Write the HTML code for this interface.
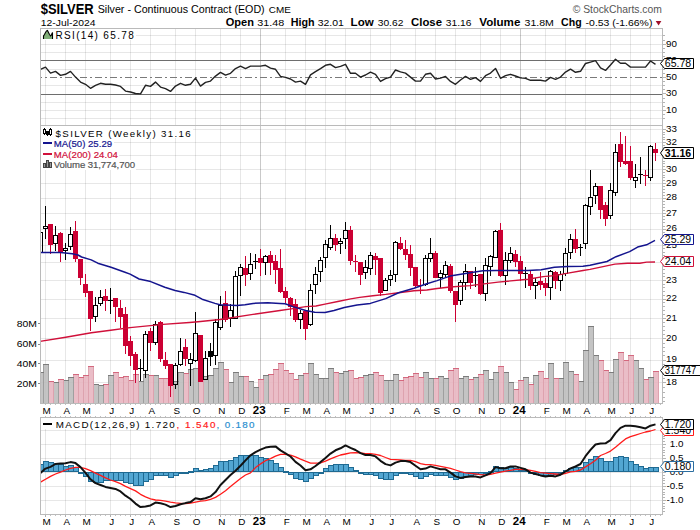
<!DOCTYPE html><html><head><meta charset="utf-8"><style>html,body{margin:0;padding:0;background:#fff;}svg{display:block;}</style></head><body><svg width="700" height="530" viewBox="0 0 700 530" shape-rendering="crispEdges">
<rect x="0" y="0" width="700" height="530" fill="#ffffff"/>
<line x1="45.5" y1="28" x2="45.5" y2="403" stroke="#000" stroke-width="1" stroke-opacity="0.095"/>
<line x1="45.5" y1="417" x2="45.5" y2="514" stroke="#000" stroke-width="1" stroke-opacity="0.095"/>
<line x1="65.5" y1="28" x2="65.5" y2="403" stroke="#000" stroke-width="1" stroke-opacity="0.095"/>
<line x1="65.5" y1="417" x2="65.5" y2="514" stroke="#000" stroke-width="1" stroke-opacity="0.095"/>
<line x1="85.5" y1="28" x2="85.5" y2="403" stroke="#000" stroke-width="1" stroke-opacity="0.095"/>
<line x1="85.5" y1="417" x2="85.5" y2="514" stroke="#000" stroke-width="1" stroke-opacity="0.095"/>
<line x1="110.5" y1="28" x2="110.5" y2="403" stroke="#000" stroke-width="1" stroke-opacity="0.095"/>
<line x1="110.5" y1="417" x2="110.5" y2="514" stroke="#000" stroke-width="1" stroke-opacity="0.095"/>
<line x1="130.5" y1="28" x2="130.5" y2="403" stroke="#000" stroke-width="1" stroke-opacity="0.095"/>
<line x1="130.5" y1="417" x2="130.5" y2="514" stroke="#000" stroke-width="1" stroke-opacity="0.095"/>
<line x1="150.5" y1="28" x2="150.5" y2="403" stroke="#000" stroke-width="1" stroke-opacity="0.095"/>
<line x1="150.5" y1="417" x2="150.5" y2="514" stroke="#000" stroke-width="1" stroke-opacity="0.095"/>
<line x1="175.5" y1="28" x2="175.5" y2="403" stroke="#000" stroke-width="1" stroke-opacity="0.095"/>
<line x1="175.5" y1="417" x2="175.5" y2="514" stroke="#000" stroke-width="1" stroke-opacity="0.095"/>
<line x1="195.5" y1="28" x2="195.5" y2="403" stroke="#000" stroke-width="1" stroke-opacity="0.095"/>
<line x1="195.5" y1="417" x2="195.5" y2="514" stroke="#000" stroke-width="1" stroke-opacity="0.095"/>
<line x1="220.5" y1="28" x2="220.5" y2="403" stroke="#000" stroke-width="1" stroke-opacity="0.095"/>
<line x1="220.5" y1="417" x2="220.5" y2="514" stroke="#000" stroke-width="1" stroke-opacity="0.095"/>
<line x1="240.5" y1="28" x2="240.5" y2="403" stroke="#000" stroke-width="1" stroke-opacity="0.095"/>
<line x1="240.5" y1="417" x2="240.5" y2="514" stroke="#000" stroke-width="1" stroke-opacity="0.095"/>
<line x1="260.5" y1="28" x2="260.5" y2="403" stroke="#000" stroke-width="1" stroke-opacity="0.21"/>
<line x1="260.5" y1="417" x2="260.5" y2="514" stroke="#000" stroke-width="1" stroke-opacity="0.21"/>
<line x1="285.5" y1="28" x2="285.5" y2="403" stroke="#000" stroke-width="1" stroke-opacity="0.095"/>
<line x1="285.5" y1="417" x2="285.5" y2="514" stroke="#000" stroke-width="1" stroke-opacity="0.095"/>
<line x1="305.5" y1="28" x2="305.5" y2="403" stroke="#000" stroke-width="1" stroke-opacity="0.095"/>
<line x1="305.5" y1="417" x2="305.5" y2="514" stroke="#000" stroke-width="1" stroke-opacity="0.095"/>
<line x1="325.5" y1="28" x2="325.5" y2="403" stroke="#000" stroke-width="1" stroke-opacity="0.095"/>
<line x1="325.5" y1="417" x2="325.5" y2="514" stroke="#000" stroke-width="1" stroke-opacity="0.095"/>
<line x1="345.5" y1="28" x2="345.5" y2="403" stroke="#000" stroke-width="1" stroke-opacity="0.095"/>
<line x1="345.5" y1="417" x2="345.5" y2="514" stroke="#000" stroke-width="1" stroke-opacity="0.095"/>
<line x1="370.5" y1="28" x2="370.5" y2="403" stroke="#000" stroke-width="1" stroke-opacity="0.095"/>
<line x1="370.5" y1="417" x2="370.5" y2="514" stroke="#000" stroke-width="1" stroke-opacity="0.095"/>
<line x1="390.5" y1="28" x2="390.5" y2="403" stroke="#000" stroke-width="1" stroke-opacity="0.095"/>
<line x1="390.5" y1="417" x2="390.5" y2="514" stroke="#000" stroke-width="1" stroke-opacity="0.095"/>
<line x1="415.5" y1="28" x2="415.5" y2="403" stroke="#000" stroke-width="1" stroke-opacity="0.095"/>
<line x1="415.5" y1="417" x2="415.5" y2="514" stroke="#000" stroke-width="1" stroke-opacity="0.095"/>
<line x1="435.5" y1="28" x2="435.5" y2="403" stroke="#000" stroke-width="1" stroke-opacity="0.095"/>
<line x1="435.5" y1="417" x2="435.5" y2="514" stroke="#000" stroke-width="1" stroke-opacity="0.095"/>
<line x1="455.5" y1="28" x2="455.5" y2="403" stroke="#000" stroke-width="1" stroke-opacity="0.095"/>
<line x1="455.5" y1="417" x2="455.5" y2="514" stroke="#000" stroke-width="1" stroke-opacity="0.095"/>
<line x1="480.5" y1="28" x2="480.5" y2="403" stroke="#000" stroke-width="1" stroke-opacity="0.095"/>
<line x1="480.5" y1="417" x2="480.5" y2="514" stroke="#000" stroke-width="1" stroke-opacity="0.095"/>
<line x1="500.5" y1="28" x2="500.5" y2="403" stroke="#000" stroke-width="1" stroke-opacity="0.095"/>
<line x1="500.5" y1="417" x2="500.5" y2="514" stroke="#000" stroke-width="1" stroke-opacity="0.095"/>
<line x1="520.5" y1="28" x2="520.5" y2="403" stroke="#000" stroke-width="1" stroke-opacity="0.21"/>
<line x1="520.5" y1="417" x2="520.5" y2="514" stroke="#000" stroke-width="1" stroke-opacity="0.21"/>
<line x1="545.5" y1="28" x2="545.5" y2="403" stroke="#000" stroke-width="1" stroke-opacity="0.095"/>
<line x1="545.5" y1="417" x2="545.5" y2="514" stroke="#000" stroke-width="1" stroke-opacity="0.095"/>
<line x1="565.5" y1="28" x2="565.5" y2="403" stroke="#000" stroke-width="1" stroke-opacity="0.095"/>
<line x1="565.5" y1="417" x2="565.5" y2="514" stroke="#000" stroke-width="1" stroke-opacity="0.095"/>
<line x1="585.5" y1="28" x2="585.5" y2="403" stroke="#000" stroke-width="1" stroke-opacity="0.095"/>
<line x1="585.5" y1="417" x2="585.5" y2="514" stroke="#000" stroke-width="1" stroke-opacity="0.095"/>
<line x1="610.5" y1="28" x2="610.5" y2="403" stroke="#000" stroke-width="1" stroke-opacity="0.095"/>
<line x1="610.5" y1="417" x2="610.5" y2="514" stroke="#000" stroke-width="1" stroke-opacity="0.095"/>
<line x1="630.5" y1="28" x2="630.5" y2="403" stroke="#000" stroke-width="1" stroke-opacity="0.095"/>
<line x1="630.5" y1="417" x2="630.5" y2="514" stroke="#000" stroke-width="1" stroke-opacity="0.095"/>
<line x1="650.5" y1="28" x2="650.5" y2="403" stroke="#000" stroke-width="1" stroke-opacity="0.095"/>
<line x1="650.5" y1="417" x2="650.5" y2="514" stroke="#000" stroke-width="1" stroke-opacity="0.095"/>
<line x1="40" y1="118.5" x2="662" y2="118.5" stroke="#000" stroke-width="1" stroke-opacity="0.095"/>
<line x1="40" y1="110.5" x2="662" y2="110.5" stroke="#000" stroke-width="1" stroke-opacity="0.095"/>
<line x1="40" y1="102.5" x2="662" y2="102.5" stroke="#000" stroke-width="1" stroke-opacity="0.095"/>
<line x1="40" y1="85.5" x2="662" y2="85.5" stroke="#000" stroke-width="1" stroke-opacity="0.095"/>
<line x1="40" y1="69.5" x2="662" y2="69.5" stroke="#000" stroke-width="1" stroke-opacity="0.095"/>
<line x1="40" y1="52.5" x2="662" y2="52.5" stroke="#000" stroke-width="1" stroke-opacity="0.095"/>
<line x1="40" y1="44.5" x2="662" y2="44.5" stroke="#000" stroke-width="1" stroke-opacity="0.095"/>
<line x1="40" y1="35.5" x2="662" y2="35.5" stroke="#000" stroke-width="1" stroke-opacity="0.095"/>
<line x1="40" y1="60.5" x2="662" y2="60.5" stroke="#6e6e6e" stroke-width="1" />
<line x1="40" y1="94.5" x2="662" y2="94.5" stroke="#6e6e6e" stroke-width="1" />
<line x1="40" y1="77.5" x2="662" y2="77.5" stroke="#7a7a7a" stroke-width="1" stroke-dasharray="7,3,2,3" stroke-dashoffset="5"/>
<line x1="40" y1="382.5" x2="662" y2="382.5" stroke="#000" stroke-width="1" stroke-opacity="0.095"/>
<line x1="40" y1="360.5" x2="662" y2="360.5" stroke="#000" stroke-width="1" stroke-opacity="0.095"/>
<line x1="40" y1="338.5" x2="662" y2="338.5" stroke="#000" stroke-width="1" stroke-opacity="0.095"/>
<line x1="40" y1="318.5" x2="662" y2="318.5" stroke="#000" stroke-width="1" stroke-opacity="0.095"/>
<line x1="40" y1="299.5" x2="662" y2="299.5" stroke="#000" stroke-width="1" stroke-opacity="0.095"/>
<line x1="40" y1="280.5" x2="662" y2="280.5" stroke="#000" stroke-width="1" stroke-opacity="0.095"/>
<line x1="40" y1="262.5" x2="662" y2="262.5" stroke="#000" stroke-width="1" stroke-opacity="0.095"/>
<line x1="40" y1="245.5" x2="662" y2="245.5" stroke="#000" stroke-width="1" stroke-opacity="0.095"/>
<line x1="40" y1="229.5" x2="662" y2="229.5" stroke="#000" stroke-width="1" stroke-opacity="0.095"/>
<line x1="40" y1="213.5" x2="662" y2="213.5" stroke="#000" stroke-width="1" stroke-opacity="0.095"/>
<line x1="40" y1="198.5" x2="662" y2="198.5" stroke="#000" stroke-width="1" stroke-opacity="0.095"/>
<line x1="40" y1="183.5" x2="662" y2="183.5" stroke="#000" stroke-width="1" stroke-opacity="0.095"/>
<line x1="40" y1="169.5" x2="662" y2="169.5" stroke="#000" stroke-width="1" stroke-opacity="0.095"/>
<line x1="40" y1="155.5" x2="662" y2="155.5" stroke="#000" stroke-width="1" stroke-opacity="0.095"/>
<line x1="40" y1="142.5" x2="662" y2="142.5" stroke="#000" stroke-width="1" stroke-opacity="0.095"/>
<line x1="40" y1="129.5" x2="662" y2="129.5" stroke="#000" stroke-width="1" stroke-opacity="0.095"/>
<line x1="40" y1="430.5" x2="662" y2="430.5" stroke="#000" stroke-width="1" stroke-opacity="0.095"/>
<line x1="40" y1="444.5" x2="662" y2="444.5" stroke="#000" stroke-width="1" stroke-opacity="0.095"/>
<line x1="40" y1="458.5" x2="662" y2="458.5" stroke="#000" stroke-width="1" stroke-opacity="0.095"/>
<line x1="40" y1="472.5" x2="662" y2="472.5" stroke="#000" stroke-width="1" stroke-opacity="0.095"/>
<line x1="40" y1="486.5" x2="662" y2="486.5" stroke="#000" stroke-width="1" stroke-opacity="0.095"/>
<line x1="40" y1="500.5" x2="662" y2="500.5" stroke="#000" stroke-width="1" stroke-opacity="0.095"/>
<rect x="653" y="371" width="6" height="32" fill="#e7b4bf" fill-opacity="0.88"/>
<line x1="653.5" y1="371" x2="653.5" y2="403" stroke="#dca0ac" stroke-width="1" stroke-opacity="0.9"/>
<line x1="658.5" y1="371" x2="658.5" y2="403" stroke="#dca0ac" stroke-width="1" stroke-opacity="0.9"/>
<line x1="653" y1="371.5" x2="659" y2="371.5" stroke="#d4687e" stroke-width="1"/>
<rect x="648" y="377" width="6" height="26" fill="#bcbcbc" fill-opacity="0.88"/>
<line x1="648.5" y1="377" x2="648.5" y2="403" stroke="#9c9c9c" stroke-width="1" stroke-opacity="0.9"/>
<line x1="653.5" y1="377" x2="653.5" y2="403" stroke="#9c9c9c" stroke-width="1" stroke-opacity="0.9"/>
<line x1="648" y1="377.5" x2="654" y2="377.5" stroke="#7c7c7c" stroke-width="1"/>
<rect x="643" y="379" width="6" height="24" fill="#e7b4bf" fill-opacity="0.88"/>
<line x1="643.5" y1="379" x2="643.5" y2="403" stroke="#dca0ac" stroke-width="1" stroke-opacity="0.9"/>
<line x1="648.5" y1="379" x2="648.5" y2="403" stroke="#dca0ac" stroke-width="1" stroke-opacity="0.9"/>
<line x1="643" y1="379.5" x2="649" y2="379.5" stroke="#d4687e" stroke-width="1"/>
<rect x="638" y="368" width="6" height="35" fill="#bcbcbc" fill-opacity="0.88"/>
<line x1="638.5" y1="368" x2="638.5" y2="403" stroke="#9c9c9c" stroke-width="1" stroke-opacity="0.9"/>
<line x1="643.5" y1="368" x2="643.5" y2="403" stroke="#9c9c9c" stroke-width="1" stroke-opacity="0.9"/>
<line x1="638" y1="368.5" x2="644" y2="368.5" stroke="#7c7c7c" stroke-width="1"/>
<rect x="633" y="360" width="6" height="43" fill="#bcbcbc" fill-opacity="0.88"/>
<line x1="633.5" y1="360" x2="633.5" y2="403" stroke="#9c9c9c" stroke-width="1" stroke-opacity="0.9"/>
<line x1="638.5" y1="360" x2="638.5" y2="403" stroke="#9c9c9c" stroke-width="1" stroke-opacity="0.9"/>
<line x1="633" y1="360.5" x2="639" y2="360.5" stroke="#7c7c7c" stroke-width="1"/>
<rect x="628" y="355" width="6" height="48" fill="#e7b4bf" fill-opacity="0.88"/>
<line x1="628.5" y1="355" x2="628.5" y2="403" stroke="#dca0ac" stroke-width="1" stroke-opacity="0.9"/>
<line x1="633.5" y1="355" x2="633.5" y2="403" stroke="#dca0ac" stroke-width="1" stroke-opacity="0.9"/>
<line x1="628" y1="355.5" x2="634" y2="355.5" stroke="#d4687e" stroke-width="1"/>
<rect x="623" y="360" width="6" height="43" fill="#e7b4bf" fill-opacity="0.88"/>
<line x1="623.5" y1="360" x2="623.5" y2="403" stroke="#dca0ac" stroke-width="1" stroke-opacity="0.9"/>
<line x1="628.5" y1="360" x2="628.5" y2="403" stroke="#dca0ac" stroke-width="1" stroke-opacity="0.9"/>
<line x1="623" y1="360.5" x2="629" y2="360.5" stroke="#d4687e" stroke-width="1"/>
<rect x="618" y="352" width="6" height="51" fill="#e7b4bf" fill-opacity="0.88"/>
<line x1="618.5" y1="352" x2="618.5" y2="403" stroke="#dca0ac" stroke-width="1" stroke-opacity="0.9"/>
<line x1="623.5" y1="352" x2="623.5" y2="403" stroke="#dca0ac" stroke-width="1" stroke-opacity="0.9"/>
<line x1="618" y1="352.5" x2="624" y2="352.5" stroke="#d4687e" stroke-width="1"/>
<rect x="613" y="359" width="6" height="44" fill="#bcbcbc" fill-opacity="0.88"/>
<line x1="613.5" y1="359" x2="613.5" y2="403" stroke="#9c9c9c" stroke-width="1" stroke-opacity="0.9"/>
<line x1="618.5" y1="359" x2="618.5" y2="403" stroke="#9c9c9c" stroke-width="1" stroke-opacity="0.9"/>
<line x1="613" y1="359.5" x2="619" y2="359.5" stroke="#7c7c7c" stroke-width="1"/>
<rect x="608" y="372" width="6" height="31" fill="#bcbcbc" fill-opacity="0.88"/>
<line x1="608.5" y1="372" x2="608.5" y2="403" stroke="#9c9c9c" stroke-width="1" stroke-opacity="0.9"/>
<line x1="613.5" y1="372" x2="613.5" y2="403" stroke="#9c9c9c" stroke-width="1" stroke-opacity="0.9"/>
<line x1="608" y1="372.5" x2="614" y2="372.5" stroke="#7c7c7c" stroke-width="1"/>
<rect x="603" y="370" width="6" height="33" fill="#e7b4bf" fill-opacity="0.88"/>
<line x1="603.5" y1="370" x2="603.5" y2="403" stroke="#dca0ac" stroke-width="1" stroke-opacity="0.9"/>
<line x1="608.5" y1="370" x2="608.5" y2="403" stroke="#dca0ac" stroke-width="1" stroke-opacity="0.9"/>
<line x1="603" y1="370.5" x2="609" y2="370.5" stroke="#d4687e" stroke-width="1"/>
<rect x="598" y="360" width="6" height="43" fill="#e7b4bf" fill-opacity="0.88"/>
<line x1="598.5" y1="360" x2="598.5" y2="403" stroke="#dca0ac" stroke-width="1" stroke-opacity="0.9"/>
<line x1="603.5" y1="360" x2="603.5" y2="403" stroke="#dca0ac" stroke-width="1" stroke-opacity="0.9"/>
<line x1="598" y1="360.5" x2="604" y2="360.5" stroke="#d4687e" stroke-width="1"/>
<rect x="593" y="355" width="6" height="48" fill="#bcbcbc" fill-opacity="0.88"/>
<line x1="593.5" y1="355" x2="593.5" y2="403" stroke="#9c9c9c" stroke-width="1" stroke-opacity="0.9"/>
<line x1="598.5" y1="355" x2="598.5" y2="403" stroke="#9c9c9c" stroke-width="1" stroke-opacity="0.9"/>
<line x1="593" y1="355.5" x2="599" y2="355.5" stroke="#7c7c7c" stroke-width="1"/>
<rect x="588" y="326" width="6" height="77" fill="#bcbcbc" fill-opacity="0.88"/>
<line x1="588.5" y1="326" x2="588.5" y2="403" stroke="#9c9c9c" stroke-width="1" stroke-opacity="0.9"/>
<line x1="593.5" y1="326" x2="593.5" y2="403" stroke="#9c9c9c" stroke-width="1" stroke-opacity="0.9"/>
<line x1="588" y1="326.5" x2="594" y2="326.5" stroke="#7c7c7c" stroke-width="1"/>
<rect x="583" y="350" width="6" height="53" fill="#bcbcbc" fill-opacity="0.88"/>
<line x1="583.5" y1="350" x2="583.5" y2="403" stroke="#9c9c9c" stroke-width="1" stroke-opacity="0.9"/>
<line x1="588.5" y1="350" x2="588.5" y2="403" stroke="#9c9c9c" stroke-width="1" stroke-opacity="0.9"/>
<line x1="583" y1="350.5" x2="589" y2="350.5" stroke="#7c7c7c" stroke-width="1"/>
<rect x="578" y="381" width="6" height="22" fill="#bcbcbc" fill-opacity="0.88"/>
<line x1="578.5" y1="381" x2="578.5" y2="403" stroke="#9c9c9c" stroke-width="1" stroke-opacity="0.9"/>
<line x1="583.5" y1="381" x2="583.5" y2="403" stroke="#9c9c9c" stroke-width="1" stroke-opacity="0.9"/>
<line x1="578" y1="381.5" x2="584" y2="381.5" stroke="#7c7c7c" stroke-width="1"/>
<rect x="573" y="374" width="6" height="29" fill="#e7b4bf" fill-opacity="0.88"/>
<line x1="573.5" y1="374" x2="573.5" y2="403" stroke="#dca0ac" stroke-width="1" stroke-opacity="0.9"/>
<line x1="578.5" y1="374" x2="578.5" y2="403" stroke="#dca0ac" stroke-width="1" stroke-opacity="0.9"/>
<line x1="573" y1="374.5" x2="579" y2="374.5" stroke="#d4687e" stroke-width="1"/>
<rect x="568" y="371" width="6" height="32" fill="#bcbcbc" fill-opacity="0.88"/>
<line x1="568.5" y1="371" x2="568.5" y2="403" stroke="#9c9c9c" stroke-width="1" stroke-opacity="0.9"/>
<line x1="573.5" y1="371" x2="573.5" y2="403" stroke="#9c9c9c" stroke-width="1" stroke-opacity="0.9"/>
<line x1="568" y1="371.5" x2="574" y2="371.5" stroke="#7c7c7c" stroke-width="1"/>
<rect x="563" y="362" width="6" height="41" fill="#bcbcbc" fill-opacity="0.88"/>
<line x1="563.5" y1="362" x2="563.5" y2="403" stroke="#9c9c9c" stroke-width="1" stroke-opacity="0.9"/>
<line x1="568.5" y1="362" x2="568.5" y2="403" stroke="#9c9c9c" stroke-width="1" stroke-opacity="0.9"/>
<line x1="563" y1="362.5" x2="569" y2="362.5" stroke="#7c7c7c" stroke-width="1"/>
<rect x="558" y="378" width="6" height="25" fill="#bcbcbc" fill-opacity="0.88"/>
<line x1="558.5" y1="378" x2="558.5" y2="403" stroke="#9c9c9c" stroke-width="1" stroke-opacity="0.9"/>
<line x1="563.5" y1="378" x2="563.5" y2="403" stroke="#9c9c9c" stroke-width="1" stroke-opacity="0.9"/>
<line x1="558" y1="378.5" x2="564" y2="378.5" stroke="#7c7c7c" stroke-width="1"/>
<rect x="553" y="378" width="6" height="25" fill="#e7b4bf" fill-opacity="0.88"/>
<line x1="553.5" y1="378" x2="553.5" y2="403" stroke="#dca0ac" stroke-width="1" stroke-opacity="0.9"/>
<line x1="558.5" y1="378" x2="558.5" y2="403" stroke="#dca0ac" stroke-width="1" stroke-opacity="0.9"/>
<line x1="553" y1="378.5" x2="559" y2="378.5" stroke="#d4687e" stroke-width="1"/>
<rect x="548" y="363" width="6" height="40" fill="#bcbcbc" fill-opacity="0.88"/>
<line x1="548.5" y1="363" x2="548.5" y2="403" stroke="#9c9c9c" stroke-width="1" stroke-opacity="0.9"/>
<line x1="553.5" y1="363" x2="553.5" y2="403" stroke="#9c9c9c" stroke-width="1" stroke-opacity="0.9"/>
<line x1="548" y1="363.5" x2="554" y2="363.5" stroke="#7c7c7c" stroke-width="1"/>
<rect x="543" y="378" width="6" height="25" fill="#e7b4bf" fill-opacity="0.88"/>
<line x1="543.5" y1="378" x2="543.5" y2="403" stroke="#dca0ac" stroke-width="1" stroke-opacity="0.9"/>
<line x1="548.5" y1="378" x2="548.5" y2="403" stroke="#dca0ac" stroke-width="1" stroke-opacity="0.9"/>
<line x1="543" y1="378.5" x2="549" y2="378.5" stroke="#d4687e" stroke-width="1"/>
<rect x="538" y="371" width="6" height="32" fill="#e7b4bf" fill-opacity="0.88"/>
<line x1="538.5" y1="371" x2="538.5" y2="403" stroke="#dca0ac" stroke-width="1" stroke-opacity="0.9"/>
<line x1="543.5" y1="371" x2="543.5" y2="403" stroke="#dca0ac" stroke-width="1" stroke-opacity="0.9"/>
<line x1="538" y1="371.5" x2="544" y2="371.5" stroke="#d4687e" stroke-width="1"/>
<rect x="533" y="375" width="6" height="28" fill="#bcbcbc" fill-opacity="0.88"/>
<line x1="533.5" y1="375" x2="533.5" y2="403" stroke="#9c9c9c" stroke-width="1" stroke-opacity="0.9"/>
<line x1="538.5" y1="375" x2="538.5" y2="403" stroke="#9c9c9c" stroke-width="1" stroke-opacity="0.9"/>
<line x1="533" y1="375.5" x2="539" y2="375.5" stroke="#7c7c7c" stroke-width="1"/>
<rect x="528" y="384" width="6" height="19" fill="#e7b4bf" fill-opacity="0.88"/>
<line x1="528.5" y1="384" x2="528.5" y2="403" stroke="#dca0ac" stroke-width="1" stroke-opacity="0.9"/>
<line x1="533.5" y1="384" x2="533.5" y2="403" stroke="#dca0ac" stroke-width="1" stroke-opacity="0.9"/>
<line x1="528" y1="384.5" x2="534" y2="384.5" stroke="#d4687e" stroke-width="1"/>
<rect x="523" y="377" width="6" height="26" fill="#bcbcbc" fill-opacity="0.88"/>
<line x1="523.5" y1="377" x2="523.5" y2="403" stroke="#9c9c9c" stroke-width="1" stroke-opacity="0.9"/>
<line x1="528.5" y1="377" x2="528.5" y2="403" stroke="#9c9c9c" stroke-width="1" stroke-opacity="0.9"/>
<line x1="523" y1="377.5" x2="529" y2="377.5" stroke="#7c7c7c" stroke-width="1"/>
<rect x="518" y="380" width="6" height="23" fill="#e7b4bf" fill-opacity="0.88"/>
<line x1="518.5" y1="380" x2="518.5" y2="403" stroke="#dca0ac" stroke-width="1" stroke-opacity="0.9"/>
<line x1="523.5" y1="380" x2="523.5" y2="403" stroke="#dca0ac" stroke-width="1" stroke-opacity="0.9"/>
<line x1="518" y1="380.5" x2="524" y2="380.5" stroke="#d4687e" stroke-width="1"/>
<rect x="513" y="389" width="6" height="14" fill="#e7b4bf" fill-opacity="0.88"/>
<line x1="513.5" y1="389" x2="513.5" y2="403" stroke="#dca0ac" stroke-width="1" stroke-opacity="0.9"/>
<line x1="518.5" y1="389" x2="518.5" y2="403" stroke="#dca0ac" stroke-width="1" stroke-opacity="0.9"/>
<line x1="513" y1="389.5" x2="519" y2="389.5" stroke="#d4687e" stroke-width="1"/>
<rect x="508" y="382" width="6" height="21" fill="#bcbcbc" fill-opacity="0.88"/>
<line x1="508.5" y1="382" x2="508.5" y2="403" stroke="#9c9c9c" stroke-width="1" stroke-opacity="0.9"/>
<line x1="513.5" y1="382" x2="513.5" y2="403" stroke="#9c9c9c" stroke-width="1" stroke-opacity="0.9"/>
<line x1="508" y1="382.5" x2="514" y2="382.5" stroke="#7c7c7c" stroke-width="1"/>
<rect x="503" y="372" width="6" height="31" fill="#bcbcbc" fill-opacity="0.88"/>
<line x1="503.5" y1="372" x2="503.5" y2="403" stroke="#9c9c9c" stroke-width="1" stroke-opacity="0.9"/>
<line x1="508.5" y1="372" x2="508.5" y2="403" stroke="#9c9c9c" stroke-width="1" stroke-opacity="0.9"/>
<line x1="503" y1="372.5" x2="509" y2="372.5" stroke="#7c7c7c" stroke-width="1"/>
<rect x="498" y="366" width="6" height="37" fill="#e7b4bf" fill-opacity="0.88"/>
<line x1="498.5" y1="366" x2="498.5" y2="403" stroke="#dca0ac" stroke-width="1" stroke-opacity="0.9"/>
<line x1="503.5" y1="366" x2="503.5" y2="403" stroke="#dca0ac" stroke-width="1" stroke-opacity="0.9"/>
<line x1="498" y1="366.5" x2="504" y2="366.5" stroke="#d4687e" stroke-width="1"/>
<rect x="493" y="372" width="6" height="31" fill="#bcbcbc" fill-opacity="0.88"/>
<line x1="493.5" y1="372" x2="493.5" y2="403" stroke="#9c9c9c" stroke-width="1" stroke-opacity="0.9"/>
<line x1="498.5" y1="372" x2="498.5" y2="403" stroke="#9c9c9c" stroke-width="1" stroke-opacity="0.9"/>
<line x1="493" y1="372.5" x2="499" y2="372.5" stroke="#7c7c7c" stroke-width="1"/>
<rect x="488" y="379" width="6" height="24" fill="#bcbcbc" fill-opacity="0.88"/>
<line x1="488.5" y1="379" x2="488.5" y2="403" stroke="#9c9c9c" stroke-width="1" stroke-opacity="0.9"/>
<line x1="493.5" y1="379" x2="493.5" y2="403" stroke="#9c9c9c" stroke-width="1" stroke-opacity="0.9"/>
<line x1="488" y1="379.5" x2="494" y2="379.5" stroke="#7c7c7c" stroke-width="1"/>
<rect x="483" y="370" width="6" height="33" fill="#bcbcbc" fill-opacity="0.88"/>
<line x1="483.5" y1="370" x2="483.5" y2="403" stroke="#9c9c9c" stroke-width="1" stroke-opacity="0.9"/>
<line x1="488.5" y1="370" x2="488.5" y2="403" stroke="#9c9c9c" stroke-width="1" stroke-opacity="0.9"/>
<line x1="483" y1="370.5" x2="489" y2="370.5" stroke="#7c7c7c" stroke-width="1"/>
<rect x="478" y="374" width="6" height="29" fill="#e7b4bf" fill-opacity="0.88"/>
<line x1="478.5" y1="374" x2="478.5" y2="403" stroke="#dca0ac" stroke-width="1" stroke-opacity="0.9"/>
<line x1="483.5" y1="374" x2="483.5" y2="403" stroke="#dca0ac" stroke-width="1" stroke-opacity="0.9"/>
<line x1="478" y1="374.5" x2="484" y2="374.5" stroke="#d4687e" stroke-width="1"/>
<rect x="473" y="377" width="6" height="26" fill="#bcbcbc" fill-opacity="0.88"/>
<line x1="473.5" y1="377" x2="473.5" y2="403" stroke="#9c9c9c" stroke-width="1" stroke-opacity="0.9"/>
<line x1="478.5" y1="377" x2="478.5" y2="403" stroke="#9c9c9c" stroke-width="1" stroke-opacity="0.9"/>
<line x1="473" y1="377.5" x2="479" y2="377.5" stroke="#7c7c7c" stroke-width="1"/>
<rect x="468" y="379" width="6" height="24" fill="#e7b4bf" fill-opacity="0.88"/>
<line x1="468.5" y1="379" x2="468.5" y2="403" stroke="#dca0ac" stroke-width="1" stroke-opacity="0.9"/>
<line x1="473.5" y1="379" x2="473.5" y2="403" stroke="#dca0ac" stroke-width="1" stroke-opacity="0.9"/>
<line x1="468" y1="379.5" x2="474" y2="379.5" stroke="#d4687e" stroke-width="1"/>
<rect x="463" y="376" width="6" height="27" fill="#bcbcbc" fill-opacity="0.88"/>
<line x1="463.5" y1="376" x2="463.5" y2="403" stroke="#9c9c9c" stroke-width="1" stroke-opacity="0.9"/>
<line x1="468.5" y1="376" x2="468.5" y2="403" stroke="#9c9c9c" stroke-width="1" stroke-opacity="0.9"/>
<line x1="463" y1="376.5" x2="469" y2="376.5" stroke="#7c7c7c" stroke-width="1"/>
<rect x="458" y="378" width="6" height="25" fill="#bcbcbc" fill-opacity="0.88"/>
<line x1="458.5" y1="378" x2="458.5" y2="403" stroke="#9c9c9c" stroke-width="1" stroke-opacity="0.9"/>
<line x1="463.5" y1="378" x2="463.5" y2="403" stroke="#9c9c9c" stroke-width="1" stroke-opacity="0.9"/>
<line x1="458" y1="378.5" x2="464" y2="378.5" stroke="#7c7c7c" stroke-width="1"/>
<rect x="453" y="368" width="6" height="35" fill="#e7b4bf" fill-opacity="0.88"/>
<line x1="453.5" y1="368" x2="453.5" y2="403" stroke="#dca0ac" stroke-width="1" stroke-opacity="0.9"/>
<line x1="458.5" y1="368" x2="458.5" y2="403" stroke="#dca0ac" stroke-width="1" stroke-opacity="0.9"/>
<line x1="453" y1="368.5" x2="459" y2="368.5" stroke="#d4687e" stroke-width="1"/>
<rect x="448" y="370" width="6" height="33" fill="#e7b4bf" fill-opacity="0.88"/>
<line x1="448.5" y1="370" x2="448.5" y2="403" stroke="#dca0ac" stroke-width="1" stroke-opacity="0.9"/>
<line x1="453.5" y1="370" x2="453.5" y2="403" stroke="#dca0ac" stroke-width="1" stroke-opacity="0.9"/>
<line x1="448" y1="370.5" x2="454" y2="370.5" stroke="#d4687e" stroke-width="1"/>
<rect x="443" y="378" width="6" height="25" fill="#bcbcbc" fill-opacity="0.88"/>
<line x1="443.5" y1="378" x2="443.5" y2="403" stroke="#9c9c9c" stroke-width="1" stroke-opacity="0.9"/>
<line x1="448.5" y1="378" x2="448.5" y2="403" stroke="#9c9c9c" stroke-width="1" stroke-opacity="0.9"/>
<line x1="443" y1="378.5" x2="449" y2="378.5" stroke="#7c7c7c" stroke-width="1"/>
<rect x="438" y="376" width="6" height="27" fill="#bcbcbc" fill-opacity="0.88"/>
<line x1="438.5" y1="376" x2="438.5" y2="403" stroke="#9c9c9c" stroke-width="1" stroke-opacity="0.9"/>
<line x1="443.5" y1="376" x2="443.5" y2="403" stroke="#9c9c9c" stroke-width="1" stroke-opacity="0.9"/>
<line x1="438" y1="376.5" x2="444" y2="376.5" stroke="#7c7c7c" stroke-width="1"/>
<rect x="433" y="378" width="6" height="25" fill="#e7b4bf" fill-opacity="0.88"/>
<line x1="433.5" y1="378" x2="433.5" y2="403" stroke="#dca0ac" stroke-width="1" stroke-opacity="0.9"/>
<line x1="438.5" y1="378" x2="438.5" y2="403" stroke="#dca0ac" stroke-width="1" stroke-opacity="0.9"/>
<line x1="433" y1="378.5" x2="439" y2="378.5" stroke="#d4687e" stroke-width="1"/>
<rect x="428" y="378" width="6" height="25" fill="#bcbcbc" fill-opacity="0.88"/>
<line x1="428.5" y1="378" x2="428.5" y2="403" stroke="#9c9c9c" stroke-width="1" stroke-opacity="0.9"/>
<line x1="433.5" y1="378" x2="433.5" y2="403" stroke="#9c9c9c" stroke-width="1" stroke-opacity="0.9"/>
<line x1="428" y1="378.5" x2="434" y2="378.5" stroke="#7c7c7c" stroke-width="1"/>
<rect x="423" y="372" width="6" height="31" fill="#bcbcbc" fill-opacity="0.88"/>
<line x1="423.5" y1="372" x2="423.5" y2="403" stroke="#9c9c9c" stroke-width="1" stroke-opacity="0.9"/>
<line x1="428.5" y1="372" x2="428.5" y2="403" stroke="#9c9c9c" stroke-width="1" stroke-opacity="0.9"/>
<line x1="423" y1="372.5" x2="429" y2="372.5" stroke="#7c7c7c" stroke-width="1"/>
<rect x="418" y="377" width="6" height="26" fill="#e7b4bf" fill-opacity="0.88"/>
<line x1="418.5" y1="377" x2="418.5" y2="403" stroke="#dca0ac" stroke-width="1" stroke-opacity="0.9"/>
<line x1="423.5" y1="377" x2="423.5" y2="403" stroke="#dca0ac" stroke-width="1" stroke-opacity="0.9"/>
<line x1="418" y1="377.5" x2="424" y2="377.5" stroke="#d4687e" stroke-width="1"/>
<rect x="413" y="373" width="6" height="30" fill="#e7b4bf" fill-opacity="0.88"/>
<line x1="413.5" y1="373" x2="413.5" y2="403" stroke="#dca0ac" stroke-width="1" stroke-opacity="0.9"/>
<line x1="418.5" y1="373" x2="418.5" y2="403" stroke="#dca0ac" stroke-width="1" stroke-opacity="0.9"/>
<line x1="413" y1="373.5" x2="419" y2="373.5" stroke="#d4687e" stroke-width="1"/>
<rect x="408" y="376" width="6" height="27" fill="#e7b4bf" fill-opacity="0.88"/>
<line x1="408.5" y1="376" x2="408.5" y2="403" stroke="#dca0ac" stroke-width="1" stroke-opacity="0.9"/>
<line x1="413.5" y1="376" x2="413.5" y2="403" stroke="#dca0ac" stroke-width="1" stroke-opacity="0.9"/>
<line x1="408" y1="376.5" x2="414" y2="376.5" stroke="#d4687e" stroke-width="1"/>
<rect x="403" y="377" width="6" height="26" fill="#e7b4bf" fill-opacity="0.88"/>
<line x1="403.5" y1="377" x2="403.5" y2="403" stroke="#dca0ac" stroke-width="1" stroke-opacity="0.9"/>
<line x1="408.5" y1="377" x2="408.5" y2="403" stroke="#dca0ac" stroke-width="1" stroke-opacity="0.9"/>
<line x1="403" y1="377.5" x2="409" y2="377.5" stroke="#d4687e" stroke-width="1"/>
<rect x="398" y="380" width="6" height="23" fill="#e7b4bf" fill-opacity="0.88"/>
<line x1="398.5" y1="380" x2="398.5" y2="403" stroke="#dca0ac" stroke-width="1" stroke-opacity="0.9"/>
<line x1="403.5" y1="380" x2="403.5" y2="403" stroke="#dca0ac" stroke-width="1" stroke-opacity="0.9"/>
<line x1="398" y1="380.5" x2="404" y2="380.5" stroke="#d4687e" stroke-width="1"/>
<rect x="393" y="374" width="6" height="29" fill="#bcbcbc" fill-opacity="0.88"/>
<line x1="393.5" y1="374" x2="393.5" y2="403" stroke="#9c9c9c" stroke-width="1" stroke-opacity="0.9"/>
<line x1="398.5" y1="374" x2="398.5" y2="403" stroke="#9c9c9c" stroke-width="1" stroke-opacity="0.9"/>
<line x1="393" y1="374.5" x2="399" y2="374.5" stroke="#7c7c7c" stroke-width="1"/>
<rect x="388" y="380" width="6" height="23" fill="#bcbcbc" fill-opacity="0.88"/>
<line x1="388.5" y1="380" x2="388.5" y2="403" stroke="#9c9c9c" stroke-width="1" stroke-opacity="0.9"/>
<line x1="393.5" y1="380" x2="393.5" y2="403" stroke="#9c9c9c" stroke-width="1" stroke-opacity="0.9"/>
<line x1="388" y1="380.5" x2="394" y2="380.5" stroke="#7c7c7c" stroke-width="1"/>
<rect x="383" y="380" width="6" height="23" fill="#bcbcbc" fill-opacity="0.88"/>
<line x1="383.5" y1="380" x2="383.5" y2="403" stroke="#9c9c9c" stroke-width="1" stroke-opacity="0.9"/>
<line x1="388.5" y1="380" x2="388.5" y2="403" stroke="#9c9c9c" stroke-width="1" stroke-opacity="0.9"/>
<line x1="383" y1="380.5" x2="389" y2="380.5" stroke="#7c7c7c" stroke-width="1"/>
<rect x="378" y="375" width="6" height="28" fill="#e7b4bf" fill-opacity="0.88"/>
<line x1="378.5" y1="375" x2="378.5" y2="403" stroke="#dca0ac" stroke-width="1" stroke-opacity="0.9"/>
<line x1="383.5" y1="375" x2="383.5" y2="403" stroke="#dca0ac" stroke-width="1" stroke-opacity="0.9"/>
<line x1="378" y1="375.5" x2="384" y2="375.5" stroke="#d4687e" stroke-width="1"/>
<rect x="373" y="372" width="6" height="31" fill="#e7b4bf" fill-opacity="0.88"/>
<line x1="373.5" y1="372" x2="373.5" y2="403" stroke="#dca0ac" stroke-width="1" stroke-opacity="0.9"/>
<line x1="378.5" y1="372" x2="378.5" y2="403" stroke="#dca0ac" stroke-width="1" stroke-opacity="0.9"/>
<line x1="373" y1="372.5" x2="379" y2="372.5" stroke="#d4687e" stroke-width="1"/>
<rect x="368" y="374" width="6" height="29" fill="#bcbcbc" fill-opacity="0.88"/>
<line x1="368.5" y1="374" x2="368.5" y2="403" stroke="#9c9c9c" stroke-width="1" stroke-opacity="0.9"/>
<line x1="373.5" y1="374" x2="373.5" y2="403" stroke="#9c9c9c" stroke-width="1" stroke-opacity="0.9"/>
<line x1="368" y1="374.5" x2="374" y2="374.5" stroke="#7c7c7c" stroke-width="1"/>
<rect x="363" y="375" width="6" height="28" fill="#bcbcbc" fill-opacity="0.88"/>
<line x1="363.5" y1="375" x2="363.5" y2="403" stroke="#9c9c9c" stroke-width="1" stroke-opacity="0.9"/>
<line x1="368.5" y1="375" x2="368.5" y2="403" stroke="#9c9c9c" stroke-width="1" stroke-opacity="0.9"/>
<line x1="363" y1="375.5" x2="369" y2="375.5" stroke="#7c7c7c" stroke-width="1"/>
<rect x="358" y="377" width="6" height="26" fill="#e7b4bf" fill-opacity="0.88"/>
<line x1="358.5" y1="377" x2="358.5" y2="403" stroke="#dca0ac" stroke-width="1" stroke-opacity="0.9"/>
<line x1="363.5" y1="377" x2="363.5" y2="403" stroke="#dca0ac" stroke-width="1" stroke-opacity="0.9"/>
<line x1="358" y1="377.5" x2="364" y2="377.5" stroke="#d4687e" stroke-width="1"/>
<rect x="353" y="378" width="6" height="25" fill="#e7b4bf" fill-opacity="0.88"/>
<line x1="353.5" y1="378" x2="353.5" y2="403" stroke="#dca0ac" stroke-width="1" stroke-opacity="0.9"/>
<line x1="358.5" y1="378" x2="358.5" y2="403" stroke="#dca0ac" stroke-width="1" stroke-opacity="0.9"/>
<line x1="353" y1="378.5" x2="359" y2="378.5" stroke="#d4687e" stroke-width="1"/>
<rect x="348" y="370" width="6" height="33" fill="#e7b4bf" fill-opacity="0.88"/>
<line x1="348.5" y1="370" x2="348.5" y2="403" stroke="#dca0ac" stroke-width="1" stroke-opacity="0.9"/>
<line x1="353.5" y1="370" x2="353.5" y2="403" stroke="#dca0ac" stroke-width="1" stroke-opacity="0.9"/>
<line x1="348" y1="370.5" x2="354" y2="370.5" stroke="#d4687e" stroke-width="1"/>
<rect x="343" y="371" width="6" height="32" fill="#bcbcbc" fill-opacity="0.88"/>
<line x1="343.5" y1="371" x2="343.5" y2="403" stroke="#9c9c9c" stroke-width="1" stroke-opacity="0.9"/>
<line x1="348.5" y1="371" x2="348.5" y2="403" stroke="#9c9c9c" stroke-width="1" stroke-opacity="0.9"/>
<line x1="343" y1="371.5" x2="349" y2="371.5" stroke="#7c7c7c" stroke-width="1"/>
<rect x="338" y="373" width="6" height="30" fill="#bcbcbc" fill-opacity="0.88"/>
<line x1="338.5" y1="373" x2="338.5" y2="403" stroke="#9c9c9c" stroke-width="1" stroke-opacity="0.9"/>
<line x1="343.5" y1="373" x2="343.5" y2="403" stroke="#9c9c9c" stroke-width="1" stroke-opacity="0.9"/>
<line x1="338" y1="373.5" x2="344" y2="373.5" stroke="#7c7c7c" stroke-width="1"/>
<rect x="333" y="372" width="6" height="31" fill="#e7b4bf" fill-opacity="0.88"/>
<line x1="333.5" y1="372" x2="333.5" y2="403" stroke="#dca0ac" stroke-width="1" stroke-opacity="0.9"/>
<line x1="338.5" y1="372" x2="338.5" y2="403" stroke="#dca0ac" stroke-width="1" stroke-opacity="0.9"/>
<line x1="333" y1="372.5" x2="339" y2="372.5" stroke="#d4687e" stroke-width="1"/>
<rect x="328" y="368" width="6" height="35" fill="#bcbcbc" fill-opacity="0.88"/>
<line x1="328.5" y1="368" x2="328.5" y2="403" stroke="#9c9c9c" stroke-width="1" stroke-opacity="0.9"/>
<line x1="333.5" y1="368" x2="333.5" y2="403" stroke="#9c9c9c" stroke-width="1" stroke-opacity="0.9"/>
<line x1="328" y1="368.5" x2="334" y2="368.5" stroke="#7c7c7c" stroke-width="1"/>
<rect x="323" y="378" width="6" height="25" fill="#bcbcbc" fill-opacity="0.88"/>
<line x1="323.5" y1="378" x2="323.5" y2="403" stroke="#9c9c9c" stroke-width="1" stroke-opacity="0.9"/>
<line x1="328.5" y1="378" x2="328.5" y2="403" stroke="#9c9c9c" stroke-width="1" stroke-opacity="0.9"/>
<line x1="323" y1="378.5" x2="329" y2="378.5" stroke="#7c7c7c" stroke-width="1"/>
<rect x="318" y="378" width="6" height="25" fill="#bcbcbc" fill-opacity="0.88"/>
<line x1="318.5" y1="378" x2="318.5" y2="403" stroke="#9c9c9c" stroke-width="1" stroke-opacity="0.9"/>
<line x1="323.5" y1="378" x2="323.5" y2="403" stroke="#9c9c9c" stroke-width="1" stroke-opacity="0.9"/>
<line x1="318" y1="378.5" x2="324" y2="378.5" stroke="#7c7c7c" stroke-width="1"/>
<rect x="313" y="374" width="6" height="29" fill="#bcbcbc" fill-opacity="0.88"/>
<line x1="313.5" y1="374" x2="313.5" y2="403" stroke="#9c9c9c" stroke-width="1" stroke-opacity="0.9"/>
<line x1="318.5" y1="374" x2="318.5" y2="403" stroke="#9c9c9c" stroke-width="1" stroke-opacity="0.9"/>
<line x1="313" y1="374.5" x2="319" y2="374.5" stroke="#7c7c7c" stroke-width="1"/>
<rect x="308" y="363" width="6" height="40" fill="#bcbcbc" fill-opacity="0.88"/>
<line x1="308.5" y1="363" x2="308.5" y2="403" stroke="#9c9c9c" stroke-width="1" stroke-opacity="0.9"/>
<line x1="313.5" y1="363" x2="313.5" y2="403" stroke="#9c9c9c" stroke-width="1" stroke-opacity="0.9"/>
<line x1="308" y1="363.5" x2="314" y2="363.5" stroke="#7c7c7c" stroke-width="1"/>
<rect x="303" y="373" width="6" height="30" fill="#e7b4bf" fill-opacity="0.88"/>
<line x1="303.5" y1="373" x2="303.5" y2="403" stroke="#dca0ac" stroke-width="1" stroke-opacity="0.9"/>
<line x1="308.5" y1="373" x2="308.5" y2="403" stroke="#dca0ac" stroke-width="1" stroke-opacity="0.9"/>
<line x1="303" y1="373.5" x2="309" y2="373.5" stroke="#d4687e" stroke-width="1"/>
<rect x="298" y="375" width="6" height="28" fill="#bcbcbc" fill-opacity="0.88"/>
<line x1="298.5" y1="375" x2="298.5" y2="403" stroke="#9c9c9c" stroke-width="1" stroke-opacity="0.9"/>
<line x1="303.5" y1="375" x2="303.5" y2="403" stroke="#9c9c9c" stroke-width="1" stroke-opacity="0.9"/>
<line x1="298" y1="375.5" x2="304" y2="375.5" stroke="#7c7c7c" stroke-width="1"/>
<rect x="293" y="379" width="6" height="24" fill="#e7b4bf" fill-opacity="0.88"/>
<line x1="293.5" y1="379" x2="293.5" y2="403" stroke="#dca0ac" stroke-width="1" stroke-opacity="0.9"/>
<line x1="298.5" y1="379" x2="298.5" y2="403" stroke="#dca0ac" stroke-width="1" stroke-opacity="0.9"/>
<line x1="293" y1="379.5" x2="299" y2="379.5" stroke="#d4687e" stroke-width="1"/>
<rect x="288" y="373" width="6" height="30" fill="#e7b4bf" fill-opacity="0.88"/>
<line x1="288.5" y1="373" x2="288.5" y2="403" stroke="#dca0ac" stroke-width="1" stroke-opacity="0.9"/>
<line x1="293.5" y1="373" x2="293.5" y2="403" stroke="#dca0ac" stroke-width="1" stroke-opacity="0.9"/>
<line x1="288" y1="373.5" x2="294" y2="373.5" stroke="#d4687e" stroke-width="1"/>
<rect x="283" y="370" width="6" height="33" fill="#e7b4bf" fill-opacity="0.88"/>
<line x1="283.5" y1="370" x2="283.5" y2="403" stroke="#dca0ac" stroke-width="1" stroke-opacity="0.9"/>
<line x1="288.5" y1="370" x2="288.5" y2="403" stroke="#dca0ac" stroke-width="1" stroke-opacity="0.9"/>
<line x1="283" y1="370.5" x2="289" y2="370.5" stroke="#d4687e" stroke-width="1"/>
<rect x="278" y="363" width="6" height="40" fill="#e7b4bf" fill-opacity="0.88"/>
<line x1="278.5" y1="363" x2="278.5" y2="403" stroke="#dca0ac" stroke-width="1" stroke-opacity="0.9"/>
<line x1="283.5" y1="363" x2="283.5" y2="403" stroke="#dca0ac" stroke-width="1" stroke-opacity="0.9"/>
<line x1="278" y1="363.5" x2="284" y2="363.5" stroke="#d4687e" stroke-width="1"/>
<rect x="273" y="369" width="6" height="34" fill="#e7b4bf" fill-opacity="0.88"/>
<line x1="273.5" y1="369" x2="273.5" y2="403" stroke="#dca0ac" stroke-width="1" stroke-opacity="0.9"/>
<line x1="278.5" y1="369" x2="278.5" y2="403" stroke="#dca0ac" stroke-width="1" stroke-opacity="0.9"/>
<line x1="273" y1="369.5" x2="279" y2="369.5" stroke="#d4687e" stroke-width="1"/>
<rect x="268" y="374" width="6" height="29" fill="#e7b4bf" fill-opacity="0.88"/>
<line x1="268.5" y1="374" x2="268.5" y2="403" stroke="#dca0ac" stroke-width="1" stroke-opacity="0.9"/>
<line x1="273.5" y1="374" x2="273.5" y2="403" stroke="#dca0ac" stroke-width="1" stroke-opacity="0.9"/>
<line x1="268" y1="374.5" x2="274" y2="374.5" stroke="#d4687e" stroke-width="1"/>
<rect x="263" y="375" width="6" height="28" fill="#bcbcbc" fill-opacity="0.88"/>
<line x1="263.5" y1="375" x2="263.5" y2="403" stroke="#9c9c9c" stroke-width="1" stroke-opacity="0.9"/>
<line x1="268.5" y1="375" x2="268.5" y2="403" stroke="#9c9c9c" stroke-width="1" stroke-opacity="0.9"/>
<line x1="263" y1="375.5" x2="269" y2="375.5" stroke="#7c7c7c" stroke-width="1"/>
<rect x="258" y="379" width="6" height="24" fill="#e7b4bf" fill-opacity="0.88"/>
<line x1="258.5" y1="379" x2="258.5" y2="403" stroke="#dca0ac" stroke-width="1" stroke-opacity="0.9"/>
<line x1="263.5" y1="379" x2="263.5" y2="403" stroke="#dca0ac" stroke-width="1" stroke-opacity="0.9"/>
<line x1="258" y1="379.5" x2="264" y2="379.5" stroke="#d4687e" stroke-width="1"/>
<rect x="253" y="387" width="6" height="16" fill="#bcbcbc" fill-opacity="0.88"/>
<line x1="253.5" y1="387" x2="253.5" y2="403" stroke="#9c9c9c" stroke-width="1" stroke-opacity="0.9"/>
<line x1="258.5" y1="387" x2="258.5" y2="403" stroke="#9c9c9c" stroke-width="1" stroke-opacity="0.9"/>
<line x1="253" y1="387.5" x2="259" y2="387.5" stroke="#7c7c7c" stroke-width="1"/>
<rect x="248" y="381" width="6" height="22" fill="#bcbcbc" fill-opacity="0.88"/>
<line x1="248.5" y1="381" x2="248.5" y2="403" stroke="#9c9c9c" stroke-width="1" stroke-opacity="0.9"/>
<line x1="253.5" y1="381" x2="253.5" y2="403" stroke="#9c9c9c" stroke-width="1" stroke-opacity="0.9"/>
<line x1="248" y1="381.5" x2="254" y2="381.5" stroke="#7c7c7c" stroke-width="1"/>
<rect x="243" y="376" width="6" height="27" fill="#e7b4bf" fill-opacity="0.88"/>
<line x1="243.5" y1="376" x2="243.5" y2="403" stroke="#dca0ac" stroke-width="1" stroke-opacity="0.9"/>
<line x1="248.5" y1="376" x2="248.5" y2="403" stroke="#dca0ac" stroke-width="1" stroke-opacity="0.9"/>
<line x1="243" y1="376.5" x2="249" y2="376.5" stroke="#d4687e" stroke-width="1"/>
<rect x="238" y="376" width="6" height="27" fill="#bcbcbc" fill-opacity="0.88"/>
<line x1="238.5" y1="376" x2="238.5" y2="403" stroke="#9c9c9c" stroke-width="1" stroke-opacity="0.9"/>
<line x1="243.5" y1="376" x2="243.5" y2="403" stroke="#9c9c9c" stroke-width="1" stroke-opacity="0.9"/>
<line x1="238" y1="376.5" x2="244" y2="376.5" stroke="#7c7c7c" stroke-width="1"/>
<rect x="233" y="372" width="6" height="31" fill="#bcbcbc" fill-opacity="0.88"/>
<line x1="233.5" y1="372" x2="233.5" y2="403" stroke="#9c9c9c" stroke-width="1" stroke-opacity="0.9"/>
<line x1="238.5" y1="372" x2="238.5" y2="403" stroke="#9c9c9c" stroke-width="1" stroke-opacity="0.9"/>
<line x1="233" y1="372.5" x2="239" y2="372.5" stroke="#7c7c7c" stroke-width="1"/>
<rect x="228" y="382" width="6" height="21" fill="#bcbcbc" fill-opacity="0.88"/>
<line x1="228.5" y1="382" x2="228.5" y2="403" stroke="#9c9c9c" stroke-width="1" stroke-opacity="0.9"/>
<line x1="233.5" y1="382" x2="233.5" y2="403" stroke="#9c9c9c" stroke-width="1" stroke-opacity="0.9"/>
<line x1="228" y1="382.5" x2="234" y2="382.5" stroke="#7c7c7c" stroke-width="1"/>
<rect x="223" y="369" width="6" height="34" fill="#e7b4bf" fill-opacity="0.88"/>
<line x1="223.5" y1="369" x2="223.5" y2="403" stroke="#dca0ac" stroke-width="1" stroke-opacity="0.9"/>
<line x1="228.5" y1="369" x2="228.5" y2="403" stroke="#dca0ac" stroke-width="1" stroke-opacity="0.9"/>
<line x1="223" y1="369.5" x2="229" y2="369.5" stroke="#d4687e" stroke-width="1"/>
<rect x="218" y="362" width="6" height="41" fill="#bcbcbc" fill-opacity="0.88"/>
<line x1="218.5" y1="362" x2="218.5" y2="403" stroke="#9c9c9c" stroke-width="1" stroke-opacity="0.9"/>
<line x1="223.5" y1="362" x2="223.5" y2="403" stroke="#9c9c9c" stroke-width="1" stroke-opacity="0.9"/>
<line x1="218" y1="362.5" x2="224" y2="362.5" stroke="#7c7c7c" stroke-width="1"/>
<rect x="213" y="368" width="6" height="35" fill="#bcbcbc" fill-opacity="0.88"/>
<line x1="213.5" y1="368" x2="213.5" y2="403" stroke="#9c9c9c" stroke-width="1" stroke-opacity="0.9"/>
<line x1="218.5" y1="368" x2="218.5" y2="403" stroke="#9c9c9c" stroke-width="1" stroke-opacity="0.9"/>
<line x1="213" y1="368.5" x2="219" y2="368.5" stroke="#7c7c7c" stroke-width="1"/>
<rect x="208" y="375" width="6" height="28" fill="#bcbcbc" fill-opacity="0.88"/>
<line x1="208.5" y1="375" x2="208.5" y2="403" stroke="#9c9c9c" stroke-width="1" stroke-opacity="0.9"/>
<line x1="213.5" y1="375" x2="213.5" y2="403" stroke="#9c9c9c" stroke-width="1" stroke-opacity="0.9"/>
<line x1="208" y1="375.5" x2="214" y2="375.5" stroke="#7c7c7c" stroke-width="1"/>
<rect x="203" y="376" width="6" height="27" fill="#bcbcbc" fill-opacity="0.88"/>
<line x1="203.5" y1="376" x2="203.5" y2="403" stroke="#9c9c9c" stroke-width="1" stroke-opacity="0.9"/>
<line x1="208.5" y1="376" x2="208.5" y2="403" stroke="#9c9c9c" stroke-width="1" stroke-opacity="0.9"/>
<line x1="203" y1="376.5" x2="209" y2="376.5" stroke="#7c7c7c" stroke-width="1"/>
<rect x="198" y="376" width="6" height="27" fill="#e7b4bf" fill-opacity="0.88"/>
<line x1="198.5" y1="376" x2="198.5" y2="403" stroke="#dca0ac" stroke-width="1" stroke-opacity="0.9"/>
<line x1="203.5" y1="376" x2="203.5" y2="403" stroke="#dca0ac" stroke-width="1" stroke-opacity="0.9"/>
<line x1="198" y1="376.5" x2="204" y2="376.5" stroke="#d4687e" stroke-width="1"/>
<rect x="193" y="368" width="6" height="35" fill="#bcbcbc" fill-opacity="0.88"/>
<line x1="193.5" y1="368" x2="193.5" y2="403" stroke="#9c9c9c" stroke-width="1" stroke-opacity="0.9"/>
<line x1="198.5" y1="368" x2="198.5" y2="403" stroke="#9c9c9c" stroke-width="1" stroke-opacity="0.9"/>
<line x1="193" y1="368.5" x2="199" y2="368.5" stroke="#7c7c7c" stroke-width="1"/>
<rect x="188" y="369" width="6" height="34" fill="#bcbcbc" fill-opacity="0.88"/>
<line x1="188.5" y1="369" x2="188.5" y2="403" stroke="#9c9c9c" stroke-width="1" stroke-opacity="0.9"/>
<line x1="193.5" y1="369" x2="193.5" y2="403" stroke="#9c9c9c" stroke-width="1" stroke-opacity="0.9"/>
<line x1="188" y1="369.5" x2="194" y2="369.5" stroke="#7c7c7c" stroke-width="1"/>
<rect x="183" y="373" width="6" height="30" fill="#e7b4bf" fill-opacity="0.88"/>
<line x1="183.5" y1="373" x2="183.5" y2="403" stroke="#dca0ac" stroke-width="1" stroke-opacity="0.9"/>
<line x1="188.5" y1="373" x2="188.5" y2="403" stroke="#dca0ac" stroke-width="1" stroke-opacity="0.9"/>
<line x1="183" y1="373.5" x2="189" y2="373.5" stroke="#d4687e" stroke-width="1"/>
<rect x="178" y="372" width="6" height="31" fill="#bcbcbc" fill-opacity="0.88"/>
<line x1="178.5" y1="372" x2="178.5" y2="403" stroke="#9c9c9c" stroke-width="1" stroke-opacity="0.9"/>
<line x1="183.5" y1="372" x2="183.5" y2="403" stroke="#9c9c9c" stroke-width="1" stroke-opacity="0.9"/>
<line x1="178" y1="372.5" x2="184" y2="372.5" stroke="#7c7c7c" stroke-width="1"/>
<rect x="173" y="381" width="6" height="22" fill="#bcbcbc" fill-opacity="0.88"/>
<line x1="173.5" y1="381" x2="173.5" y2="403" stroke="#9c9c9c" stroke-width="1" stroke-opacity="0.9"/>
<line x1="178.5" y1="381" x2="178.5" y2="403" stroke="#9c9c9c" stroke-width="1" stroke-opacity="0.9"/>
<line x1="173" y1="381.5" x2="179" y2="381.5" stroke="#7c7c7c" stroke-width="1"/>
<rect x="168" y="378" width="6" height="25" fill="#e7b4bf" fill-opacity="0.88"/>
<line x1="168.5" y1="378" x2="168.5" y2="403" stroke="#dca0ac" stroke-width="1" stroke-opacity="0.9"/>
<line x1="173.5" y1="378" x2="173.5" y2="403" stroke="#dca0ac" stroke-width="1" stroke-opacity="0.9"/>
<line x1="168" y1="378.5" x2="174" y2="378.5" stroke="#d4687e" stroke-width="1"/>
<rect x="163" y="378" width="6" height="25" fill="#e7b4bf" fill-opacity="0.88"/>
<line x1="163.5" y1="378" x2="163.5" y2="403" stroke="#dca0ac" stroke-width="1" stroke-opacity="0.9"/>
<line x1="168.5" y1="378" x2="168.5" y2="403" stroke="#dca0ac" stroke-width="1" stroke-opacity="0.9"/>
<line x1="163" y1="378.5" x2="169" y2="378.5" stroke="#d4687e" stroke-width="1"/>
<rect x="158" y="378" width="6" height="25" fill="#e7b4bf" fill-opacity="0.88"/>
<line x1="158.5" y1="378" x2="158.5" y2="403" stroke="#dca0ac" stroke-width="1" stroke-opacity="0.9"/>
<line x1="163.5" y1="378" x2="163.5" y2="403" stroke="#dca0ac" stroke-width="1" stroke-opacity="0.9"/>
<line x1="158" y1="378.5" x2="164" y2="378.5" stroke="#d4687e" stroke-width="1"/>
<rect x="153" y="375" width="6" height="28" fill="#bcbcbc" fill-opacity="0.88"/>
<line x1="153.5" y1="375" x2="153.5" y2="403" stroke="#9c9c9c" stroke-width="1" stroke-opacity="0.9"/>
<line x1="158.5" y1="375" x2="158.5" y2="403" stroke="#9c9c9c" stroke-width="1" stroke-opacity="0.9"/>
<line x1="153" y1="375.5" x2="159" y2="375.5" stroke="#7c7c7c" stroke-width="1"/>
<rect x="148" y="375" width="6" height="28" fill="#e7b4bf" fill-opacity="0.88"/>
<line x1="148.5" y1="375" x2="148.5" y2="403" stroke="#dca0ac" stroke-width="1" stroke-opacity="0.9"/>
<line x1="153.5" y1="375" x2="153.5" y2="403" stroke="#dca0ac" stroke-width="1" stroke-opacity="0.9"/>
<line x1="148" y1="375.5" x2="154" y2="375.5" stroke="#d4687e" stroke-width="1"/>
<rect x="143" y="374" width="6" height="29" fill="#bcbcbc" fill-opacity="0.88"/>
<line x1="143.5" y1="374" x2="143.5" y2="403" stroke="#9c9c9c" stroke-width="1" stroke-opacity="0.9"/>
<line x1="148.5" y1="374" x2="148.5" y2="403" stroke="#9c9c9c" stroke-width="1" stroke-opacity="0.9"/>
<line x1="143" y1="374.5" x2="149" y2="374.5" stroke="#7c7c7c" stroke-width="1"/>
<rect x="138" y="381" width="6" height="22" fill="#bcbcbc" fill-opacity="0.88"/>
<line x1="138.5" y1="381" x2="138.5" y2="403" stroke="#9c9c9c" stroke-width="1" stroke-opacity="0.9"/>
<line x1="143.5" y1="381" x2="143.5" y2="403" stroke="#9c9c9c" stroke-width="1" stroke-opacity="0.9"/>
<line x1="138" y1="381.5" x2="144" y2="381.5" stroke="#7c7c7c" stroke-width="1"/>
<rect x="133" y="374" width="6" height="29" fill="#e7b4bf" fill-opacity="0.88"/>
<line x1="133.5" y1="374" x2="133.5" y2="403" stroke="#dca0ac" stroke-width="1" stroke-opacity="0.9"/>
<line x1="138.5" y1="374" x2="138.5" y2="403" stroke="#dca0ac" stroke-width="1" stroke-opacity="0.9"/>
<line x1="133" y1="374.5" x2="139" y2="374.5" stroke="#d4687e" stroke-width="1"/>
<rect x="128" y="380" width="6" height="23" fill="#e7b4bf" fill-opacity="0.88"/>
<line x1="128.5" y1="380" x2="128.5" y2="403" stroke="#dca0ac" stroke-width="1" stroke-opacity="0.9"/>
<line x1="133.5" y1="380" x2="133.5" y2="403" stroke="#dca0ac" stroke-width="1" stroke-opacity="0.9"/>
<line x1="128" y1="380.5" x2="134" y2="380.5" stroke="#d4687e" stroke-width="1"/>
<rect x="123" y="376" width="6" height="27" fill="#e7b4bf" fill-opacity="0.88"/>
<line x1="123.5" y1="376" x2="123.5" y2="403" stroke="#dca0ac" stroke-width="1" stroke-opacity="0.9"/>
<line x1="128.5" y1="376" x2="128.5" y2="403" stroke="#dca0ac" stroke-width="1" stroke-opacity="0.9"/>
<line x1="123" y1="376.5" x2="129" y2="376.5" stroke="#d4687e" stroke-width="1"/>
<rect x="118" y="377" width="6" height="26" fill="#e7b4bf" fill-opacity="0.88"/>
<line x1="118.5" y1="377" x2="118.5" y2="403" stroke="#dca0ac" stroke-width="1" stroke-opacity="0.9"/>
<line x1="123.5" y1="377" x2="123.5" y2="403" stroke="#dca0ac" stroke-width="1" stroke-opacity="0.9"/>
<line x1="118" y1="377.5" x2="124" y2="377.5" stroke="#d4687e" stroke-width="1"/>
<rect x="113" y="372" width="6" height="31" fill="#e7b4bf" fill-opacity="0.88"/>
<line x1="113.5" y1="372" x2="113.5" y2="403" stroke="#dca0ac" stroke-width="1" stroke-opacity="0.9"/>
<line x1="118.5" y1="372" x2="118.5" y2="403" stroke="#dca0ac" stroke-width="1" stroke-opacity="0.9"/>
<line x1="113" y1="372.5" x2="119" y2="372.5" stroke="#d4687e" stroke-width="1"/>
<rect x="108" y="375" width="6" height="28" fill="#bcbcbc" fill-opacity="0.88"/>
<line x1="108.5" y1="375" x2="108.5" y2="403" stroke="#9c9c9c" stroke-width="1" stroke-opacity="0.9"/>
<line x1="113.5" y1="375" x2="113.5" y2="403" stroke="#9c9c9c" stroke-width="1" stroke-opacity="0.9"/>
<line x1="108" y1="375.5" x2="114" y2="375.5" stroke="#7c7c7c" stroke-width="1"/>
<rect x="103" y="384" width="6" height="19" fill="#e7b4bf" fill-opacity="0.88"/>
<line x1="103.5" y1="384" x2="103.5" y2="403" stroke="#dca0ac" stroke-width="1" stroke-opacity="0.9"/>
<line x1="108.5" y1="384" x2="108.5" y2="403" stroke="#dca0ac" stroke-width="1" stroke-opacity="0.9"/>
<line x1="103" y1="384.5" x2="109" y2="384.5" stroke="#d4687e" stroke-width="1"/>
<rect x="98" y="385" width="6" height="18" fill="#bcbcbc" fill-opacity="0.88"/>
<line x1="98.5" y1="385" x2="98.5" y2="403" stroke="#9c9c9c" stroke-width="1" stroke-opacity="0.9"/>
<line x1="103.5" y1="385" x2="103.5" y2="403" stroke="#9c9c9c" stroke-width="1" stroke-opacity="0.9"/>
<line x1="98" y1="385.5" x2="104" y2="385.5" stroke="#7c7c7c" stroke-width="1"/>
<rect x="93" y="384" width="6" height="19" fill="#bcbcbc" fill-opacity="0.88"/>
<line x1="93.5" y1="384" x2="93.5" y2="403" stroke="#9c9c9c" stroke-width="1" stroke-opacity="0.9"/>
<line x1="98.5" y1="384" x2="98.5" y2="403" stroke="#9c9c9c" stroke-width="1" stroke-opacity="0.9"/>
<line x1="93" y1="384.5" x2="99" y2="384.5" stroke="#7c7c7c" stroke-width="1"/>
<rect x="88" y="366" width="6" height="37" fill="#e7b4bf" fill-opacity="0.88"/>
<line x1="88.5" y1="366" x2="88.5" y2="403" stroke="#dca0ac" stroke-width="1" stroke-opacity="0.9"/>
<line x1="93.5" y1="366" x2="93.5" y2="403" stroke="#dca0ac" stroke-width="1" stroke-opacity="0.9"/>
<line x1="88" y1="366.5" x2="94" y2="366.5" stroke="#d4687e" stroke-width="1"/>
<rect x="83" y="375" width="6" height="28" fill="#e7b4bf" fill-opacity="0.88"/>
<line x1="83.5" y1="375" x2="83.5" y2="403" stroke="#dca0ac" stroke-width="1" stroke-opacity="0.9"/>
<line x1="88.5" y1="375" x2="88.5" y2="403" stroke="#dca0ac" stroke-width="1" stroke-opacity="0.9"/>
<line x1="83" y1="375.5" x2="89" y2="375.5" stroke="#d4687e" stroke-width="1"/>
<rect x="78" y="377" width="6" height="26" fill="#e7b4bf" fill-opacity="0.88"/>
<line x1="78.5" y1="377" x2="78.5" y2="403" stroke="#dca0ac" stroke-width="1" stroke-opacity="0.9"/>
<line x1="83.5" y1="377" x2="83.5" y2="403" stroke="#dca0ac" stroke-width="1" stroke-opacity="0.9"/>
<line x1="78" y1="377.5" x2="84" y2="377.5" stroke="#d4687e" stroke-width="1"/>
<rect x="73" y="374" width="6" height="29" fill="#e7b4bf" fill-opacity="0.88"/>
<line x1="73.5" y1="374" x2="73.5" y2="403" stroke="#dca0ac" stroke-width="1" stroke-opacity="0.9"/>
<line x1="78.5" y1="374" x2="78.5" y2="403" stroke="#dca0ac" stroke-width="1" stroke-opacity="0.9"/>
<line x1="73" y1="374.5" x2="79" y2="374.5" stroke="#d4687e" stroke-width="1"/>
<rect x="68" y="377" width="6" height="26" fill="#bcbcbc" fill-opacity="0.88"/>
<line x1="68.5" y1="377" x2="68.5" y2="403" stroke="#9c9c9c" stroke-width="1" stroke-opacity="0.9"/>
<line x1="73.5" y1="377" x2="73.5" y2="403" stroke="#9c9c9c" stroke-width="1" stroke-opacity="0.9"/>
<line x1="68" y1="377.5" x2="74" y2="377.5" stroke="#7c7c7c" stroke-width="1"/>
<rect x="63" y="380" width="6" height="23" fill="#bcbcbc" fill-opacity="0.88"/>
<line x1="63.5" y1="380" x2="63.5" y2="403" stroke="#9c9c9c" stroke-width="1" stroke-opacity="0.9"/>
<line x1="68.5" y1="380" x2="68.5" y2="403" stroke="#9c9c9c" stroke-width="1" stroke-opacity="0.9"/>
<line x1="63" y1="380.5" x2="69" y2="380.5" stroke="#7c7c7c" stroke-width="1"/>
<rect x="58" y="379" width="6" height="24" fill="#e7b4bf" fill-opacity="0.88"/>
<line x1="58.5" y1="379" x2="58.5" y2="403" stroke="#dca0ac" stroke-width="1" stroke-opacity="0.9"/>
<line x1="63.5" y1="379" x2="63.5" y2="403" stroke="#dca0ac" stroke-width="1" stroke-opacity="0.9"/>
<line x1="58" y1="379.5" x2="64" y2="379.5" stroke="#d4687e" stroke-width="1"/>
<rect x="53" y="382" width="6" height="21" fill="#bcbcbc" fill-opacity="0.88"/>
<line x1="53.5" y1="382" x2="53.5" y2="403" stroke="#9c9c9c" stroke-width="1" stroke-opacity="0.9"/>
<line x1="58.5" y1="382" x2="58.5" y2="403" stroke="#9c9c9c" stroke-width="1" stroke-opacity="0.9"/>
<line x1="53" y1="382.5" x2="59" y2="382.5" stroke="#7c7c7c" stroke-width="1"/>
<rect x="48" y="381" width="6" height="22" fill="#e7b4bf" fill-opacity="0.88"/>
<line x1="48.5" y1="381" x2="48.5" y2="403" stroke="#dca0ac" stroke-width="1" stroke-opacity="0.9"/>
<line x1="53.5" y1="381" x2="53.5" y2="403" stroke="#dca0ac" stroke-width="1" stroke-opacity="0.9"/>
<line x1="48" y1="381.5" x2="54" y2="381.5" stroke="#d4687e" stroke-width="1"/>
<rect x="43" y="364" width="6" height="39" fill="#bcbcbc" fill-opacity="0.88"/>
<line x1="43.5" y1="364" x2="43.5" y2="403" stroke="#9c9c9c" stroke-width="1" stroke-opacity="0.9"/>
<line x1="48.5" y1="364" x2="48.5" y2="403" stroke="#9c9c9c" stroke-width="1" stroke-opacity="0.9"/>
<line x1="43" y1="364.5" x2="49" y2="364.5" stroke="#7c7c7c" stroke-width="1"/>
<rect x="38" y="372" width="6" height="31" fill="#bcbcbc" fill-opacity="0.88"/>
<line x1="38.5" y1="372" x2="38.5" y2="403" stroke="#9c9c9c" stroke-width="1" stroke-opacity="0.9"/>
<line x1="43.5" y1="372" x2="43.5" y2="403" stroke="#9c9c9c" stroke-width="1" stroke-opacity="0.9"/>
<line x1="38" y1="372.5" x2="44" y2="372.5" stroke="#7c7c7c" stroke-width="1"/>
<rect x="38.5" y="232.5" width="4" height="20" fill="none" stroke="#000000" stroke-width="1"/>
<line x1="45.5" y1="206" x2="45.5" y2="226" stroke="#000000" stroke-width="1"/>
<line x1="45.5" y1="229" x2="45.5" y2="239" stroke="#000000" stroke-width="1"/>
<rect x="43.5" y="226.5" width="4" height="2" fill="none" stroke="#000000" stroke-width="1"/>
<line x1="50.5" y1="245" x2="50.5" y2="254" stroke="#cc0033" stroke-width="1"/>
<rect x="48" y="224" width="5" height="21" fill="#cc0033"/>
<line x1="55.5" y1="226" x2="55.5" y2="235" stroke="#000000" stroke-width="1"/>
<line x1="55.5" y1="244" x2="55.5" y2="251" stroke="#000000" stroke-width="1"/>
<rect x="53.5" y="235.5" width="4" height="8" fill="none" stroke="#000000" stroke-width="1"/>
<line x1="60.5" y1="232" x2="60.5" y2="233" stroke="#cc0033" stroke-width="1"/>
<line x1="60.5" y1="252" x2="60.5" y2="262" stroke="#cc0033" stroke-width="1"/>
<rect x="58" y="233" width="5" height="19" fill="#cc0033"/>
<line x1="65.5" y1="243" x2="65.5" y2="248" stroke="#000000" stroke-width="1"/>
<line x1="65.5" y1="251" x2="65.5" y2="260" stroke="#000000" stroke-width="1"/>
<rect x="63.5" y="248.5" width="4" height="2" fill="none" stroke="#000000" stroke-width="1"/>
<line x1="70.5" y1="227" x2="70.5" y2="234" stroke="#000000" stroke-width="1"/>
<line x1="70.5" y1="247" x2="70.5" y2="250" stroke="#000000" stroke-width="1"/>
<rect x="68.5" y="234.5" width="4" height="12" fill="none" stroke="#000000" stroke-width="1"/>
<line x1="75.5" y1="221" x2="75.5" y2="231" stroke="#cc0033" stroke-width="1"/>
<line x1="75.5" y1="259" x2="75.5" y2="262" stroke="#cc0033" stroke-width="1"/>
<rect x="73" y="231" width="5" height="28" fill="#cc0033"/>
<line x1="80.5" y1="278" x2="80.5" y2="285" stroke="#cc0033" stroke-width="1"/>
<rect x="78" y="259" width="5" height="19" fill="#cc0033"/>
<line x1="85.5" y1="274" x2="85.5" y2="284" stroke="#cc0033" stroke-width="1"/>
<line x1="85.5" y1="293" x2="85.5" y2="297" stroke="#cc0033" stroke-width="1"/>
<rect x="83" y="284" width="5" height="9" fill="#cc0033"/>
<line x1="90.5" y1="319" x2="90.5" y2="331" stroke="#cc0033" stroke-width="1"/>
<rect x="88" y="291" width="5" height="28" fill="#cc0033"/>
<line x1="95.5" y1="297" x2="95.5" y2="305" stroke="#000000" stroke-width="1"/>
<line x1="95.5" y1="317" x2="95.5" y2="322" stroke="#000000" stroke-width="1"/>
<rect x="93.5" y="305.5" width="4" height="11" fill="none" stroke="#000000" stroke-width="1"/>
<line x1="100.5" y1="290" x2="100.5" y2="297" stroke="#000000" stroke-width="1"/>
<line x1="100.5" y1="304" x2="100.5" y2="306" stroke="#000000" stroke-width="1"/>
<rect x="98.5" y="297.5" width="4" height="6" fill="none" stroke="#000000" stroke-width="1"/>
<line x1="105.5" y1="289" x2="105.5" y2="296" stroke="#cc0033" stroke-width="1"/>
<line x1="105.5" y1="301" x2="105.5" y2="311" stroke="#cc0033" stroke-width="1"/>
<rect x="103" y="296" width="5" height="5" fill="#cc0033"/>
<line x1="110.5" y1="288" x2="110.5" y2="300" stroke="#000000" stroke-width="1"/>
<line x1="110.5" y1="301" x2="110.5" y2="314" stroke="#000000" stroke-width="1"/>
<rect x="108" y="300" width="5" height="1" fill="#000000"/>
<line x1="115.5" y1="307" x2="115.5" y2="322" stroke="#cc0033" stroke-width="1"/>
<rect x="113" y="298" width="5" height="9" fill="#cc0033"/>
<line x1="120.5" y1="300" x2="120.5" y2="308" stroke="#cc0033" stroke-width="1"/>
<line x1="120.5" y1="317" x2="120.5" y2="328" stroke="#cc0033" stroke-width="1"/>
<rect x="118" y="308" width="5" height="9" fill="#cc0033"/>
<line x1="125.5" y1="307" x2="125.5" y2="314" stroke="#cc0033" stroke-width="1"/>
<line x1="125.5" y1="346" x2="125.5" y2="354" stroke="#cc0033" stroke-width="1"/>
<rect x="123" y="314" width="5" height="32" fill="#cc0033"/>
<line x1="130.5" y1="336" x2="130.5" y2="341" stroke="#cc0033" stroke-width="1"/>
<line x1="130.5" y1="356" x2="130.5" y2="366" stroke="#cc0033" stroke-width="1"/>
<rect x="128" y="341" width="5" height="15" fill="#cc0033"/>
<line x1="135.5" y1="352" x2="135.5" y2="354" stroke="#cc0033" stroke-width="1"/>
<line x1="135.5" y1="370" x2="135.5" y2="383" stroke="#cc0033" stroke-width="1"/>
<rect x="133" y="354" width="5" height="16" fill="#cc0033"/>
<line x1="140.5" y1="359" x2="140.5" y2="368" stroke="#000000" stroke-width="1"/>
<line x1="140.5" y1="369" x2="140.5" y2="381" stroke="#000000" stroke-width="1"/>
<rect x="138" y="368" width="5" height="1" fill="#000000"/>
<line x1="145.5" y1="331" x2="145.5" y2="334" stroke="#000000" stroke-width="1"/>
<line x1="145.5" y1="371" x2="145.5" y2="378" stroke="#000000" stroke-width="1"/>
<rect x="143.5" y="334.5" width="4" height="36" fill="none" stroke="#000000" stroke-width="1"/>
<line x1="150.5" y1="328" x2="150.5" y2="331" stroke="#cc0033" stroke-width="1"/>
<line x1="150.5" y1="343" x2="150.5" y2="351" stroke="#cc0033" stroke-width="1"/>
<rect x="148" y="331" width="5" height="12" fill="#cc0033"/>
<line x1="155.5" y1="321" x2="155.5" y2="324" stroke="#000000" stroke-width="1"/>
<line x1="155.5" y1="343" x2="155.5" y2="345" stroke="#000000" stroke-width="1"/>
<rect x="153.5" y="324.5" width="4" height="18" fill="none" stroke="#000000" stroke-width="1"/>
<line x1="160.5" y1="321" x2="160.5" y2="322" stroke="#cc0033" stroke-width="1"/>
<line x1="160.5" y1="359" x2="160.5" y2="362" stroke="#cc0033" stroke-width="1"/>
<rect x="158" y="322" width="5" height="37" fill="#cc0033"/>
<line x1="165.5" y1="352" x2="165.5" y2="360" stroke="#cc0033" stroke-width="1"/>
<line x1="165.5" y1="366" x2="165.5" y2="369" stroke="#cc0033" stroke-width="1"/>
<rect x="163" y="360" width="5" height="6" fill="#cc0033"/>
<line x1="170.5" y1="386" x2="170.5" y2="397" stroke="#cc0033" stroke-width="1"/>
<rect x="168" y="364" width="5" height="22" fill="#cc0033"/>
<line x1="175.5" y1="363" x2="175.5" y2="365" stroke="#000000" stroke-width="1"/>
<line x1="175.5" y1="385" x2="175.5" y2="389" stroke="#000000" stroke-width="1"/>
<rect x="173.5" y="365.5" width="4" height="19" fill="none" stroke="#000000" stroke-width="1"/>
<line x1="180.5" y1="338" x2="180.5" y2="351" stroke="#000000" stroke-width="1"/>
<line x1="180.5" y1="365" x2="180.5" y2="366" stroke="#000000" stroke-width="1"/>
<rect x="178.5" y="351.5" width="4" height="13" fill="none" stroke="#000000" stroke-width="1"/>
<line x1="185.5" y1="339" x2="185.5" y2="347" stroke="#cc0033" stroke-width="1"/>
<line x1="185.5" y1="359" x2="185.5" y2="366" stroke="#cc0033" stroke-width="1"/>
<rect x="183" y="347" width="5" height="12" fill="#cc0033"/>
<line x1="190.5" y1="353" x2="190.5" y2="359" stroke="#000000" stroke-width="1"/>
<line x1="190.5" y1="364" x2="190.5" y2="386" stroke="#000000" stroke-width="1"/>
<rect x="188.5" y="359.5" width="4" height="4" fill="none" stroke="#000000" stroke-width="1"/>
<line x1="195.5" y1="312" x2="195.5" y2="333" stroke="#000000" stroke-width="1"/>
<line x1="195.5" y1="361" x2="195.5" y2="362" stroke="#000000" stroke-width="1"/>
<rect x="193.5" y="333.5" width="4" height="27" fill="none" stroke="#000000" stroke-width="1"/>
<rect x="198" y="335" width="5" height="47" fill="#cc0033"/>
<line x1="205.5" y1="351" x2="205.5" y2="358" stroke="#000000" stroke-width="1"/>
<rect x="203.5" y="358.5" width="4" height="21" fill="none" stroke="#000000" stroke-width="1"/>
<line x1="210.5" y1="343" x2="210.5" y2="351" stroke="#000000" stroke-width="1"/>
<line x1="210.5" y1="357" x2="210.5" y2="366" stroke="#000000" stroke-width="1"/>
<rect x="208" y="351" width="5" height="6" fill="#000000"/>
<line x1="215.5" y1="319" x2="215.5" y2="322" stroke="#000000" stroke-width="1"/>
<line x1="215.5" y1="356" x2="215.5" y2="365" stroke="#000000" stroke-width="1"/>
<rect x="213.5" y="322.5" width="4" height="33" fill="none" stroke="#000000" stroke-width="1"/>
<line x1="220.5" y1="296" x2="220.5" y2="305" stroke="#000000" stroke-width="1"/>
<line x1="220.5" y1="328" x2="220.5" y2="330" stroke="#000000" stroke-width="1"/>
<rect x="218.5" y="305.5" width="4" height="22" fill="none" stroke="#000000" stroke-width="1"/>
<line x1="225.5" y1="291" x2="225.5" y2="303" stroke="#cc0033" stroke-width="1"/>
<line x1="225.5" y1="320" x2="225.5" y2="322" stroke="#cc0033" stroke-width="1"/>
<rect x="223" y="303" width="5" height="17" fill="#cc0033"/>
<line x1="230.5" y1="304" x2="230.5" y2="310" stroke="#000000" stroke-width="1"/>
<line x1="230.5" y1="319" x2="230.5" y2="327" stroke="#000000" stroke-width="1"/>
<rect x="228.5" y="310.5" width="4" height="8" fill="none" stroke="#000000" stroke-width="1"/>
<line x1="235.5" y1="271" x2="235.5" y2="276" stroke="#000000" stroke-width="1"/>
<rect x="233.5" y="276.5" width="4" height="42" fill="none" stroke="#000000" stroke-width="1"/>
<line x1="240.5" y1="264" x2="240.5" y2="267" stroke="#000000" stroke-width="1"/>
<line x1="240.5" y1="276" x2="240.5" y2="296" stroke="#000000" stroke-width="1"/>
<rect x="238.5" y="267.5" width="4" height="8" fill="none" stroke="#000000" stroke-width="1"/>
<line x1="245.5" y1="256" x2="245.5" y2="268" stroke="#cc0033" stroke-width="1"/>
<line x1="245.5" y1="275" x2="245.5" y2="286" stroke="#cc0033" stroke-width="1"/>
<rect x="243" y="268" width="5" height="7" fill="#cc0033"/>
<line x1="250.5" y1="253" x2="250.5" y2="264" stroke="#000000" stroke-width="1"/>
<line x1="250.5" y1="274" x2="250.5" y2="280" stroke="#000000" stroke-width="1"/>
<rect x="248.5" y="264.5" width="4" height="9" fill="none" stroke="#000000" stroke-width="1"/>
<line x1="255.5" y1="254" x2="255.5" y2="261" stroke="#000000" stroke-width="1"/>
<line x1="255.5" y1="262" x2="255.5" y2="269" stroke="#000000" stroke-width="1"/>
<rect x="253" y="261" width="5" height="1" fill="#000000"/>
<line x1="260.5" y1="249" x2="260.5" y2="258" stroke="#cc0033" stroke-width="1"/>
<line x1="260.5" y1="263" x2="260.5" y2="276" stroke="#cc0033" stroke-width="1"/>
<rect x="258" y="258" width="5" height="5" fill="#cc0033"/>
<line x1="265.5" y1="255" x2="265.5" y2="256" stroke="#000000" stroke-width="1"/>
<line x1="265.5" y1="263" x2="265.5" y2="275" stroke="#000000" stroke-width="1"/>
<rect x="263.5" y="256.5" width="4" height="6" fill="none" stroke="#000000" stroke-width="1"/>
<line x1="270.5" y1="251" x2="270.5" y2="255" stroke="#cc0033" stroke-width="1"/>
<line x1="270.5" y1="263" x2="270.5" y2="275" stroke="#cc0033" stroke-width="1"/>
<rect x="268" y="255" width="5" height="8" fill="#cc0033"/>
<line x1="275.5" y1="255" x2="275.5" y2="261" stroke="#cc0033" stroke-width="1"/>
<line x1="275.5" y1="270" x2="275.5" y2="284" stroke="#cc0033" stroke-width="1"/>
<rect x="273" y="261" width="5" height="9" fill="#cc0033"/>
<line x1="280.5" y1="249" x2="280.5" y2="268" stroke="#cc0033" stroke-width="1"/>
<line x1="280.5" y1="292" x2="280.5" y2="293" stroke="#cc0033" stroke-width="1"/>
<rect x="278" y="268" width="5" height="24" fill="#cc0033"/>
<line x1="285.5" y1="287" x2="285.5" y2="291" stroke="#cc0033" stroke-width="1"/>
<line x1="285.5" y1="298" x2="285.5" y2="303" stroke="#cc0033" stroke-width="1"/>
<rect x="283" y="291" width="5" height="7" fill="#cc0033"/>
<line x1="290.5" y1="297" x2="290.5" y2="298" stroke="#cc0033" stroke-width="1"/>
<line x1="290.5" y1="307" x2="290.5" y2="316" stroke="#cc0033" stroke-width="1"/>
<rect x="288" y="298" width="5" height="9" fill="#cc0033"/>
<line x1="295.5" y1="299" x2="295.5" y2="304" stroke="#cc0033" stroke-width="1"/>
<line x1="295.5" y1="320" x2="295.5" y2="322" stroke="#cc0033" stroke-width="1"/>
<rect x="293" y="304" width="5" height="16" fill="#cc0033"/>
<line x1="300.5" y1="310" x2="300.5" y2="313" stroke="#000000" stroke-width="1"/>
<line x1="300.5" y1="320" x2="300.5" y2="329" stroke="#000000" stroke-width="1"/>
<rect x="298.5" y="313.5" width="4" height="6" fill="none" stroke="#000000" stroke-width="1"/>
<line x1="305.5" y1="310" x2="305.5" y2="311" stroke="#cc0033" stroke-width="1"/>
<line x1="305.5" y1="329" x2="305.5" y2="340" stroke="#cc0033" stroke-width="1"/>
<rect x="303" y="311" width="5" height="18" fill="#cc0033"/>
<line x1="310.5" y1="284" x2="310.5" y2="290" stroke="#000000" stroke-width="1"/>
<line x1="310.5" y1="325" x2="310.5" y2="326" stroke="#000000" stroke-width="1"/>
<rect x="308.5" y="290.5" width="4" height="34" fill="none" stroke="#000000" stroke-width="1"/>
<line x1="315.5" y1="267" x2="315.5" y2="274" stroke="#000000" stroke-width="1"/>
<line x1="315.5" y1="285" x2="315.5" y2="294" stroke="#000000" stroke-width="1"/>
<rect x="313.5" y="274.5" width="4" height="10" fill="none" stroke="#000000" stroke-width="1"/>
<line x1="320.5" y1="257" x2="320.5" y2="260" stroke="#000000" stroke-width="1"/>
<line x1="320.5" y1="272" x2="320.5" y2="282" stroke="#000000" stroke-width="1"/>
<rect x="318.5" y="260.5" width="4" height="11" fill="none" stroke="#000000" stroke-width="1"/>
<line x1="325.5" y1="240" x2="325.5" y2="244" stroke="#000000" stroke-width="1"/>
<line x1="325.5" y1="258" x2="325.5" y2="268" stroke="#000000" stroke-width="1"/>
<rect x="323.5" y="244.5" width="4" height="13" fill="none" stroke="#000000" stroke-width="1"/>
<line x1="330.5" y1="225" x2="330.5" y2="238" stroke="#000000" stroke-width="1"/>
<line x1="330.5" y1="248" x2="330.5" y2="250" stroke="#000000" stroke-width="1"/>
<rect x="328.5" y="238.5" width="4" height="9" fill="none" stroke="#000000" stroke-width="1"/>
<line x1="335.5" y1="234" x2="335.5" y2="238" stroke="#cc0033" stroke-width="1"/>
<line x1="335.5" y1="245" x2="335.5" y2="251" stroke="#cc0033" stroke-width="1"/>
<rect x="333" y="238" width="5" height="7" fill="#cc0033"/>
<line x1="340.5" y1="238" x2="340.5" y2="241" stroke="#000000" stroke-width="1"/>
<line x1="340.5" y1="244" x2="340.5" y2="254" stroke="#000000" stroke-width="1"/>
<rect x="338.5" y="241.5" width="4" height="2" fill="none" stroke="#000000" stroke-width="1"/>
<line x1="345.5" y1="222" x2="345.5" y2="230" stroke="#000000" stroke-width="1"/>
<line x1="345.5" y1="239" x2="345.5" y2="249" stroke="#000000" stroke-width="1"/>
<rect x="343.5" y="230.5" width="4" height="8" fill="none" stroke="#000000" stroke-width="1"/>
<line x1="350.5" y1="226" x2="350.5" y2="230" stroke="#cc0033" stroke-width="1"/>
<line x1="350.5" y1="261" x2="350.5" y2="265" stroke="#cc0033" stroke-width="1"/>
<rect x="348" y="230" width="5" height="31" fill="#cc0033"/>
<line x1="355.5" y1="255" x2="355.5" y2="261" stroke="#cc0033" stroke-width="1"/>
<line x1="355.5" y1="262" x2="355.5" y2="272" stroke="#cc0033" stroke-width="1"/>
<rect x="353" y="261" width="5" height="1" fill="#cc0033"/>
<line x1="360.5" y1="275" x2="360.5" y2="285" stroke="#cc0033" stroke-width="1"/>
<rect x="358" y="262" width="5" height="13" fill="#cc0033"/>
<line x1="365.5" y1="260" x2="365.5" y2="267" stroke="#000000" stroke-width="1"/>
<line x1="365.5" y1="273" x2="365.5" y2="279" stroke="#000000" stroke-width="1"/>
<rect x="363.5" y="267.5" width="4" height="5" fill="none" stroke="#000000" stroke-width="1"/>
<line x1="370.5" y1="252" x2="370.5" y2="255" stroke="#000000" stroke-width="1"/>
<line x1="370.5" y1="269" x2="370.5" y2="275" stroke="#000000" stroke-width="1"/>
<rect x="368.5" y="255.5" width="4" height="13" fill="none" stroke="#000000" stroke-width="1"/>
<line x1="375.5" y1="253" x2="375.5" y2="256" stroke="#cc0033" stroke-width="1"/>
<line x1="375.5" y1="260" x2="375.5" y2="275" stroke="#cc0033" stroke-width="1"/>
<rect x="373" y="256" width="5" height="4" fill="#cc0033"/>
<line x1="380.5" y1="293" x2="380.5" y2="296" stroke="#cc0033" stroke-width="1"/>
<rect x="378" y="258" width="5" height="35" fill="#cc0033"/>
<line x1="385.5" y1="278" x2="385.5" y2="280" stroke="#000000" stroke-width="1"/>
<rect x="383.5" y="280.5" width="4" height="10" fill="none" stroke="#000000" stroke-width="1"/>
<line x1="390.5" y1="270" x2="390.5" y2="275" stroke="#000000" stroke-width="1"/>
<line x1="390.5" y1="280" x2="390.5" y2="286" stroke="#000000" stroke-width="1"/>
<rect x="388.5" y="275.5" width="4" height="4" fill="none" stroke="#000000" stroke-width="1"/>
<line x1="395.5" y1="241" x2="395.5" y2="242" stroke="#000000" stroke-width="1"/>
<line x1="395.5" y1="275" x2="395.5" y2="282" stroke="#000000" stroke-width="1"/>
<rect x="393.5" y="242.5" width="4" height="32" fill="none" stroke="#000000" stroke-width="1"/>
<line x1="400.5" y1="237" x2="400.5" y2="243" stroke="#cc0033" stroke-width="1"/>
<line x1="400.5" y1="249" x2="400.5" y2="250" stroke="#cc0033" stroke-width="1"/>
<rect x="398" y="243" width="5" height="6" fill="#cc0033"/>
<line x1="405.5" y1="240" x2="405.5" y2="249" stroke="#cc0033" stroke-width="1"/>
<line x1="405.5" y1="255" x2="405.5" y2="260" stroke="#cc0033" stroke-width="1"/>
<rect x="403" y="249" width="5" height="6" fill="#cc0033"/>
<line x1="410.5" y1="245" x2="410.5" y2="254" stroke="#cc0033" stroke-width="1"/>
<line x1="410.5" y1="268" x2="410.5" y2="276" stroke="#cc0033" stroke-width="1"/>
<rect x="408" y="254" width="5" height="14" fill="#cc0033"/>
<line x1="415.5" y1="286" x2="415.5" y2="288" stroke="#cc0033" stroke-width="1"/>
<rect x="413" y="267" width="5" height="19" fill="#cc0033"/>
<line x1="420.5" y1="279" x2="420.5" y2="285" stroke="#cc0033" stroke-width="1"/>
<line x1="420.5" y1="286" x2="420.5" y2="294" stroke="#cc0033" stroke-width="1"/>
<rect x="418" y="285" width="5" height="1" fill="#cc0033"/>
<line x1="425.5" y1="255" x2="425.5" y2="258" stroke="#000000" stroke-width="1"/>
<line x1="425.5" y1="285" x2="425.5" y2="286" stroke="#000000" stroke-width="1"/>
<rect x="423.5" y="258.5" width="4" height="26" fill="none" stroke="#000000" stroke-width="1"/>
<line x1="430.5" y1="238" x2="430.5" y2="253" stroke="#000000" stroke-width="1"/>
<line x1="430.5" y1="259" x2="430.5" y2="262" stroke="#000000" stroke-width="1"/>
<rect x="428.5" y="253.5" width="4" height="5" fill="none" stroke="#000000" stroke-width="1"/>
<line x1="435.5" y1="251" x2="435.5" y2="253" stroke="#cc0033" stroke-width="1"/>
<rect x="433" y="253" width="5" height="25" fill="#cc0033"/>
<line x1="440.5" y1="270" x2="440.5" y2="273" stroke="#000000" stroke-width="1"/>
<line x1="440.5" y1="278" x2="440.5" y2="288" stroke="#000000" stroke-width="1"/>
<rect x="438.5" y="273.5" width="4" height="4" fill="none" stroke="#000000" stroke-width="1"/>
<line x1="445.5" y1="261" x2="445.5" y2="265" stroke="#000000" stroke-width="1"/>
<line x1="445.5" y1="275" x2="445.5" y2="278" stroke="#000000" stroke-width="1"/>
<rect x="443.5" y="265.5" width="4" height="9" fill="none" stroke="#000000" stroke-width="1"/>
<line x1="450.5" y1="264" x2="450.5" y2="266" stroke="#cc0033" stroke-width="1"/>
<line x1="450.5" y1="291" x2="450.5" y2="293" stroke="#cc0033" stroke-width="1"/>
<rect x="448" y="266" width="5" height="25" fill="#cc0033"/>
<line x1="455.5" y1="305" x2="455.5" y2="322" stroke="#cc0033" stroke-width="1"/>
<rect x="453" y="291" width="5" height="14" fill="#cc0033"/>
<line x1="460.5" y1="280" x2="460.5" y2="282" stroke="#000000" stroke-width="1"/>
<line x1="460.5" y1="301" x2="460.5" y2="305" stroke="#000000" stroke-width="1"/>
<rect x="458.5" y="282.5" width="4" height="18" fill="none" stroke="#000000" stroke-width="1"/>
<line x1="465.5" y1="264" x2="465.5" y2="271" stroke="#000000" stroke-width="1"/>
<line x1="465.5" y1="283" x2="465.5" y2="290" stroke="#000000" stroke-width="1"/>
<rect x="463.5" y="271.5" width="4" height="11" fill="none" stroke="#000000" stroke-width="1"/>
<line x1="470.5" y1="283" x2="470.5" y2="289" stroke="#cc0033" stroke-width="1"/>
<rect x="468" y="271" width="5" height="12" fill="#cc0033"/>
<line x1="475.5" y1="267" x2="475.5" y2="275" stroke="#000000" stroke-width="1"/>
<line x1="475.5" y1="276" x2="475.5" y2="287" stroke="#000000" stroke-width="1"/>
<rect x="473" y="275" width="5" height="1" fill="#000000"/>
<line x1="480.5" y1="294" x2="480.5" y2="295" stroke="#cc0033" stroke-width="1"/>
<rect x="478" y="274" width="5" height="20" fill="#cc0033"/>
<line x1="485.5" y1="258" x2="485.5" y2="265" stroke="#000000" stroke-width="1"/>
<line x1="485.5" y1="294" x2="485.5" y2="301" stroke="#000000" stroke-width="1"/>
<rect x="483.5" y="265.5" width="4" height="28" fill="none" stroke="#000000" stroke-width="1"/>
<line x1="490.5" y1="255" x2="490.5" y2="256" stroke="#000000" stroke-width="1"/>
<line x1="490.5" y1="267" x2="490.5" y2="276" stroke="#000000" stroke-width="1"/>
<rect x="488.5" y="256.5" width="4" height="10" fill="none" stroke="#000000" stroke-width="1"/>
<line x1="495.5" y1="230" x2="495.5" y2="231" stroke="#000000" stroke-width="1"/>
<rect x="493.5" y="231.5" width="4" height="26" fill="none" stroke="#000000" stroke-width="1"/>
<line x1="500.5" y1="223" x2="500.5" y2="230" stroke="#cc0033" stroke-width="1"/>
<line x1="500.5" y1="276" x2="500.5" y2="277" stroke="#cc0033" stroke-width="1"/>
<rect x="498" y="230" width="5" height="46" fill="#cc0033"/>
<line x1="505.5" y1="252" x2="505.5" y2="260" stroke="#000000" stroke-width="1"/>
<line x1="505.5" y1="276" x2="505.5" y2="285" stroke="#000000" stroke-width="1"/>
<rect x="503.5" y="260.5" width="4" height="15" fill="none" stroke="#000000" stroke-width="1"/>
<line x1="510.5" y1="247" x2="510.5" y2="253" stroke="#000000" stroke-width="1"/>
<line x1="510.5" y1="261" x2="510.5" y2="263" stroke="#000000" stroke-width="1"/>
<rect x="508.5" y="253.5" width="4" height="7" fill="none" stroke="#000000" stroke-width="1"/>
<line x1="515.5" y1="250" x2="515.5" y2="254" stroke="#cc0033" stroke-width="1"/>
<line x1="515.5" y1="262" x2="515.5" y2="267" stroke="#cc0033" stroke-width="1"/>
<rect x="513" y="254" width="5" height="8" fill="#cc0033"/>
<line x1="520.5" y1="256" x2="520.5" y2="261" stroke="#cc0033" stroke-width="1"/>
<line x1="520.5" y1="274" x2="520.5" y2="281" stroke="#cc0033" stroke-width="1"/>
<rect x="518" y="261" width="5" height="13" fill="#cc0033"/>
<line x1="525.5" y1="267" x2="525.5" y2="273" stroke="#000000" stroke-width="1"/>
<line x1="525.5" y1="274" x2="525.5" y2="288" stroke="#000000" stroke-width="1"/>
<rect x="523" y="273" width="5" height="1" fill="#000000"/>
<line x1="530.5" y1="271" x2="530.5" y2="274" stroke="#cc0033" stroke-width="1"/>
<line x1="530.5" y1="286" x2="530.5" y2="290" stroke="#cc0033" stroke-width="1"/>
<rect x="528" y="274" width="5" height="12" fill="#cc0033"/>
<line x1="535.5" y1="278" x2="535.5" y2="282" stroke="#000000" stroke-width="1"/>
<line x1="535.5" y1="286" x2="535.5" y2="299" stroke="#000000" stroke-width="1"/>
<rect x="533.5" y="282.5" width="4" height="3" fill="none" stroke="#000000" stroke-width="1"/>
<line x1="540.5" y1="272" x2="540.5" y2="281" stroke="#cc0033" stroke-width="1"/>
<line x1="540.5" y1="285" x2="540.5" y2="290" stroke="#cc0033" stroke-width="1"/>
<rect x="538" y="281" width="5" height="4" fill="#cc0033"/>
<line x1="545.5" y1="278" x2="545.5" y2="283" stroke="#cc0033" stroke-width="1"/>
<line x1="545.5" y1="288" x2="545.5" y2="296" stroke="#cc0033" stroke-width="1"/>
<rect x="543" y="283" width="5" height="5" fill="#cc0033"/>
<line x1="550.5" y1="270" x2="550.5" y2="271" stroke="#000000" stroke-width="1"/>
<line x1="550.5" y1="288" x2="550.5" y2="300" stroke="#000000" stroke-width="1"/>
<rect x="548.5" y="271.5" width="4" height="16" fill="none" stroke="#000000" stroke-width="1"/>
<line x1="555.5" y1="271" x2="555.5" y2="272" stroke="#cc0033" stroke-width="1"/>
<line x1="555.5" y1="281" x2="555.5" y2="289" stroke="#cc0033" stroke-width="1"/>
<rect x="553" y="272" width="5" height="9" fill="#cc0033"/>
<line x1="560.5" y1="271" x2="560.5" y2="274" stroke="#000000" stroke-width="1"/>
<line x1="560.5" y1="281" x2="560.5" y2="291" stroke="#000000" stroke-width="1"/>
<rect x="558.5" y="274.5" width="4" height="6" fill="none" stroke="#000000" stroke-width="1"/>
<line x1="565.5" y1="248" x2="565.5" y2="253" stroke="#000000" stroke-width="1"/>
<line x1="565.5" y1="274" x2="565.5" y2="276" stroke="#000000" stroke-width="1"/>
<rect x="563.5" y="253.5" width="4" height="20" fill="none" stroke="#000000" stroke-width="1"/>
<line x1="570.5" y1="234" x2="570.5" y2="239" stroke="#000000" stroke-width="1"/>
<line x1="570.5" y1="253" x2="570.5" y2="259" stroke="#000000" stroke-width="1"/>
<rect x="568.5" y="239.5" width="4" height="13" fill="none" stroke="#000000" stroke-width="1"/>
<line x1="575.5" y1="229" x2="575.5" y2="239" stroke="#cc0033" stroke-width="1"/>
<line x1="575.5" y1="249" x2="575.5" y2="253" stroke="#cc0033" stroke-width="1"/>
<rect x="573" y="239" width="5" height="10" fill="#cc0033"/>
<line x1="580.5" y1="244" x2="580.5" y2="247" stroke="#000000" stroke-width="1"/>
<line x1="580.5" y1="248" x2="580.5" y2="256" stroke="#000000" stroke-width="1"/>
<rect x="578" y="247" width="5" height="1" fill="#000000"/>
<line x1="585.5" y1="204" x2="585.5" y2="205" stroke="#000000" stroke-width="1"/>
<line x1="585.5" y1="244" x2="585.5" y2="249" stroke="#000000" stroke-width="1"/>
<rect x="583.5" y="205.5" width="4" height="38" fill="none" stroke="#000000" stroke-width="1"/>
<line x1="590.5" y1="170" x2="590.5" y2="197" stroke="#000000" stroke-width="1"/>
<line x1="590.5" y1="207" x2="590.5" y2="215" stroke="#000000" stroke-width="1"/>
<rect x="588.5" y="197.5" width="4" height="9" fill="none" stroke="#000000" stroke-width="1"/>
<line x1="595.5" y1="183" x2="595.5" y2="186" stroke="#000000" stroke-width="1"/>
<line x1="595.5" y1="196" x2="595.5" y2="204" stroke="#000000" stroke-width="1"/>
<rect x="593.5" y="186.5" width="4" height="9" fill="none" stroke="#000000" stroke-width="1"/>
<line x1="600.5" y1="210" x2="600.5" y2="219" stroke="#cc0033" stroke-width="1"/>
<rect x="598" y="186" width="5" height="24" fill="#cc0033"/>
<line x1="605.5" y1="202" x2="605.5" y2="205" stroke="#cc0033" stroke-width="1"/>
<line x1="605.5" y1="219" x2="605.5" y2="226" stroke="#cc0033" stroke-width="1"/>
<rect x="603" y="205" width="5" height="14" fill="#cc0033"/>
<line x1="610.5" y1="183" x2="610.5" y2="190" stroke="#000000" stroke-width="1"/>
<line x1="610.5" y1="216" x2="610.5" y2="219" stroke="#000000" stroke-width="1"/>
<rect x="608.5" y="190.5" width="4" height="25" fill="none" stroke="#000000" stroke-width="1"/>
<line x1="615.5" y1="144" x2="615.5" y2="152" stroke="#000000" stroke-width="1"/>
<line x1="615.5" y1="193" x2="615.5" y2="196" stroke="#000000" stroke-width="1"/>
<rect x="613.5" y="152.5" width="4" height="40" fill="none" stroke="#000000" stroke-width="1"/>
<line x1="620.5" y1="132" x2="620.5" y2="144" stroke="#cc0033" stroke-width="1"/>
<line x1="620.5" y1="162" x2="620.5" y2="167" stroke="#cc0033" stroke-width="1"/>
<rect x="618" y="144" width="5" height="18" fill="#cc0033"/>
<line x1="625.5" y1="136" x2="625.5" y2="161" stroke="#cc0033" stroke-width="1"/>
<line x1="625.5" y1="164" x2="625.5" y2="165" stroke="#cc0033" stroke-width="1"/>
<rect x="623" y="161" width="5" height="3" fill="#cc0033"/>
<line x1="630.5" y1="146" x2="630.5" y2="161" stroke="#cc0033" stroke-width="1"/>
<line x1="630.5" y1="178" x2="630.5" y2="180" stroke="#cc0033" stroke-width="1"/>
<rect x="628" y="161" width="5" height="17" fill="#cc0033"/>
<line x1="635.5" y1="164" x2="635.5" y2="177" stroke="#000000" stroke-width="1"/>
<line x1="635.5" y1="181" x2="635.5" y2="188" stroke="#000000" stroke-width="1"/>
<rect x="633.5" y="177.5" width="4" height="3" fill="none" stroke="#000000" stroke-width="1"/>
<line x1="640.5" y1="157" x2="640.5" y2="174" stroke="#000000" stroke-width="1"/>
<line x1="640.5" y1="175" x2="640.5" y2="184" stroke="#000000" stroke-width="1"/>
<rect x="638" y="174" width="5" height="1" fill="#000000"/>
<line x1="645.5" y1="170" x2="645.5" y2="175" stroke="#cc0033" stroke-width="1"/>
<line x1="645.5" y1="176" x2="645.5" y2="186" stroke="#cc0033" stroke-width="1"/>
<rect x="643" y="175" width="5" height="1" fill="#cc0033"/>
<line x1="650.5" y1="145" x2="650.5" y2="146" stroke="#000000" stroke-width="1"/>
<line x1="650.5" y1="178" x2="650.5" y2="181" stroke="#000000" stroke-width="1"/>
<rect x="648.5" y="146.5" width="4" height="31" fill="none" stroke="#000000" stroke-width="1"/>
<line x1="655.5" y1="143" x2="655.5" y2="149" stroke="#cc0033" stroke-width="1"/>
<line x1="655.5" y1="153" x2="655.5" y2="161" stroke="#cc0033" stroke-width="1"/>
<rect x="653" y="149" width="5" height="4" fill="#cc0033"/>
<polyline points="40.0,341.4 65.7,337.3 91.4,332.8 110.7,330.2 130.0,327.6 163.0,324.4 189.4,322.5 198.0,321.7 220.0,319.5 253.0,314.4 280.0,310.5 292.9,308.6 305.7,306.6 316.0,306.0 325.0,304.1 337.8,301.5 350.7,298.9 359.7,297.4 372.9,295.7 385.7,294.4 398.6,292.8 414.0,290.8 426.8,290.0 437.1,288.5 450.0,287.0 470.0,285.6 498.0,282.1 528.0,279.3 543.0,276.6 554.4,275.6 568.0,273.1 583.0,270.5 590.0,269.4 614.9,264.1 627.4,263.2 639.8,263.2 646.6,262.1 655.0,262.0" fill="none" stroke="#d0103a" stroke-width="1.4" shape-rendering="auto" stroke-linejoin="round"/>
<polyline points="40.0,252.5 50.0,252.4 60.5,252.5 72.3,253.8 78.0,255.0 81.6,257.0 91.2,259.9 97.8,263.2 111.0,267.2 125.0,272.2 130.1,274.1 139.1,279.0 150.7,281.6 164.8,287.2 175.1,290.5 184.1,292.4 195.0,295.3 202.1,299.2 215.0,303.4 220.0,304.8 237.0,305.5 245.0,304.8 253.0,303.4 267.8,302.8 280.0,303.4 285.1,303.7 292.9,306.6 305.7,310.5 314.7,312.2 325.0,312.4 334.0,310.5 344.3,307.5 357.1,305.0 370.3,303.4 385.7,298.6 398.6,292.8 414.0,288.3 426.8,283.8 437.1,280.6 450.0,276.1 470.0,272.8 483.0,270.8 496.0,270.4 510.0,270.5 528.0,270.5 541.2,269.8 554.4,267.2 567.6,266.5 583.0,266.3 590.0,265.2 607.0,261.5 616.0,256.7 629.6,251.6 637.6,247.1 646.6,244.8 655.0,240.4" fill="none" stroke="#14148e" stroke-width="1.5" shape-rendering="auto" stroke-linejoin="round"/>
<polyline points="40.5,69.3 45.5,67.1 50.5,73.1 55.5,71.4 60.5,75.4 65.5,74.3 70.5,71.4 75.5,77.1 80.5,82.1 85.5,84.3 90.5,88.3 95.5,85.4 100.5,83.3 105.5,84.3 110.5,84.3 115.5,85.0 120.5,86.4 125.5,91.1 130.5,92.0 135.5,93.5 140.5,93.9 145.5,85.3 150.5,86.4 155.5,82.1 160.5,87.1 165.5,88.6 170.5,91.4 175.5,86.1 180.5,83.3 185.5,85.3 190.5,84.3 195.5,78.1 200.5,86.1 205.5,82.4 210.5,81.1 215.5,76.1 220.5,72.4 225.5,75.1 230.5,73.3 235.5,68.6 240.5,66.1 245.5,68.6 250.5,66.1 255.5,66.1 260.5,66.1 265.5,65.3 270.5,68.1 275.5,69.3 280.5,76.4 285.5,77.4 290.5,79.0 295.5,82.1 300.5,81.1 305.5,84.3 310.5,74.8 315.5,71.6 320.5,68.6 325.5,65.3 330.5,64.3 335.5,67.6 340.5,66.4 345.5,64.3 350.5,73.3 355.5,73.3 360.5,77.1 365.5,75.0 370.5,72.1 375.5,74.3 380.5,81.4 385.5,78.6 390.5,77.1 395.5,70.0 400.5,71.9 405.5,73.1 410.5,77.1 415.5,81.1 420.5,81.1 425.5,74.3 430.5,73.3 435.5,79.0 440.5,78.1 445.5,76.4 450.5,81.4 455.5,84.3 460.5,80.0 465.5,76.4 470.5,79.3 475.5,77.6 480.5,81.4 485.5,75.7 490.5,73.1 495.5,68.4 500.5,78.3 505.5,75.7 510.5,74.3 515.5,76.0 520.5,77.9 525.5,78.3 530.5,80.3 535.5,80.3 540.5,80.3 545.5,81.1 550.5,77.4 555.5,79.3 560.5,77.1 565.5,72.1 570.5,69.2 575.5,72.3 580.5,71.3 585.5,63.5 590.5,62.1 595.5,60.7 600.5,67.9 605.5,70.4 610.5,65.0 615.5,59.3 620.5,63.3 625.5,63.3 630.5,67.1 635.5,67.1 640.5,67.1 645.5,67.1 650.5,61.0 655.5,64.3" fill="none" stroke="#222222" stroke-width="1.4" shape-rendering="auto" stroke-linejoin="round"/>
<rect x="38.5" y="464.5" width="5" height="7.0" fill="#52a6d2" stroke="#1f6a92" stroke-width="1"/>
<rect x="43.5" y="461.5" width="5" height="10.0" fill="#52a6d2" stroke="#1f6a92" stroke-width="1"/>
<rect x="48.5" y="462.5" width="5" height="9.0" fill="#52a6d2" stroke="#1f6a92" stroke-width="1"/>
<rect x="53.5" y="463.5" width="5" height="8.0" fill="#52a6d2" stroke="#1f6a92" stroke-width="1"/>
<rect x="58.5" y="464.5" width="5" height="7.0" fill="#52a6d2" stroke="#1f6a92" stroke-width="1"/>
<rect x="63.5" y="466.5" width="5" height="5.0" fill="#52a6d2" stroke="#1f6a92" stroke-width="1"/>
<rect x="68.5" y="465.5" width="5" height="6.0" fill="#52a6d2" stroke="#1f6a92" stroke-width="1"/>
<rect x="73.5" y="467.5" width="5" height="4.0" fill="#52a6d2" stroke="#1f6a92" stroke-width="1"/>
<rect x="78.5" y="472.5" width="5" height="1" fill="#52a6d2" stroke="#1f6a92" stroke-width="1"/>
<rect x="83.5" y="472.5" width="5" height="4.0" fill="#52a6d2" stroke="#1f6a92" stroke-width="1"/>
<rect x="88.5" y="472.5" width="5" height="9.0" fill="#52a6d2" stroke="#1f6a92" stroke-width="1"/>
<rect x="93.5" y="472.5" width="5" height="10.0" fill="#52a6d2" stroke="#1f6a92" stroke-width="1"/>
<rect x="98.5" y="472.5" width="5" height="10.0" fill="#52a6d2" stroke="#1f6a92" stroke-width="1"/>
<rect x="103.5" y="472.5" width="5" height="8.0" fill="#52a6d2" stroke="#1f6a92" stroke-width="1"/>
<rect x="108.5" y="472.5" width="5" height="8.0" fill="#52a6d2" stroke="#1f6a92" stroke-width="1"/>
<rect x="113.5" y="472.5" width="5" height="8.0" fill="#52a6d2" stroke="#1f6a92" stroke-width="1"/>
<rect x="118.5" y="472.5" width="5" height="8.0" fill="#52a6d2" stroke="#1f6a92" stroke-width="1"/>
<rect x="123.5" y="472.5" width="5" height="10.0" fill="#52a6d2" stroke="#1f6a92" stroke-width="1"/>
<rect x="128.5" y="472.5" width="5" height="11.0" fill="#52a6d2" stroke="#1f6a92" stroke-width="1"/>
<rect x="133.5" y="472.5" width="5" height="13.0" fill="#52a6d2" stroke="#1f6a92" stroke-width="1"/>
<rect x="138.5" y="472.5" width="5" height="13.0" fill="#52a6d2" stroke="#1f6a92" stroke-width="1"/>
<rect x="143.5" y="472.5" width="5" height="9.0" fill="#52a6d2" stroke="#1f6a92" stroke-width="1"/>
<rect x="148.5" y="472.5" width="5" height="7.0" fill="#52a6d2" stroke="#1f6a92" stroke-width="1"/>
<rect x="153.5" y="472.5" width="5" height="3.0" fill="#52a6d2" stroke="#1f6a92" stroke-width="1"/>
<rect x="158.5" y="472.5" width="5" height="3.0" fill="#52a6d2" stroke="#1f6a92" stroke-width="1"/>
<rect x="163.5" y="472.5" width="5" height="3.0" fill="#52a6d2" stroke="#1f6a92" stroke-width="1"/>
<rect x="168.5" y="472.5" width="5" height="5.0" fill="#52a6d2" stroke="#1f6a92" stroke-width="1"/>
<rect x="173.5" y="472.5" width="5" height="3.0" fill="#52a6d2" stroke="#1f6a92" stroke-width="1"/>
<rect x="178.5" y="472.5" width="5" height="1.0" fill="#52a6d2" stroke="#1f6a92" stroke-width="1"/>
<rect x="183.5" y="472.5" width="5" height="1" fill="#52a6d2" stroke="#1f6a92" stroke-width="1"/>
<rect x="188.5" y="471.5" width="5" height="1" fill="#52a6d2" stroke="#1f6a92" stroke-width="1"/>
<rect x="193.5" y="468.5" width="5" height="3.0" fill="#52a6d2" stroke="#1f6a92" stroke-width="1"/>
<rect x="198.5" y="470.5" width="5" height="1.0" fill="#52a6d2" stroke="#1f6a92" stroke-width="1"/>
<rect x="203.5" y="469.5" width="5" height="2.0" fill="#52a6d2" stroke="#1f6a92" stroke-width="1"/>
<rect x="208.5" y="468.5" width="5" height="3.0" fill="#52a6d2" stroke="#1f6a92" stroke-width="1"/>
<rect x="213.5" y="465.5" width="5" height="6.0" fill="#52a6d2" stroke="#1f6a92" stroke-width="1"/>
<rect x="218.5" y="461.5" width="5" height="10.0" fill="#52a6d2" stroke="#1f6a92" stroke-width="1"/>
<rect x="223.5" y="461.5" width="5" height="10.0" fill="#52a6d2" stroke="#1f6a92" stroke-width="1"/>
<rect x="228.5" y="460.5" width="5" height="11.0" fill="#52a6d2" stroke="#1f6a92" stroke-width="1"/>
<rect x="233.5" y="457.5" width="5" height="14.0" fill="#52a6d2" stroke="#1f6a92" stroke-width="1"/>
<rect x="238.5" y="455.5" width="5" height="16.0" fill="#52a6d2" stroke="#1f6a92" stroke-width="1"/>
<rect x="243.5" y="455.5" width="5" height="16.0" fill="#52a6d2" stroke="#1f6a92" stroke-width="1"/>
<rect x="248.5" y="455.5" width="5" height="16.0" fill="#52a6d2" stroke="#1f6a92" stroke-width="1"/>
<rect x="253.5" y="455.5" width="5" height="16.0" fill="#52a6d2" stroke="#1f6a92" stroke-width="1"/>
<rect x="258.5" y="457.5" width="5" height="14.0" fill="#52a6d2" stroke="#1f6a92" stroke-width="1"/>
<rect x="263.5" y="458.5" width="5" height="13.0" fill="#52a6d2" stroke="#1f6a92" stroke-width="1"/>
<rect x="268.5" y="460.5" width="5" height="11.0" fill="#52a6d2" stroke="#1f6a92" stroke-width="1"/>
<rect x="273.5" y="463.5" width="5" height="8.0" fill="#52a6d2" stroke="#1f6a92" stroke-width="1"/>
<rect x="278.5" y="467.5" width="5" height="4.0" fill="#52a6d2" stroke="#1f6a92" stroke-width="1"/>
<rect x="283.5" y="471.5" width="5" height="1" fill="#52a6d2" stroke="#1f6a92" stroke-width="1"/>
<rect x="288.5" y="472.5" width="5" height="2.0" fill="#52a6d2" stroke="#1f6a92" stroke-width="1"/>
<rect x="293.5" y="472.5" width="5" height="6.0" fill="#52a6d2" stroke="#1f6a92" stroke-width="1"/>
<rect x="298.5" y="472.5" width="5" height="7.0" fill="#52a6d2" stroke="#1f6a92" stroke-width="1"/>
<rect x="303.5" y="472.5" width="5" height="9.0" fill="#52a6d2" stroke="#1f6a92" stroke-width="1"/>
<rect x="308.5" y="472.5" width="5" height="6.0" fill="#52a6d2" stroke="#1f6a92" stroke-width="1"/>
<rect x="313.5" y="472.5" width="5" height="3.0" fill="#52a6d2" stroke="#1f6a92" stroke-width="1"/>
<rect x="318.5" y="472.5" width="5" height="1.0" fill="#52a6d2" stroke="#1f6a92" stroke-width="1"/>
<rect x="323.5" y="468.5" width="5" height="3.0" fill="#52a6d2" stroke="#1f6a92" stroke-width="1"/>
<rect x="328.5" y="465.5" width="5" height="6.0" fill="#52a6d2" stroke="#1f6a92" stroke-width="1"/>
<rect x="333.5" y="464.5" width="5" height="7.0" fill="#52a6d2" stroke="#1f6a92" stroke-width="1"/>
<rect x="338.5" y="464.5" width="5" height="7.0" fill="#52a6d2" stroke="#1f6a92" stroke-width="1"/>
<rect x="343.5" y="464.5" width="5" height="7.0" fill="#52a6d2" stroke="#1f6a92" stroke-width="1"/>
<rect x="348.5" y="467.5" width="5" height="4.0" fill="#52a6d2" stroke="#1f6a92" stroke-width="1"/>
<rect x="353.5" y="470.5" width="5" height="1.0" fill="#52a6d2" stroke="#1f6a92" stroke-width="1"/>
<rect x="358.5" y="472.5" width="5" height="1.0" fill="#52a6d2" stroke="#1f6a92" stroke-width="1"/>
<rect x="363.5" y="472.5" width="5" height="2.0" fill="#52a6d2" stroke="#1f6a92" stroke-width="1"/>
<rect x="368.5" y="472.5" width="5" height="2.0" fill="#52a6d2" stroke="#1f6a92" stroke-width="1"/>
<rect x="373.5" y="472.5" width="5" height="3.0" fill="#52a6d2" stroke="#1f6a92" stroke-width="1"/>
<rect x="378.5" y="472.5" width="5" height="6.0" fill="#52a6d2" stroke="#1f6a92" stroke-width="1"/>
<rect x="383.5" y="472.5" width="5" height="7.0" fill="#52a6d2" stroke="#1f6a92" stroke-width="1"/>
<rect x="388.5" y="472.5" width="5" height="7.0" fill="#52a6d2" stroke="#1f6a92" stroke-width="1"/>
<rect x="393.5" y="472.5" width="5" height="3.0" fill="#52a6d2" stroke="#1f6a92" stroke-width="1"/>
<rect x="398.5" y="472.5" width="5" height="1.0" fill="#52a6d2" stroke="#1f6a92" stroke-width="1"/>
<rect x="403.5" y="472.5" width="5" height="1.0" fill="#52a6d2" stroke="#1f6a92" stroke-width="1"/>
<rect x="408.5" y="472.5" width="5" height="2.0" fill="#52a6d2" stroke="#1f6a92" stroke-width="1"/>
<rect x="413.5" y="472.5" width="5" height="4.0" fill="#52a6d2" stroke="#1f6a92" stroke-width="1"/>
<rect x="418.5" y="472.5" width="5" height="6.0" fill="#52a6d2" stroke="#1f6a92" stroke-width="1"/>
<rect x="423.5" y="472.5" width="5" height="4.0" fill="#52a6d2" stroke="#1f6a92" stroke-width="1"/>
<rect x="428.5" y="472.5" width="5" height="2.0" fill="#52a6d2" stroke="#1f6a92" stroke-width="1"/>
<rect x="433.5" y="472.5" width="5" height="3.0" fill="#52a6d2" stroke="#1f6a92" stroke-width="1"/>
<rect x="438.5" y="472.5" width="5" height="3.0" fill="#52a6d2" stroke="#1f6a92" stroke-width="1"/>
<rect x="443.5" y="472.5" width="5" height="3.0" fill="#52a6d2" stroke="#1f6a92" stroke-width="1"/>
<rect x="448.5" y="472.5" width="5" height="5.0" fill="#52a6d2" stroke="#1f6a92" stroke-width="1"/>
<rect x="453.5" y="472.5" width="5" height="7.0" fill="#52a6d2" stroke="#1f6a92" stroke-width="1"/>
<rect x="458.5" y="472.5" width="5" height="6.0" fill="#52a6d2" stroke="#1f6a92" stroke-width="1"/>
<rect x="463.5" y="472.5" width="5" height="4.0" fill="#52a6d2" stroke="#1f6a92" stroke-width="1"/>
<rect x="468.5" y="472.5" width="5" height="3.0" fill="#52a6d2" stroke="#1f6a92" stroke-width="1"/>
<rect x="473.5" y="472.5" width="5" height="2.0" fill="#52a6d2" stroke="#1f6a92" stroke-width="1"/>
<rect x="478.5" y="472.5" width="5" height="2.0" fill="#52a6d2" stroke="#1f6a92" stroke-width="1"/>
<rect x="483.5" y="472.5" width="5" height="1.0" fill="#52a6d2" stroke="#1f6a92" stroke-width="1"/>
<rect x="488.5" y="471.5" width="5" height="1" fill="#52a6d2" stroke="#1f6a92" stroke-width="1"/>
<rect x="493.5" y="466.5" width="5" height="5.0" fill="#52a6d2" stroke="#1f6a92" stroke-width="1"/>
<rect x="498.5" y="467.5" width="5" height="4.0" fill="#52a6d2" stroke="#1f6a92" stroke-width="1"/>
<rect x="503.5" y="468.5" width="5" height="3.0" fill="#52a6d2" stroke="#1f6a92" stroke-width="1"/>
<rect x="508.5" y="467.5" width="5" height="4.0" fill="#52a6d2" stroke="#1f6a92" stroke-width="1"/>
<rect x="513.5" y="468.5" width="5" height="3.0" fill="#52a6d2" stroke="#1f6a92" stroke-width="1"/>
<rect x="518.5" y="470.5" width="5" height="1.0" fill="#52a6d2" stroke="#1f6a92" stroke-width="1"/>
<rect x="523.5" y="470.5" width="5" height="1.0" fill="#52a6d2" stroke="#1f6a92" stroke-width="1"/>
<rect x="528.5" y="472.5" width="5" height="1" fill="#52a6d2" stroke="#1f6a92" stroke-width="1"/>
<rect x="533.5" y="472.5" width="5" height="2.0" fill="#52a6d2" stroke="#1f6a92" stroke-width="1"/>
<rect x="538.5" y="472.5" width="5" height="3.0" fill="#52a6d2" stroke="#1f6a92" stroke-width="1"/>
<rect x="543.5" y="472.5" width="5" height="3.0" fill="#52a6d2" stroke="#1f6a92" stroke-width="1"/>
<rect x="548.5" y="472.5" width="5" height="3.0" fill="#52a6d2" stroke="#1f6a92" stroke-width="1"/>
<rect x="553.5" y="472.5" width="5" height="2.0" fill="#52a6d2" stroke="#1f6a92" stroke-width="1"/>
<rect x="558.5" y="472.5" width="5" height="1" fill="#52a6d2" stroke="#1f6a92" stroke-width="1"/>
<rect x="563.5" y="470.5" width="5" height="1.0" fill="#52a6d2" stroke="#1f6a92" stroke-width="1"/>
<rect x="568.5" y="468.5" width="5" height="3.0" fill="#52a6d2" stroke="#1f6a92" stroke-width="1"/>
<rect x="573.5" y="467.5" width="5" height="4.0" fill="#52a6d2" stroke="#1f6a92" stroke-width="1"/>
<rect x="578.5" y="467.5" width="5" height="4.0" fill="#52a6d2" stroke="#1f6a92" stroke-width="1"/>
<rect x="583.5" y="462.5" width="5" height="9.0" fill="#52a6d2" stroke="#1f6a92" stroke-width="1"/>
<rect x="588.5" y="459.5" width="5" height="12.0" fill="#52a6d2" stroke="#1f6a92" stroke-width="1"/>
<rect x="593.5" y="456.5" width="5" height="15.0" fill="#52a6d2" stroke="#1f6a92" stroke-width="1"/>
<rect x="598.5" y="458.5" width="5" height="13.0" fill="#52a6d2" stroke="#1f6a92" stroke-width="1"/>
<rect x="603.5" y="461.5" width="5" height="10.0" fill="#52a6d2" stroke="#1f6a92" stroke-width="1"/>
<rect x="608.5" y="461.5" width="5" height="10.0" fill="#52a6d2" stroke="#1f6a92" stroke-width="1"/>
<rect x="613.5" y="457.5" width="5" height="14.0" fill="#52a6d2" stroke="#1f6a92" stroke-width="1"/>
<rect x="618.5" y="456.5" width="5" height="15.0" fill="#52a6d2" stroke="#1f6a92" stroke-width="1"/>
<rect x="623.5" y="457.5" width="5" height="14.0" fill="#52a6d2" stroke="#1f6a92" stroke-width="1"/>
<rect x="628.5" y="461.5" width="5" height="10.0" fill="#52a6d2" stroke="#1f6a92" stroke-width="1"/>
<rect x="633.5" y="464.5" width="5" height="7.0" fill="#52a6d2" stroke="#1f6a92" stroke-width="1"/>
<rect x="638.5" y="466.5" width="5" height="5.0" fill="#52a6d2" stroke="#1f6a92" stroke-width="1"/>
<rect x="643.5" y="468.5" width="5" height="3.0" fill="#52a6d2" stroke="#1f6a92" stroke-width="1"/>
<rect x="648.5" y="467.5" width="5" height="4.0" fill="#52a6d2" stroke="#1f6a92" stroke-width="1"/>
<rect x="653.5" y="467.5" width="5" height="4.0" fill="#52a6d2" stroke="#1f6a92" stroke-width="1"/>
<polyline points="40.5,482.1 45.5,479.3 50.5,476.4 55.5,474.0 60.5,472.1 65.5,470.0 70.5,468.3 75.5,467.4 80.5,467.4 85.5,468.6 90.5,470.7 95.5,473.1 100.5,475.4 105.5,477.9 110.5,480.0 115.5,481.7 120.5,483.6 125.5,486.4 130.5,488.6 135.5,490.9 140.5,494.3 145.5,496.9 150.5,498.9 155.5,500.0 160.5,500.3 165.5,501.1 170.5,502.1 175.5,502.9 180.5,503.3 185.5,503.6 190.5,503.1 195.5,502.1 200.5,501.1 205.5,500.7 210.5,499.3 215.5,497.4 220.5,494.3 225.5,490.7 230.5,486.5 235.5,482.5 240.5,478.5 245.5,475.0 250.5,472.9 255.5,467.6 260.5,463.9 265.5,460.7 270.5,458.6 275.5,456.1 280.5,454.3 285.5,454.3 290.5,455.1 295.5,456.8 300.5,459.1 305.5,461.2 310.5,463.1 315.5,463.1 320.5,462.9 325.5,461.1 330.5,458.9 335.5,456.9 340.5,455.0 345.5,454.0 350.5,452.9 355.5,452.6 360.5,452.9 365.5,453.6 370.5,453.6 375.5,454.3 380.5,455.5 385.5,457.5 390.5,459.3 395.5,459.7 400.5,460.0 405.5,460.3 410.5,460.3 415.5,461.7 420.5,463.6 425.5,464.6 430.5,464.6 435.5,465.4 440.5,466.4 445.5,467.4 450.5,468.3 455.5,470.0 460.5,471.7 465.5,472.9 470.5,473.4 475.5,473.8 480.5,474.6 485.5,475.0 490.5,474.3 495.5,473.1 500.5,472.1 505.5,471.1 510.5,470.3 515.5,469.3 520.5,469.3 525.5,469.7 530.5,470.3 535.5,471.4 540.5,472.6 545.5,473.1 550.5,473.6 555.5,474.0 560.5,474.5 565.5,473.3 570.5,471.9 575.5,471.3 580.5,470.0 585.5,466.9 590.5,463.7 595.5,460.3 600.5,455.5 605.5,453.5 610.5,451.1 615.5,447.2 620.5,443.0 625.5,438.9 630.5,436.7 635.5,435.1 640.5,433.5 645.5,432.0 650.5,431.0 655.5,429.5" fill="none" stroke="#ff1a1a" stroke-width="1.3" shape-rendering="auto" stroke-linejoin="round"/>
<polyline points="40.5,472.9 45.5,468.6 50.5,466.9 55.5,464.0 60.5,463.6 65.5,463.3 70.5,462.1 75.5,463.1 80.5,467.1 85.5,472.9 90.5,479.3 95.5,483.1 100.5,485.0 105.5,486.9 110.5,487.9 115.5,488.9 120.5,491.4 125.5,495.7 130.5,499.0 135.5,503.6 140.5,507.1 145.5,506.4 150.5,505.4 155.5,502.6 160.5,503.3 165.5,504.6 170.5,507.1 175.5,506.0 180.5,504.3 185.5,503.1 190.5,502.1 195.5,498.3 200.5,499.3 205.5,498.3 210.5,496.4 215.5,492.1 220.5,485.0 225.5,480.0 230.5,475.0 235.5,470.7 240.5,465.7 245.5,460.4 250.5,455.3 255.5,452.1 260.5,449.6 265.5,447.6 270.5,446.7 275.5,446.4 280.5,450.4 285.5,453.3 290.5,456.5 295.5,461.9 300.5,465.5 305.5,470.2 310.5,469.3 315.5,466.0 320.5,462.1 325.5,457.9 330.5,453.6 335.5,450.3 340.5,448.3 345.5,445.4 350.5,447.9 355.5,450.0 360.5,453.1 365.5,455.0 370.5,455.0 375.5,456.4 380.5,460.8 385.5,464.1 390.5,465.4 395.5,462.6 400.5,461.1 405.5,461.1 410.5,462.1 415.5,465.7 420.5,469.3 425.5,468.6 430.5,466.4 435.5,467.9 440.5,469.3 445.5,469.3 450.5,472.6 455.5,476.4 460.5,477.9 465.5,476.9 470.5,476.5 475.5,476.6 480.5,477.4 485.5,475.4 490.5,473.1 495.5,467.1 500.5,468.3 505.5,468.3 510.5,466.4 515.5,466.4 520.5,467.9 525.5,469.3 530.5,472.6 535.5,474.0 540.5,475.4 545.5,476.4 550.5,475.7 555.5,476.4 560.5,474.7 565.5,471.5 570.5,468.4 575.5,466.5 580.5,464.0 585.5,456.2 590.5,449.9 595.5,444.5 600.5,443.6 605.5,443.3 610.5,440.1 615.5,433.1 620.5,427.9 625.5,425.7 630.5,425.7 635.5,426.3 640.5,427.3 645.5,428.4 650.5,425.7 655.5,424.4" fill="none" stroke="#111111" stroke-width="2.0" shape-rendering="auto" stroke-linejoin="round"/>
<rect x="0" y="28" width="40" height="376" fill="#ffffff"/>
<rect x="663" y="28" width="37" height="376" fill="#ffffff"/>
<rect x="0" y="417" width="40" height="98" fill="#ffffff"/>
<rect x="663" y="417" width="37" height="98" fill="#ffffff"/>
<rect x="40.5" y="28.5" width="622" height="375" fill="none" stroke="#bababa" stroke-width="1"/>
<line x1="40" y1="125.5" x2="663" y2="125.5" stroke="#bababa" stroke-width="1" />
<rect x="40.5" y="417.5" width="622" height="97" fill="none" stroke="#bababa" stroke-width="1"/>
<line x1="45.5" y1="404" x2="45.5" y2="405" stroke="#c0c0c0" stroke-width="1" />
<line x1="45.5" y1="416" x2="45.5" y2="417" stroke="#c0c0c0" stroke-width="1" />
<line x1="45.5" y1="515" x2="45.5" y2="516" stroke="#c0c0c0" stroke-width="1" />
<line x1="50.5" y1="404" x2="50.5" y2="405" stroke="#c0c0c0" stroke-width="1" />
<line x1="50.5" y1="416" x2="50.5" y2="417" stroke="#c0c0c0" stroke-width="1" />
<line x1="50.5" y1="515" x2="50.5" y2="516" stroke="#c0c0c0" stroke-width="1" />
<line x1="55.5" y1="404" x2="55.5" y2="405" stroke="#c0c0c0" stroke-width="1" />
<line x1="55.5" y1="416" x2="55.5" y2="417" stroke="#c0c0c0" stroke-width="1" />
<line x1="55.5" y1="515" x2="55.5" y2="516" stroke="#c0c0c0" stroke-width="1" />
<line x1="60.5" y1="404" x2="60.5" y2="405" stroke="#c0c0c0" stroke-width="1" />
<line x1="60.5" y1="416" x2="60.5" y2="417" stroke="#c0c0c0" stroke-width="1" />
<line x1="60.5" y1="515" x2="60.5" y2="516" stroke="#c0c0c0" stroke-width="1" />
<line x1="65.5" y1="404" x2="65.5" y2="405" stroke="#c0c0c0" stroke-width="1" />
<line x1="65.5" y1="416" x2="65.5" y2="417" stroke="#c0c0c0" stroke-width="1" />
<line x1="65.5" y1="515" x2="65.5" y2="516" stroke="#c0c0c0" stroke-width="1" />
<line x1="70.5" y1="404" x2="70.5" y2="405" stroke="#c0c0c0" stroke-width="1" />
<line x1="70.5" y1="416" x2="70.5" y2="417" stroke="#c0c0c0" stroke-width="1" />
<line x1="70.5" y1="515" x2="70.5" y2="516" stroke="#c0c0c0" stroke-width="1" />
<line x1="75.5" y1="404" x2="75.5" y2="405" stroke="#c0c0c0" stroke-width="1" />
<line x1="75.5" y1="416" x2="75.5" y2="417" stroke="#c0c0c0" stroke-width="1" />
<line x1="75.5" y1="515" x2="75.5" y2="516" stroke="#c0c0c0" stroke-width="1" />
<line x1="80.5" y1="404" x2="80.5" y2="405" stroke="#c0c0c0" stroke-width="1" />
<line x1="80.5" y1="416" x2="80.5" y2="417" stroke="#c0c0c0" stroke-width="1" />
<line x1="80.5" y1="515" x2="80.5" y2="516" stroke="#c0c0c0" stroke-width="1" />
<line x1="85.5" y1="404" x2="85.5" y2="405" stroke="#c0c0c0" stroke-width="1" />
<line x1="85.5" y1="416" x2="85.5" y2="417" stroke="#c0c0c0" stroke-width="1" />
<line x1="85.5" y1="515" x2="85.5" y2="516" stroke="#c0c0c0" stroke-width="1" />
<line x1="90.5" y1="404" x2="90.5" y2="405" stroke="#c0c0c0" stroke-width="1" />
<line x1="90.5" y1="416" x2="90.5" y2="417" stroke="#c0c0c0" stroke-width="1" />
<line x1="90.5" y1="515" x2="90.5" y2="516" stroke="#c0c0c0" stroke-width="1" />
<line x1="95.5" y1="404" x2="95.5" y2="405" stroke="#c0c0c0" stroke-width="1" />
<line x1="95.5" y1="416" x2="95.5" y2="417" stroke="#c0c0c0" stroke-width="1" />
<line x1="95.5" y1="515" x2="95.5" y2="516" stroke="#c0c0c0" stroke-width="1" />
<line x1="100.5" y1="404" x2="100.5" y2="405" stroke="#c0c0c0" stroke-width="1" />
<line x1="100.5" y1="416" x2="100.5" y2="417" stroke="#c0c0c0" stroke-width="1" />
<line x1="100.5" y1="515" x2="100.5" y2="516" stroke="#c0c0c0" stroke-width="1" />
<line x1="105.5" y1="404" x2="105.5" y2="405" stroke="#c0c0c0" stroke-width="1" />
<line x1="105.5" y1="416" x2="105.5" y2="417" stroke="#c0c0c0" stroke-width="1" />
<line x1="105.5" y1="515" x2="105.5" y2="516" stroke="#c0c0c0" stroke-width="1" />
<line x1="110.5" y1="404" x2="110.5" y2="405" stroke="#c0c0c0" stroke-width="1" />
<line x1="110.5" y1="416" x2="110.5" y2="417" stroke="#c0c0c0" stroke-width="1" />
<line x1="110.5" y1="515" x2="110.5" y2="516" stroke="#c0c0c0" stroke-width="1" />
<line x1="115.5" y1="404" x2="115.5" y2="405" stroke="#c0c0c0" stroke-width="1" />
<line x1="115.5" y1="416" x2="115.5" y2="417" stroke="#c0c0c0" stroke-width="1" />
<line x1="115.5" y1="515" x2="115.5" y2="516" stroke="#c0c0c0" stroke-width="1" />
<line x1="120.5" y1="404" x2="120.5" y2="405" stroke="#c0c0c0" stroke-width="1" />
<line x1="120.5" y1="416" x2="120.5" y2="417" stroke="#c0c0c0" stroke-width="1" />
<line x1="120.5" y1="515" x2="120.5" y2="516" stroke="#c0c0c0" stroke-width="1" />
<line x1="125.5" y1="404" x2="125.5" y2="405" stroke="#c0c0c0" stroke-width="1" />
<line x1="125.5" y1="416" x2="125.5" y2="417" stroke="#c0c0c0" stroke-width="1" />
<line x1="125.5" y1="515" x2="125.5" y2="516" stroke="#c0c0c0" stroke-width="1" />
<line x1="130.5" y1="404" x2="130.5" y2="405" stroke="#c0c0c0" stroke-width="1" />
<line x1="130.5" y1="416" x2="130.5" y2="417" stroke="#c0c0c0" stroke-width="1" />
<line x1="130.5" y1="515" x2="130.5" y2="516" stroke="#c0c0c0" stroke-width="1" />
<line x1="135.5" y1="404" x2="135.5" y2="405" stroke="#c0c0c0" stroke-width="1" />
<line x1="135.5" y1="416" x2="135.5" y2="417" stroke="#c0c0c0" stroke-width="1" />
<line x1="135.5" y1="515" x2="135.5" y2="516" stroke="#c0c0c0" stroke-width="1" />
<line x1="140.5" y1="404" x2="140.5" y2="405" stroke="#c0c0c0" stroke-width="1" />
<line x1="140.5" y1="416" x2="140.5" y2="417" stroke="#c0c0c0" stroke-width="1" />
<line x1="140.5" y1="515" x2="140.5" y2="516" stroke="#c0c0c0" stroke-width="1" />
<line x1="145.5" y1="404" x2="145.5" y2="405" stroke="#c0c0c0" stroke-width="1" />
<line x1="145.5" y1="416" x2="145.5" y2="417" stroke="#c0c0c0" stroke-width="1" />
<line x1="145.5" y1="515" x2="145.5" y2="516" stroke="#c0c0c0" stroke-width="1" />
<line x1="150.5" y1="404" x2="150.5" y2="405" stroke="#c0c0c0" stroke-width="1" />
<line x1="150.5" y1="416" x2="150.5" y2="417" stroke="#c0c0c0" stroke-width="1" />
<line x1="150.5" y1="515" x2="150.5" y2="516" stroke="#c0c0c0" stroke-width="1" />
<line x1="155.5" y1="404" x2="155.5" y2="405" stroke="#c0c0c0" stroke-width="1" />
<line x1="155.5" y1="416" x2="155.5" y2="417" stroke="#c0c0c0" stroke-width="1" />
<line x1="155.5" y1="515" x2="155.5" y2="516" stroke="#c0c0c0" stroke-width="1" />
<line x1="160.5" y1="404" x2="160.5" y2="405" stroke="#c0c0c0" stroke-width="1" />
<line x1="160.5" y1="416" x2="160.5" y2="417" stroke="#c0c0c0" stroke-width="1" />
<line x1="160.5" y1="515" x2="160.5" y2="516" stroke="#c0c0c0" stroke-width="1" />
<line x1="165.5" y1="404" x2="165.5" y2="405" stroke="#c0c0c0" stroke-width="1" />
<line x1="165.5" y1="416" x2="165.5" y2="417" stroke="#c0c0c0" stroke-width="1" />
<line x1="165.5" y1="515" x2="165.5" y2="516" stroke="#c0c0c0" stroke-width="1" />
<line x1="170.5" y1="404" x2="170.5" y2="405" stroke="#c0c0c0" stroke-width="1" />
<line x1="170.5" y1="416" x2="170.5" y2="417" stroke="#c0c0c0" stroke-width="1" />
<line x1="170.5" y1="515" x2="170.5" y2="516" stroke="#c0c0c0" stroke-width="1" />
<line x1="175.5" y1="404" x2="175.5" y2="405" stroke="#c0c0c0" stroke-width="1" />
<line x1="175.5" y1="416" x2="175.5" y2="417" stroke="#c0c0c0" stroke-width="1" />
<line x1="175.5" y1="515" x2="175.5" y2="516" stroke="#c0c0c0" stroke-width="1" />
<line x1="180.5" y1="404" x2="180.5" y2="405" stroke="#c0c0c0" stroke-width="1" />
<line x1="180.5" y1="416" x2="180.5" y2="417" stroke="#c0c0c0" stroke-width="1" />
<line x1="180.5" y1="515" x2="180.5" y2="516" stroke="#c0c0c0" stroke-width="1" />
<line x1="185.5" y1="404" x2="185.5" y2="405" stroke="#c0c0c0" stroke-width="1" />
<line x1="185.5" y1="416" x2="185.5" y2="417" stroke="#c0c0c0" stroke-width="1" />
<line x1="185.5" y1="515" x2="185.5" y2="516" stroke="#c0c0c0" stroke-width="1" />
<line x1="190.5" y1="404" x2="190.5" y2="405" stroke="#c0c0c0" stroke-width="1" />
<line x1="190.5" y1="416" x2="190.5" y2="417" stroke="#c0c0c0" stroke-width="1" />
<line x1="190.5" y1="515" x2="190.5" y2="516" stroke="#c0c0c0" stroke-width="1" />
<line x1="195.5" y1="404" x2="195.5" y2="405" stroke="#c0c0c0" stroke-width="1" />
<line x1="195.5" y1="416" x2="195.5" y2="417" stroke="#c0c0c0" stroke-width="1" />
<line x1="195.5" y1="515" x2="195.5" y2="516" stroke="#c0c0c0" stroke-width="1" />
<line x1="200.5" y1="404" x2="200.5" y2="405" stroke="#c0c0c0" stroke-width="1" />
<line x1="200.5" y1="416" x2="200.5" y2="417" stroke="#c0c0c0" stroke-width="1" />
<line x1="200.5" y1="515" x2="200.5" y2="516" stroke="#c0c0c0" stroke-width="1" />
<line x1="205.5" y1="404" x2="205.5" y2="405" stroke="#c0c0c0" stroke-width="1" />
<line x1="205.5" y1="416" x2="205.5" y2="417" stroke="#c0c0c0" stroke-width="1" />
<line x1="205.5" y1="515" x2="205.5" y2="516" stroke="#c0c0c0" stroke-width="1" />
<line x1="210.5" y1="404" x2="210.5" y2="405" stroke="#c0c0c0" stroke-width="1" />
<line x1="210.5" y1="416" x2="210.5" y2="417" stroke="#c0c0c0" stroke-width="1" />
<line x1="210.5" y1="515" x2="210.5" y2="516" stroke="#c0c0c0" stroke-width="1" />
<line x1="215.5" y1="404" x2="215.5" y2="405" stroke="#c0c0c0" stroke-width="1" />
<line x1="215.5" y1="416" x2="215.5" y2="417" stroke="#c0c0c0" stroke-width="1" />
<line x1="215.5" y1="515" x2="215.5" y2="516" stroke="#c0c0c0" stroke-width="1" />
<line x1="220.5" y1="404" x2="220.5" y2="405" stroke="#c0c0c0" stroke-width="1" />
<line x1="220.5" y1="416" x2="220.5" y2="417" stroke="#c0c0c0" stroke-width="1" />
<line x1="220.5" y1="515" x2="220.5" y2="516" stroke="#c0c0c0" stroke-width="1" />
<line x1="225.5" y1="404" x2="225.5" y2="405" stroke="#c0c0c0" stroke-width="1" />
<line x1="225.5" y1="416" x2="225.5" y2="417" stroke="#c0c0c0" stroke-width="1" />
<line x1="225.5" y1="515" x2="225.5" y2="516" stroke="#c0c0c0" stroke-width="1" />
<line x1="230.5" y1="404" x2="230.5" y2="405" stroke="#c0c0c0" stroke-width="1" />
<line x1="230.5" y1="416" x2="230.5" y2="417" stroke="#c0c0c0" stroke-width="1" />
<line x1="230.5" y1="515" x2="230.5" y2="516" stroke="#c0c0c0" stroke-width="1" />
<line x1="235.5" y1="404" x2="235.5" y2="405" stroke="#c0c0c0" stroke-width="1" />
<line x1="235.5" y1="416" x2="235.5" y2="417" stroke="#c0c0c0" stroke-width="1" />
<line x1="235.5" y1="515" x2="235.5" y2="516" stroke="#c0c0c0" stroke-width="1" />
<line x1="240.5" y1="404" x2="240.5" y2="405" stroke="#c0c0c0" stroke-width="1" />
<line x1="240.5" y1="416" x2="240.5" y2="417" stroke="#c0c0c0" stroke-width="1" />
<line x1="240.5" y1="515" x2="240.5" y2="516" stroke="#c0c0c0" stroke-width="1" />
<line x1="245.5" y1="404" x2="245.5" y2="405" stroke="#c0c0c0" stroke-width="1" />
<line x1="245.5" y1="416" x2="245.5" y2="417" stroke="#c0c0c0" stroke-width="1" />
<line x1="245.5" y1="515" x2="245.5" y2="516" stroke="#c0c0c0" stroke-width="1" />
<line x1="250.5" y1="404" x2="250.5" y2="405" stroke="#c0c0c0" stroke-width="1" />
<line x1="250.5" y1="416" x2="250.5" y2="417" stroke="#c0c0c0" stroke-width="1" />
<line x1="250.5" y1="515" x2="250.5" y2="516" stroke="#c0c0c0" stroke-width="1" />
<line x1="255.5" y1="404" x2="255.5" y2="405" stroke="#c0c0c0" stroke-width="1" />
<line x1="255.5" y1="416" x2="255.5" y2="417" stroke="#c0c0c0" stroke-width="1" />
<line x1="255.5" y1="515" x2="255.5" y2="516" stroke="#c0c0c0" stroke-width="1" />
<line x1="260.5" y1="404" x2="260.5" y2="405" stroke="#c0c0c0" stroke-width="1" />
<line x1="260.5" y1="416" x2="260.5" y2="417" stroke="#c0c0c0" stroke-width="1" />
<line x1="260.5" y1="515" x2="260.5" y2="516" stroke="#c0c0c0" stroke-width="1" />
<line x1="265.5" y1="404" x2="265.5" y2="405" stroke="#c0c0c0" stroke-width="1" />
<line x1="265.5" y1="416" x2="265.5" y2="417" stroke="#c0c0c0" stroke-width="1" />
<line x1="265.5" y1="515" x2="265.5" y2="516" stroke="#c0c0c0" stroke-width="1" />
<line x1="270.5" y1="404" x2="270.5" y2="405" stroke="#c0c0c0" stroke-width="1" />
<line x1="270.5" y1="416" x2="270.5" y2="417" stroke="#c0c0c0" stroke-width="1" />
<line x1="270.5" y1="515" x2="270.5" y2="516" stroke="#c0c0c0" stroke-width="1" />
<line x1="275.5" y1="404" x2="275.5" y2="405" stroke="#c0c0c0" stroke-width="1" />
<line x1="275.5" y1="416" x2="275.5" y2="417" stroke="#c0c0c0" stroke-width="1" />
<line x1="275.5" y1="515" x2="275.5" y2="516" stroke="#c0c0c0" stroke-width="1" />
<line x1="280.5" y1="404" x2="280.5" y2="405" stroke="#c0c0c0" stroke-width="1" />
<line x1="280.5" y1="416" x2="280.5" y2="417" stroke="#c0c0c0" stroke-width="1" />
<line x1="280.5" y1="515" x2="280.5" y2="516" stroke="#c0c0c0" stroke-width="1" />
<line x1="285.5" y1="404" x2="285.5" y2="405" stroke="#c0c0c0" stroke-width="1" />
<line x1="285.5" y1="416" x2="285.5" y2="417" stroke="#c0c0c0" stroke-width="1" />
<line x1="285.5" y1="515" x2="285.5" y2="516" stroke="#c0c0c0" stroke-width="1" />
<line x1="290.5" y1="404" x2="290.5" y2="405" stroke="#c0c0c0" stroke-width="1" />
<line x1="290.5" y1="416" x2="290.5" y2="417" stroke="#c0c0c0" stroke-width="1" />
<line x1="290.5" y1="515" x2="290.5" y2="516" stroke="#c0c0c0" stroke-width="1" />
<line x1="295.5" y1="404" x2="295.5" y2="405" stroke="#c0c0c0" stroke-width="1" />
<line x1="295.5" y1="416" x2="295.5" y2="417" stroke="#c0c0c0" stroke-width="1" />
<line x1="295.5" y1="515" x2="295.5" y2="516" stroke="#c0c0c0" stroke-width="1" />
<line x1="300.5" y1="404" x2="300.5" y2="405" stroke="#c0c0c0" stroke-width="1" />
<line x1="300.5" y1="416" x2="300.5" y2="417" stroke="#c0c0c0" stroke-width="1" />
<line x1="300.5" y1="515" x2="300.5" y2="516" stroke="#c0c0c0" stroke-width="1" />
<line x1="305.5" y1="404" x2="305.5" y2="405" stroke="#c0c0c0" stroke-width="1" />
<line x1="305.5" y1="416" x2="305.5" y2="417" stroke="#c0c0c0" stroke-width="1" />
<line x1="305.5" y1="515" x2="305.5" y2="516" stroke="#c0c0c0" stroke-width="1" />
<line x1="310.5" y1="404" x2="310.5" y2="405" stroke="#c0c0c0" stroke-width="1" />
<line x1="310.5" y1="416" x2="310.5" y2="417" stroke="#c0c0c0" stroke-width="1" />
<line x1="310.5" y1="515" x2="310.5" y2="516" stroke="#c0c0c0" stroke-width="1" />
<line x1="315.5" y1="404" x2="315.5" y2="405" stroke="#c0c0c0" stroke-width="1" />
<line x1="315.5" y1="416" x2="315.5" y2="417" stroke="#c0c0c0" stroke-width="1" />
<line x1="315.5" y1="515" x2="315.5" y2="516" stroke="#c0c0c0" stroke-width="1" />
<line x1="320.5" y1="404" x2="320.5" y2="405" stroke="#c0c0c0" stroke-width="1" />
<line x1="320.5" y1="416" x2="320.5" y2="417" stroke="#c0c0c0" stroke-width="1" />
<line x1="320.5" y1="515" x2="320.5" y2="516" stroke="#c0c0c0" stroke-width="1" />
<line x1="325.5" y1="404" x2="325.5" y2="405" stroke="#c0c0c0" stroke-width="1" />
<line x1="325.5" y1="416" x2="325.5" y2="417" stroke="#c0c0c0" stroke-width="1" />
<line x1="325.5" y1="515" x2="325.5" y2="516" stroke="#c0c0c0" stroke-width="1" />
<line x1="330.5" y1="404" x2="330.5" y2="405" stroke="#c0c0c0" stroke-width="1" />
<line x1="330.5" y1="416" x2="330.5" y2="417" stroke="#c0c0c0" stroke-width="1" />
<line x1="330.5" y1="515" x2="330.5" y2="516" stroke="#c0c0c0" stroke-width="1" />
<line x1="335.5" y1="404" x2="335.5" y2="405" stroke="#c0c0c0" stroke-width="1" />
<line x1="335.5" y1="416" x2="335.5" y2="417" stroke="#c0c0c0" stroke-width="1" />
<line x1="335.5" y1="515" x2="335.5" y2="516" stroke="#c0c0c0" stroke-width="1" />
<line x1="340.5" y1="404" x2="340.5" y2="405" stroke="#c0c0c0" stroke-width="1" />
<line x1="340.5" y1="416" x2="340.5" y2="417" stroke="#c0c0c0" stroke-width="1" />
<line x1="340.5" y1="515" x2="340.5" y2="516" stroke="#c0c0c0" stroke-width="1" />
<line x1="345.5" y1="404" x2="345.5" y2="405" stroke="#c0c0c0" stroke-width="1" />
<line x1="345.5" y1="416" x2="345.5" y2="417" stroke="#c0c0c0" stroke-width="1" />
<line x1="345.5" y1="515" x2="345.5" y2="516" stroke="#c0c0c0" stroke-width="1" />
<line x1="350.5" y1="404" x2="350.5" y2="405" stroke="#c0c0c0" stroke-width="1" />
<line x1="350.5" y1="416" x2="350.5" y2="417" stroke="#c0c0c0" stroke-width="1" />
<line x1="350.5" y1="515" x2="350.5" y2="516" stroke="#c0c0c0" stroke-width="1" />
<line x1="355.5" y1="404" x2="355.5" y2="405" stroke="#c0c0c0" stroke-width="1" />
<line x1="355.5" y1="416" x2="355.5" y2="417" stroke="#c0c0c0" stroke-width="1" />
<line x1="355.5" y1="515" x2="355.5" y2="516" stroke="#c0c0c0" stroke-width="1" />
<line x1="360.5" y1="404" x2="360.5" y2="405" stroke="#c0c0c0" stroke-width="1" />
<line x1="360.5" y1="416" x2="360.5" y2="417" stroke="#c0c0c0" stroke-width="1" />
<line x1="360.5" y1="515" x2="360.5" y2="516" stroke="#c0c0c0" stroke-width="1" />
<line x1="365.5" y1="404" x2="365.5" y2="405" stroke="#c0c0c0" stroke-width="1" />
<line x1="365.5" y1="416" x2="365.5" y2="417" stroke="#c0c0c0" stroke-width="1" />
<line x1="365.5" y1="515" x2="365.5" y2="516" stroke="#c0c0c0" stroke-width="1" />
<line x1="370.5" y1="404" x2="370.5" y2="405" stroke="#c0c0c0" stroke-width="1" />
<line x1="370.5" y1="416" x2="370.5" y2="417" stroke="#c0c0c0" stroke-width="1" />
<line x1="370.5" y1="515" x2="370.5" y2="516" stroke="#c0c0c0" stroke-width="1" />
<line x1="375.5" y1="404" x2="375.5" y2="405" stroke="#c0c0c0" stroke-width="1" />
<line x1="375.5" y1="416" x2="375.5" y2="417" stroke="#c0c0c0" stroke-width="1" />
<line x1="375.5" y1="515" x2="375.5" y2="516" stroke="#c0c0c0" stroke-width="1" />
<line x1="380.5" y1="404" x2="380.5" y2="405" stroke="#c0c0c0" stroke-width="1" />
<line x1="380.5" y1="416" x2="380.5" y2="417" stroke="#c0c0c0" stroke-width="1" />
<line x1="380.5" y1="515" x2="380.5" y2="516" stroke="#c0c0c0" stroke-width="1" />
<line x1="385.5" y1="404" x2="385.5" y2="405" stroke="#c0c0c0" stroke-width="1" />
<line x1="385.5" y1="416" x2="385.5" y2="417" stroke="#c0c0c0" stroke-width="1" />
<line x1="385.5" y1="515" x2="385.5" y2="516" stroke="#c0c0c0" stroke-width="1" />
<line x1="390.5" y1="404" x2="390.5" y2="405" stroke="#c0c0c0" stroke-width="1" />
<line x1="390.5" y1="416" x2="390.5" y2="417" stroke="#c0c0c0" stroke-width="1" />
<line x1="390.5" y1="515" x2="390.5" y2="516" stroke="#c0c0c0" stroke-width="1" />
<line x1="395.5" y1="404" x2="395.5" y2="405" stroke="#c0c0c0" stroke-width="1" />
<line x1="395.5" y1="416" x2="395.5" y2="417" stroke="#c0c0c0" stroke-width="1" />
<line x1="395.5" y1="515" x2="395.5" y2="516" stroke="#c0c0c0" stroke-width="1" />
<line x1="400.5" y1="404" x2="400.5" y2="405" stroke="#c0c0c0" stroke-width="1" />
<line x1="400.5" y1="416" x2="400.5" y2="417" stroke="#c0c0c0" stroke-width="1" />
<line x1="400.5" y1="515" x2="400.5" y2="516" stroke="#c0c0c0" stroke-width="1" />
<line x1="405.5" y1="404" x2="405.5" y2="405" stroke="#c0c0c0" stroke-width="1" />
<line x1="405.5" y1="416" x2="405.5" y2="417" stroke="#c0c0c0" stroke-width="1" />
<line x1="405.5" y1="515" x2="405.5" y2="516" stroke="#c0c0c0" stroke-width="1" />
<line x1="410.5" y1="404" x2="410.5" y2="405" stroke="#c0c0c0" stroke-width="1" />
<line x1="410.5" y1="416" x2="410.5" y2="417" stroke="#c0c0c0" stroke-width="1" />
<line x1="410.5" y1="515" x2="410.5" y2="516" stroke="#c0c0c0" stroke-width="1" />
<line x1="415.5" y1="404" x2="415.5" y2="405" stroke="#c0c0c0" stroke-width="1" />
<line x1="415.5" y1="416" x2="415.5" y2="417" stroke="#c0c0c0" stroke-width="1" />
<line x1="415.5" y1="515" x2="415.5" y2="516" stroke="#c0c0c0" stroke-width="1" />
<line x1="420.5" y1="404" x2="420.5" y2="405" stroke="#c0c0c0" stroke-width="1" />
<line x1="420.5" y1="416" x2="420.5" y2="417" stroke="#c0c0c0" stroke-width="1" />
<line x1="420.5" y1="515" x2="420.5" y2="516" stroke="#c0c0c0" stroke-width="1" />
<line x1="425.5" y1="404" x2="425.5" y2="405" stroke="#c0c0c0" stroke-width="1" />
<line x1="425.5" y1="416" x2="425.5" y2="417" stroke="#c0c0c0" stroke-width="1" />
<line x1="425.5" y1="515" x2="425.5" y2="516" stroke="#c0c0c0" stroke-width="1" />
<line x1="430.5" y1="404" x2="430.5" y2="405" stroke="#c0c0c0" stroke-width="1" />
<line x1="430.5" y1="416" x2="430.5" y2="417" stroke="#c0c0c0" stroke-width="1" />
<line x1="430.5" y1="515" x2="430.5" y2="516" stroke="#c0c0c0" stroke-width="1" />
<line x1="435.5" y1="404" x2="435.5" y2="405" stroke="#c0c0c0" stroke-width="1" />
<line x1="435.5" y1="416" x2="435.5" y2="417" stroke="#c0c0c0" stroke-width="1" />
<line x1="435.5" y1="515" x2="435.5" y2="516" stroke="#c0c0c0" stroke-width="1" />
<line x1="440.5" y1="404" x2="440.5" y2="405" stroke="#c0c0c0" stroke-width="1" />
<line x1="440.5" y1="416" x2="440.5" y2="417" stroke="#c0c0c0" stroke-width="1" />
<line x1="440.5" y1="515" x2="440.5" y2="516" stroke="#c0c0c0" stroke-width="1" />
<line x1="445.5" y1="404" x2="445.5" y2="405" stroke="#c0c0c0" stroke-width="1" />
<line x1="445.5" y1="416" x2="445.5" y2="417" stroke="#c0c0c0" stroke-width="1" />
<line x1="445.5" y1="515" x2="445.5" y2="516" stroke="#c0c0c0" stroke-width="1" />
<line x1="450.5" y1="404" x2="450.5" y2="405" stroke="#c0c0c0" stroke-width="1" />
<line x1="450.5" y1="416" x2="450.5" y2="417" stroke="#c0c0c0" stroke-width="1" />
<line x1="450.5" y1="515" x2="450.5" y2="516" stroke="#c0c0c0" stroke-width="1" />
<line x1="455.5" y1="404" x2="455.5" y2="405" stroke="#c0c0c0" stroke-width="1" />
<line x1="455.5" y1="416" x2="455.5" y2="417" stroke="#c0c0c0" stroke-width="1" />
<line x1="455.5" y1="515" x2="455.5" y2="516" stroke="#c0c0c0" stroke-width="1" />
<line x1="460.5" y1="404" x2="460.5" y2="405" stroke="#c0c0c0" stroke-width="1" />
<line x1="460.5" y1="416" x2="460.5" y2="417" stroke="#c0c0c0" stroke-width="1" />
<line x1="460.5" y1="515" x2="460.5" y2="516" stroke="#c0c0c0" stroke-width="1" />
<line x1="465.5" y1="404" x2="465.5" y2="405" stroke="#c0c0c0" stroke-width="1" />
<line x1="465.5" y1="416" x2="465.5" y2="417" stroke="#c0c0c0" stroke-width="1" />
<line x1="465.5" y1="515" x2="465.5" y2="516" stroke="#c0c0c0" stroke-width="1" />
<line x1="470.5" y1="404" x2="470.5" y2="405" stroke="#c0c0c0" stroke-width="1" />
<line x1="470.5" y1="416" x2="470.5" y2="417" stroke="#c0c0c0" stroke-width="1" />
<line x1="470.5" y1="515" x2="470.5" y2="516" stroke="#c0c0c0" stroke-width="1" />
<line x1="475.5" y1="404" x2="475.5" y2="405" stroke="#c0c0c0" stroke-width="1" />
<line x1="475.5" y1="416" x2="475.5" y2="417" stroke="#c0c0c0" stroke-width="1" />
<line x1="475.5" y1="515" x2="475.5" y2="516" stroke="#c0c0c0" stroke-width="1" />
<line x1="480.5" y1="404" x2="480.5" y2="405" stroke="#c0c0c0" stroke-width="1" />
<line x1="480.5" y1="416" x2="480.5" y2="417" stroke="#c0c0c0" stroke-width="1" />
<line x1="480.5" y1="515" x2="480.5" y2="516" stroke="#c0c0c0" stroke-width="1" />
<line x1="485.5" y1="404" x2="485.5" y2="405" stroke="#c0c0c0" stroke-width="1" />
<line x1="485.5" y1="416" x2="485.5" y2="417" stroke="#c0c0c0" stroke-width="1" />
<line x1="485.5" y1="515" x2="485.5" y2="516" stroke="#c0c0c0" stroke-width="1" />
<line x1="490.5" y1="404" x2="490.5" y2="405" stroke="#c0c0c0" stroke-width="1" />
<line x1="490.5" y1="416" x2="490.5" y2="417" stroke="#c0c0c0" stroke-width="1" />
<line x1="490.5" y1="515" x2="490.5" y2="516" stroke="#c0c0c0" stroke-width="1" />
<line x1="495.5" y1="404" x2="495.5" y2="405" stroke="#c0c0c0" stroke-width="1" />
<line x1="495.5" y1="416" x2="495.5" y2="417" stroke="#c0c0c0" stroke-width="1" />
<line x1="495.5" y1="515" x2="495.5" y2="516" stroke="#c0c0c0" stroke-width="1" />
<line x1="500.5" y1="404" x2="500.5" y2="405" stroke="#c0c0c0" stroke-width="1" />
<line x1="500.5" y1="416" x2="500.5" y2="417" stroke="#c0c0c0" stroke-width="1" />
<line x1="500.5" y1="515" x2="500.5" y2="516" stroke="#c0c0c0" stroke-width="1" />
<line x1="505.5" y1="404" x2="505.5" y2="405" stroke="#c0c0c0" stroke-width="1" />
<line x1="505.5" y1="416" x2="505.5" y2="417" stroke="#c0c0c0" stroke-width="1" />
<line x1="505.5" y1="515" x2="505.5" y2="516" stroke="#c0c0c0" stroke-width="1" />
<line x1="510.5" y1="404" x2="510.5" y2="405" stroke="#c0c0c0" stroke-width="1" />
<line x1="510.5" y1="416" x2="510.5" y2="417" stroke="#c0c0c0" stroke-width="1" />
<line x1="510.5" y1="515" x2="510.5" y2="516" stroke="#c0c0c0" stroke-width="1" />
<line x1="515.5" y1="404" x2="515.5" y2="405" stroke="#c0c0c0" stroke-width="1" />
<line x1="515.5" y1="416" x2="515.5" y2="417" stroke="#c0c0c0" stroke-width="1" />
<line x1="515.5" y1="515" x2="515.5" y2="516" stroke="#c0c0c0" stroke-width="1" />
<line x1="520.5" y1="404" x2="520.5" y2="405" stroke="#c0c0c0" stroke-width="1" />
<line x1="520.5" y1="416" x2="520.5" y2="417" stroke="#c0c0c0" stroke-width="1" />
<line x1="520.5" y1="515" x2="520.5" y2="516" stroke="#c0c0c0" stroke-width="1" />
<line x1="525.5" y1="404" x2="525.5" y2="405" stroke="#c0c0c0" stroke-width="1" />
<line x1="525.5" y1="416" x2="525.5" y2="417" stroke="#c0c0c0" stroke-width="1" />
<line x1="525.5" y1="515" x2="525.5" y2="516" stroke="#c0c0c0" stroke-width="1" />
<line x1="530.5" y1="404" x2="530.5" y2="405" stroke="#c0c0c0" stroke-width="1" />
<line x1="530.5" y1="416" x2="530.5" y2="417" stroke="#c0c0c0" stroke-width="1" />
<line x1="530.5" y1="515" x2="530.5" y2="516" stroke="#c0c0c0" stroke-width="1" />
<line x1="535.5" y1="404" x2="535.5" y2="405" stroke="#c0c0c0" stroke-width="1" />
<line x1="535.5" y1="416" x2="535.5" y2="417" stroke="#c0c0c0" stroke-width="1" />
<line x1="535.5" y1="515" x2="535.5" y2="516" stroke="#c0c0c0" stroke-width="1" />
<line x1="540.5" y1="404" x2="540.5" y2="405" stroke="#c0c0c0" stroke-width="1" />
<line x1="540.5" y1="416" x2="540.5" y2="417" stroke="#c0c0c0" stroke-width="1" />
<line x1="540.5" y1="515" x2="540.5" y2="516" stroke="#c0c0c0" stroke-width="1" />
<line x1="545.5" y1="404" x2="545.5" y2="405" stroke="#c0c0c0" stroke-width="1" />
<line x1="545.5" y1="416" x2="545.5" y2="417" stroke="#c0c0c0" stroke-width="1" />
<line x1="545.5" y1="515" x2="545.5" y2="516" stroke="#c0c0c0" stroke-width="1" />
<line x1="550.5" y1="404" x2="550.5" y2="405" stroke="#c0c0c0" stroke-width="1" />
<line x1="550.5" y1="416" x2="550.5" y2="417" stroke="#c0c0c0" stroke-width="1" />
<line x1="550.5" y1="515" x2="550.5" y2="516" stroke="#c0c0c0" stroke-width="1" />
<line x1="555.5" y1="404" x2="555.5" y2="405" stroke="#c0c0c0" stroke-width="1" />
<line x1="555.5" y1="416" x2="555.5" y2="417" stroke="#c0c0c0" stroke-width="1" />
<line x1="555.5" y1="515" x2="555.5" y2="516" stroke="#c0c0c0" stroke-width="1" />
<line x1="560.5" y1="404" x2="560.5" y2="405" stroke="#c0c0c0" stroke-width="1" />
<line x1="560.5" y1="416" x2="560.5" y2="417" stroke="#c0c0c0" stroke-width="1" />
<line x1="560.5" y1="515" x2="560.5" y2="516" stroke="#c0c0c0" stroke-width="1" />
<line x1="565.5" y1="404" x2="565.5" y2="405" stroke="#c0c0c0" stroke-width="1" />
<line x1="565.5" y1="416" x2="565.5" y2="417" stroke="#c0c0c0" stroke-width="1" />
<line x1="565.5" y1="515" x2="565.5" y2="516" stroke="#c0c0c0" stroke-width="1" />
<line x1="570.5" y1="404" x2="570.5" y2="405" stroke="#c0c0c0" stroke-width="1" />
<line x1="570.5" y1="416" x2="570.5" y2="417" stroke="#c0c0c0" stroke-width="1" />
<line x1="570.5" y1="515" x2="570.5" y2="516" stroke="#c0c0c0" stroke-width="1" />
<line x1="575.5" y1="404" x2="575.5" y2="405" stroke="#c0c0c0" stroke-width="1" />
<line x1="575.5" y1="416" x2="575.5" y2="417" stroke="#c0c0c0" stroke-width="1" />
<line x1="575.5" y1="515" x2="575.5" y2="516" stroke="#c0c0c0" stroke-width="1" />
<line x1="580.5" y1="404" x2="580.5" y2="405" stroke="#c0c0c0" stroke-width="1" />
<line x1="580.5" y1="416" x2="580.5" y2="417" stroke="#c0c0c0" stroke-width="1" />
<line x1="580.5" y1="515" x2="580.5" y2="516" stroke="#c0c0c0" stroke-width="1" />
<line x1="585.5" y1="404" x2="585.5" y2="405" stroke="#c0c0c0" stroke-width="1" />
<line x1="585.5" y1="416" x2="585.5" y2="417" stroke="#c0c0c0" stroke-width="1" />
<line x1="585.5" y1="515" x2="585.5" y2="516" stroke="#c0c0c0" stroke-width="1" />
<line x1="590.5" y1="404" x2="590.5" y2="405" stroke="#c0c0c0" stroke-width="1" />
<line x1="590.5" y1="416" x2="590.5" y2="417" stroke="#c0c0c0" stroke-width="1" />
<line x1="590.5" y1="515" x2="590.5" y2="516" stroke="#c0c0c0" stroke-width="1" />
<line x1="595.5" y1="404" x2="595.5" y2="405" stroke="#c0c0c0" stroke-width="1" />
<line x1="595.5" y1="416" x2="595.5" y2="417" stroke="#c0c0c0" stroke-width="1" />
<line x1="595.5" y1="515" x2="595.5" y2="516" stroke="#c0c0c0" stroke-width="1" />
<line x1="600.5" y1="404" x2="600.5" y2="405" stroke="#c0c0c0" stroke-width="1" />
<line x1="600.5" y1="416" x2="600.5" y2="417" stroke="#c0c0c0" stroke-width="1" />
<line x1="600.5" y1="515" x2="600.5" y2="516" stroke="#c0c0c0" stroke-width="1" />
<line x1="605.5" y1="404" x2="605.5" y2="405" stroke="#c0c0c0" stroke-width="1" />
<line x1="605.5" y1="416" x2="605.5" y2="417" stroke="#c0c0c0" stroke-width="1" />
<line x1="605.5" y1="515" x2="605.5" y2="516" stroke="#c0c0c0" stroke-width="1" />
<line x1="610.5" y1="404" x2="610.5" y2="405" stroke="#c0c0c0" stroke-width="1" />
<line x1="610.5" y1="416" x2="610.5" y2="417" stroke="#c0c0c0" stroke-width="1" />
<line x1="610.5" y1="515" x2="610.5" y2="516" stroke="#c0c0c0" stroke-width="1" />
<line x1="615.5" y1="404" x2="615.5" y2="405" stroke="#c0c0c0" stroke-width="1" />
<line x1="615.5" y1="416" x2="615.5" y2="417" stroke="#c0c0c0" stroke-width="1" />
<line x1="615.5" y1="515" x2="615.5" y2="516" stroke="#c0c0c0" stroke-width="1" />
<line x1="620.5" y1="404" x2="620.5" y2="405" stroke="#c0c0c0" stroke-width="1" />
<line x1="620.5" y1="416" x2="620.5" y2="417" stroke="#c0c0c0" stroke-width="1" />
<line x1="620.5" y1="515" x2="620.5" y2="516" stroke="#c0c0c0" stroke-width="1" />
<line x1="625.5" y1="404" x2="625.5" y2="405" stroke="#c0c0c0" stroke-width="1" />
<line x1="625.5" y1="416" x2="625.5" y2="417" stroke="#c0c0c0" stroke-width="1" />
<line x1="625.5" y1="515" x2="625.5" y2="516" stroke="#c0c0c0" stroke-width="1" />
<line x1="630.5" y1="404" x2="630.5" y2="405" stroke="#c0c0c0" stroke-width="1" />
<line x1="630.5" y1="416" x2="630.5" y2="417" stroke="#c0c0c0" stroke-width="1" />
<line x1="630.5" y1="515" x2="630.5" y2="516" stroke="#c0c0c0" stroke-width="1" />
<line x1="635.5" y1="404" x2="635.5" y2="405" stroke="#c0c0c0" stroke-width="1" />
<line x1="635.5" y1="416" x2="635.5" y2="417" stroke="#c0c0c0" stroke-width="1" />
<line x1="635.5" y1="515" x2="635.5" y2="516" stroke="#c0c0c0" stroke-width="1" />
<line x1="640.5" y1="404" x2="640.5" y2="405" stroke="#c0c0c0" stroke-width="1" />
<line x1="640.5" y1="416" x2="640.5" y2="417" stroke="#c0c0c0" stroke-width="1" />
<line x1="640.5" y1="515" x2="640.5" y2="516" stroke="#c0c0c0" stroke-width="1" />
<line x1="645.5" y1="404" x2="645.5" y2="405" stroke="#c0c0c0" stroke-width="1" />
<line x1="645.5" y1="416" x2="645.5" y2="417" stroke="#c0c0c0" stroke-width="1" />
<line x1="645.5" y1="515" x2="645.5" y2="516" stroke="#c0c0c0" stroke-width="1" />
<line x1="650.5" y1="404" x2="650.5" y2="405" stroke="#c0c0c0" stroke-width="1" />
<line x1="650.5" y1="416" x2="650.5" y2="417" stroke="#c0c0c0" stroke-width="1" />
<line x1="650.5" y1="515" x2="650.5" y2="516" stroke="#c0c0c0" stroke-width="1" />
<line x1="655.5" y1="404" x2="655.5" y2="405" stroke="#c0c0c0" stroke-width="1" />
<line x1="655.5" y1="416" x2="655.5" y2="417" stroke="#c0c0c0" stroke-width="1" />
<line x1="655.5" y1="515" x2="655.5" y2="516" stroke="#c0c0c0" stroke-width="1" />
<line x1="660.5" y1="404" x2="660.5" y2="405" stroke="#c0c0c0" stroke-width="1" />
<line x1="660.5" y1="416" x2="660.5" y2="417" stroke="#c0c0c0" stroke-width="1" />
<line x1="660.5" y1="515" x2="660.5" y2="516" stroke="#c0c0c0" stroke-width="1" />
<line x1="45.5" y1="515" x2="45.5" y2="517" stroke="#b0b0b0" stroke-width="1" />
<line x1="65.5" y1="515" x2="65.5" y2="517" stroke="#b0b0b0" stroke-width="1" />
<line x1="85.5" y1="515" x2="85.5" y2="517" stroke="#b0b0b0" stroke-width="1" />
<line x1="110.5" y1="515" x2="110.5" y2="517" stroke="#b0b0b0" stroke-width="1" />
<line x1="130.5" y1="515" x2="130.5" y2="517" stroke="#b0b0b0" stroke-width="1" />
<line x1="150.5" y1="515" x2="150.5" y2="517" stroke="#b0b0b0" stroke-width="1" />
<line x1="175.5" y1="515" x2="175.5" y2="517" stroke="#b0b0b0" stroke-width="1" />
<line x1="195.5" y1="515" x2="195.5" y2="517" stroke="#b0b0b0" stroke-width="1" />
<line x1="220.5" y1="515" x2="220.5" y2="517" stroke="#b0b0b0" stroke-width="1" />
<line x1="240.5" y1="515" x2="240.5" y2="517" stroke="#b0b0b0" stroke-width="1" />
<line x1="260.5" y1="515" x2="260.5" y2="517" stroke="#b0b0b0" stroke-width="1" />
<line x1="285.5" y1="515" x2="285.5" y2="517" stroke="#b0b0b0" stroke-width="1" />
<line x1="305.5" y1="515" x2="305.5" y2="517" stroke="#b0b0b0" stroke-width="1" />
<line x1="325.5" y1="515" x2="325.5" y2="517" stroke="#b0b0b0" stroke-width="1" />
<line x1="345.5" y1="515" x2="345.5" y2="517" stroke="#b0b0b0" stroke-width="1" />
<line x1="370.5" y1="515" x2="370.5" y2="517" stroke="#b0b0b0" stroke-width="1" />
<line x1="390.5" y1="515" x2="390.5" y2="517" stroke="#b0b0b0" stroke-width="1" />
<line x1="415.5" y1="515" x2="415.5" y2="517" stroke="#b0b0b0" stroke-width="1" />
<line x1="435.5" y1="515" x2="435.5" y2="517" stroke="#b0b0b0" stroke-width="1" />
<line x1="455.5" y1="515" x2="455.5" y2="517" stroke="#b0b0b0" stroke-width="1" />
<line x1="480.5" y1="515" x2="480.5" y2="517" stroke="#b0b0b0" stroke-width="1" />
<line x1="500.5" y1="515" x2="500.5" y2="517" stroke="#b0b0b0" stroke-width="1" />
<line x1="520.5" y1="515" x2="520.5" y2="517" stroke="#b0b0b0" stroke-width="1" />
<line x1="545.5" y1="515" x2="545.5" y2="517" stroke="#b0b0b0" stroke-width="1" />
<line x1="565.5" y1="515" x2="565.5" y2="517" stroke="#b0b0b0" stroke-width="1" />
<line x1="585.5" y1="515" x2="585.5" y2="517" stroke="#b0b0b0" stroke-width="1" />
<line x1="610.5" y1="515" x2="610.5" y2="517" stroke="#b0b0b0" stroke-width="1" />
<line x1="630.5" y1="515" x2="630.5" y2="517" stroke="#b0b0b0" stroke-width="1" />
<line x1="650.5" y1="515" x2="650.5" y2="517" stroke="#b0b0b0" stroke-width="1" />
<line x1="663" y1="118.5" x2="665" y2="118.5" stroke="#b4b4b4" stroke-width="1" />
<line x1="663" y1="114.5" x2="665" y2="114.5" stroke="#b4b4b4" stroke-width="1" />
<line x1="663" y1="110.5" x2="666" y2="110.5" stroke="#b4b4b4" stroke-width="1" />
<line x1="663" y1="106.5" x2="665" y2="106.5" stroke="#b4b4b4" stroke-width="1" />
<line x1="663" y1="102.5" x2="665" y2="102.5" stroke="#b4b4b4" stroke-width="1" />
<line x1="663" y1="98.5" x2="665" y2="98.5" stroke="#b4b4b4" stroke-width="1" />
<line x1="663" y1="93.5" x2="666" y2="93.5" stroke="#b4b4b4" stroke-width="1" />
<line x1="663" y1="89.5" x2="665" y2="89.5" stroke="#b4b4b4" stroke-width="1" />
<line x1="663" y1="85.5" x2="665" y2="85.5" stroke="#b4b4b4" stroke-width="1" />
<line x1="663" y1="81.5" x2="665" y2="81.5" stroke="#b4b4b4" stroke-width="1" />
<line x1="663" y1="77.5" x2="666" y2="77.5" stroke="#b4b4b4" stroke-width="1" />
<line x1="663" y1="73.5" x2="665" y2="73.5" stroke="#b4b4b4" stroke-width="1" />
<line x1="663" y1="69.5" x2="665" y2="69.5" stroke="#b4b4b4" stroke-width="1" />
<line x1="663" y1="64.5" x2="665" y2="64.5" stroke="#b4b4b4" stroke-width="1" />
<line x1="663" y1="60.5" x2="666" y2="60.5" stroke="#b4b4b4" stroke-width="1" />
<line x1="663" y1="56.5" x2="665" y2="56.5" stroke="#b4b4b4" stroke-width="1" />
<line x1="663" y1="52.5" x2="665" y2="52.5" stroke="#b4b4b4" stroke-width="1" />
<line x1="663" y1="48.5" x2="665" y2="48.5" stroke="#b4b4b4" stroke-width="1" />
<line x1="663" y1="44.5" x2="666" y2="44.5" stroke="#b4b4b4" stroke-width="1" />
<line x1="663" y1="40.5" x2="665" y2="40.5" stroke="#b4b4b4" stroke-width="1" />
<line x1="663" y1="35.5" x2="665" y2="35.5" stroke="#b4b4b4" stroke-width="1" />
<line x1="663" y1="401.5" x2="665" y2="401.5" stroke="#b4b4b4" stroke-width="1" />
<line x1="663" y1="397.5" x2="665" y2="397.5" stroke="#b4b4b4" stroke-width="1" />
<line x1="663" y1="392.5" x2="665" y2="392.5" stroke="#b4b4b4" stroke-width="1" />
<line x1="663" y1="387.5" x2="665" y2="387.5" stroke="#b4b4b4" stroke-width="1" />
<line x1="663" y1="382.5" x2="666" y2="382.5" stroke="#b4b4b4" stroke-width="1" />
<line x1="663" y1="378.5" x2="665" y2="378.5" stroke="#b4b4b4" stroke-width="1" />
<line x1="663" y1="373.5" x2="665" y2="373.5" stroke="#b4b4b4" stroke-width="1" />
<line x1="663" y1="369.5" x2="665" y2="369.5" stroke="#b4b4b4" stroke-width="1" />
<line x1="663" y1="364.5" x2="665" y2="364.5" stroke="#b4b4b4" stroke-width="1" />
<line x1="663" y1="360.5" x2="666" y2="360.5" stroke="#b4b4b4" stroke-width="1" />
<line x1="663" y1="355.5" x2="665" y2="355.5" stroke="#b4b4b4" stroke-width="1" />
<line x1="663" y1="351.5" x2="665" y2="351.5" stroke="#b4b4b4" stroke-width="1" />
<line x1="663" y1="347.5" x2="665" y2="347.5" stroke="#b4b4b4" stroke-width="1" />
<line x1="663" y1="343.5" x2="665" y2="343.5" stroke="#b4b4b4" stroke-width="1" />
<line x1="663" y1="338.5" x2="666" y2="338.5" stroke="#b4b4b4" stroke-width="1" />
<line x1="663" y1="334.5" x2="665" y2="334.5" stroke="#b4b4b4" stroke-width="1" />
<line x1="663" y1="330.5" x2="665" y2="330.5" stroke="#b4b4b4" stroke-width="1" />
<line x1="663" y1="326.5" x2="665" y2="326.5" stroke="#b4b4b4" stroke-width="1" />
<line x1="663" y1="322.5" x2="665" y2="322.5" stroke="#b4b4b4" stroke-width="1" />
<line x1="663" y1="318.5" x2="666" y2="318.5" stroke="#b4b4b4" stroke-width="1" />
<line x1="663" y1="314.5" x2="665" y2="314.5" stroke="#b4b4b4" stroke-width="1" />
<line x1="663" y1="310.5" x2="665" y2="310.5" stroke="#b4b4b4" stroke-width="1" />
<line x1="663" y1="306.5" x2="665" y2="306.5" stroke="#b4b4b4" stroke-width="1" />
<line x1="663" y1="302.5" x2="665" y2="302.5" stroke="#b4b4b4" stroke-width="1" />
<line x1="663" y1="299.5" x2="666" y2="299.5" stroke="#b4b4b4" stroke-width="1" />
<line x1="663" y1="295.5" x2="665" y2="295.5" stroke="#b4b4b4" stroke-width="1" />
<line x1="663" y1="291.5" x2="665" y2="291.5" stroke="#b4b4b4" stroke-width="1" />
<line x1="663" y1="287.5" x2="665" y2="287.5" stroke="#b4b4b4" stroke-width="1" />
<line x1="663" y1="284.5" x2="665" y2="284.5" stroke="#b4b4b4" stroke-width="1" />
<line x1="663" y1="280.5" x2="666" y2="280.5" stroke="#b4b4b4" stroke-width="1" />
<line x1="663" y1="276.5" x2="665" y2="276.5" stroke="#b4b4b4" stroke-width="1" />
<line x1="663" y1="273.5" x2="665" y2="273.5" stroke="#b4b4b4" stroke-width="1" />
<line x1="663" y1="269.5" x2="665" y2="269.5" stroke="#b4b4b4" stroke-width="1" />
<line x1="663" y1="266.5" x2="665" y2="266.5" stroke="#b4b4b4" stroke-width="1" />
<line x1="663" y1="262.5" x2="666" y2="262.5" stroke="#b4b4b4" stroke-width="1" />
<line x1="663" y1="259.5" x2="665" y2="259.5" stroke="#b4b4b4" stroke-width="1" />
<line x1="663" y1="255.5" x2="665" y2="255.5" stroke="#b4b4b4" stroke-width="1" />
<line x1="663" y1="252.5" x2="665" y2="252.5" stroke="#b4b4b4" stroke-width="1" />
<line x1="663" y1="248.5" x2="665" y2="248.5" stroke="#b4b4b4" stroke-width="1" />
<line x1="663" y1="245.5" x2="666" y2="245.5" stroke="#b4b4b4" stroke-width="1" />
<line x1="663" y1="242.5" x2="665" y2="242.5" stroke="#b4b4b4" stroke-width="1" />
<line x1="663" y1="238.5" x2="665" y2="238.5" stroke="#b4b4b4" stroke-width="1" />
<line x1="663" y1="235.5" x2="665" y2="235.5" stroke="#b4b4b4" stroke-width="1" />
<line x1="663" y1="232.5" x2="665" y2="232.5" stroke="#b4b4b4" stroke-width="1" />
<line x1="663" y1="229.5" x2="666" y2="229.5" stroke="#b4b4b4" stroke-width="1" />
<line x1="663" y1="226.5" x2="665" y2="226.5" stroke="#b4b4b4" stroke-width="1" />
<line x1="663" y1="222.5" x2="665" y2="222.5" stroke="#b4b4b4" stroke-width="1" />
<line x1="663" y1="219.5" x2="665" y2="219.5" stroke="#b4b4b4" stroke-width="1" />
<line x1="663" y1="216.5" x2="665" y2="216.5" stroke="#b4b4b4" stroke-width="1" />
<line x1="663" y1="213.5" x2="666" y2="213.5" stroke="#b4b4b4" stroke-width="1" />
<line x1="663" y1="210.5" x2="665" y2="210.5" stroke="#b4b4b4" stroke-width="1" />
<line x1="663" y1="207.5" x2="665" y2="207.5" stroke="#b4b4b4" stroke-width="1" />
<line x1="663" y1="204.5" x2="665" y2="204.5" stroke="#b4b4b4" stroke-width="1" />
<line x1="663" y1="201.5" x2="665" y2="201.5" stroke="#b4b4b4" stroke-width="1" />
<line x1="663" y1="198.5" x2="666" y2="198.5" stroke="#b4b4b4" stroke-width="1" />
<line x1="663" y1="195.5" x2="665" y2="195.5" stroke="#b4b4b4" stroke-width="1" />
<line x1="663" y1="192.5" x2="665" y2="192.5" stroke="#b4b4b4" stroke-width="1" />
<line x1="663" y1="189.5" x2="665" y2="189.5" stroke="#b4b4b4" stroke-width="1" />
<line x1="663" y1="186.5" x2="665" y2="186.5" stroke="#b4b4b4" stroke-width="1" />
<line x1="663" y1="183.5" x2="666" y2="183.5" stroke="#b4b4b4" stroke-width="1" />
<line x1="663" y1="180.5" x2="665" y2="180.5" stroke="#b4b4b4" stroke-width="1" />
<line x1="663" y1="177.5" x2="665" y2="177.5" stroke="#b4b4b4" stroke-width="1" />
<line x1="663" y1="175.5" x2="665" y2="175.5" stroke="#b4b4b4" stroke-width="1" />
<line x1="663" y1="172.5" x2="665" y2="172.5" stroke="#b4b4b4" stroke-width="1" />
<line x1="663" y1="169.5" x2="666" y2="169.5" stroke="#b4b4b4" stroke-width="1" />
<line x1="663" y1="166.5" x2="665" y2="166.5" stroke="#b4b4b4" stroke-width="1" />
<line x1="663" y1="163.5" x2="665" y2="163.5" stroke="#b4b4b4" stroke-width="1" />
<line x1="663" y1="161.5" x2="665" y2="161.5" stroke="#b4b4b4" stroke-width="1" />
<line x1="663" y1="158.5" x2="665" y2="158.5" stroke="#b4b4b4" stroke-width="1" />
<line x1="663" y1="155.5" x2="666" y2="155.5" stroke="#b4b4b4" stroke-width="1" />
<line x1="663" y1="153.5" x2="665" y2="153.5" stroke="#b4b4b4" stroke-width="1" />
<line x1="663" y1="150.5" x2="665" y2="150.5" stroke="#b4b4b4" stroke-width="1" />
<line x1="663" y1="147.5" x2="665" y2="147.5" stroke="#b4b4b4" stroke-width="1" />
<line x1="663" y1="145.5" x2="665" y2="145.5" stroke="#b4b4b4" stroke-width="1" />
<line x1="663" y1="142.5" x2="666" y2="142.5" stroke="#b4b4b4" stroke-width="1" />
<line x1="663" y1="139.5" x2="665" y2="139.5" stroke="#b4b4b4" stroke-width="1" />
<line x1="663" y1="137.5" x2="665" y2="137.5" stroke="#b4b4b4" stroke-width="1" />
<line x1="663" y1="134.5" x2="665" y2="134.5" stroke="#b4b4b4" stroke-width="1" />
<line x1="663" y1="132.5" x2="665" y2="132.5" stroke="#b4b4b4" stroke-width="1" />
<line x1="663" y1="129.5" x2="666" y2="129.5" stroke="#b4b4b4" stroke-width="1" />
<line x1="663" y1="511.5" x2="665" y2="511.5" stroke="#b4b4b4" stroke-width="1" />
<line x1="663" y1="508.5" x2="665" y2="508.5" stroke="#b4b4b4" stroke-width="1" />
<line x1="663" y1="506.5" x2="665" y2="506.5" stroke="#b4b4b4" stroke-width="1" />
<line x1="663" y1="503.5" x2="665" y2="503.5" stroke="#b4b4b4" stroke-width="1" />
<line x1="663" y1="500.5" x2="666" y2="500.5" stroke="#b4b4b4" stroke-width="1" />
<line x1="663" y1="497.5" x2="665" y2="497.5" stroke="#b4b4b4" stroke-width="1" />
<line x1="663" y1="494.5" x2="665" y2="494.5" stroke="#b4b4b4" stroke-width="1" />
<line x1="663" y1="492.5" x2="665" y2="492.5" stroke="#b4b4b4" stroke-width="1" />
<line x1="663" y1="489.5" x2="665" y2="489.5" stroke="#b4b4b4" stroke-width="1" />
<line x1="663" y1="486.5" x2="666" y2="486.5" stroke="#b4b4b4" stroke-width="1" />
<line x1="663" y1="483.5" x2="665" y2="483.5" stroke="#b4b4b4" stroke-width="1" />
<line x1="663" y1="480.5" x2="665" y2="480.5" stroke="#b4b4b4" stroke-width="1" />
<line x1="663" y1="478.5" x2="665" y2="478.5" stroke="#b4b4b4" stroke-width="1" />
<line x1="663" y1="475.5" x2="665" y2="475.5" stroke="#b4b4b4" stroke-width="1" />
<line x1="663" y1="472.5" x2="666" y2="472.5" stroke="#b4b4b4" stroke-width="1" />
<line x1="663" y1="469.5" x2="665" y2="469.5" stroke="#b4b4b4" stroke-width="1" />
<line x1="663" y1="466.5" x2="665" y2="466.5" stroke="#b4b4b4" stroke-width="1" />
<line x1="663" y1="464.5" x2="665" y2="464.5" stroke="#b4b4b4" stroke-width="1" />
<line x1="663" y1="461.5" x2="665" y2="461.5" stroke="#b4b4b4" stroke-width="1" />
<line x1="663" y1="458.5" x2="666" y2="458.5" stroke="#b4b4b4" stroke-width="1" />
<line x1="663" y1="455.5" x2="665" y2="455.5" stroke="#b4b4b4" stroke-width="1" />
<line x1="663" y1="452.5" x2="665" y2="452.5" stroke="#b4b4b4" stroke-width="1" />
<line x1="663" y1="450.5" x2="665" y2="450.5" stroke="#b4b4b4" stroke-width="1" />
<line x1="663" y1="447.5" x2="665" y2="447.5" stroke="#b4b4b4" stroke-width="1" />
<line x1="663" y1="444.5" x2="666" y2="444.5" stroke="#b4b4b4" stroke-width="1" />
<line x1="663" y1="441.5" x2="665" y2="441.5" stroke="#b4b4b4" stroke-width="1" />
<line x1="663" y1="438.5" x2="665" y2="438.5" stroke="#b4b4b4" stroke-width="1" />
<line x1="663" y1="436.5" x2="665" y2="436.5" stroke="#b4b4b4" stroke-width="1" />
<line x1="663" y1="433.5" x2="665" y2="433.5" stroke="#b4b4b4" stroke-width="1" />
<line x1="663" y1="430.5" x2="666" y2="430.5" stroke="#b4b4b4" stroke-width="1" />
<line x1="663" y1="427.5" x2="665" y2="427.5" stroke="#b4b4b4" stroke-width="1" />
<line x1="663" y1="424.5" x2="665" y2="424.5" stroke="#b4b4b4" stroke-width="1" />
<line x1="663" y1="422.5" x2="665" y2="422.5" stroke="#b4b4b4" stroke-width="1" />
<line x1="663" y1="419.5" x2="665" y2="419.5" stroke="#b4b4b4" stroke-width="1" />
<text x="46.7" y="414" font-family='"Liberation Sans", sans-serif' font-size="9.9" font-weight="normal" text-anchor="middle" fill="#000">M</text>
<text x="46.7" y="525" font-family='"Liberation Sans", sans-serif' font-size="9.9" font-weight="normal" text-anchor="middle" fill="#000">M</text>
<text x="66.7" y="414" font-family='"Liberation Sans", sans-serif' font-size="9.9" font-weight="normal" text-anchor="middle" fill="#000">A</text>
<text x="66.7" y="525" font-family='"Liberation Sans", sans-serif' font-size="9.9" font-weight="normal" text-anchor="middle" fill="#000">A</text>
<text x="86.7" y="414" font-family='"Liberation Sans", sans-serif' font-size="9.9" font-weight="normal" text-anchor="middle" fill="#000">M</text>
<text x="86.7" y="525" font-family='"Liberation Sans", sans-serif' font-size="9.9" font-weight="normal" text-anchor="middle" fill="#000">M</text>
<text x="111.7" y="414" font-family='"Liberation Sans", sans-serif' font-size="9.9" font-weight="normal" text-anchor="middle" fill="#000">J</text>
<text x="111.7" y="525" font-family='"Liberation Sans", sans-serif' font-size="9.9" font-weight="normal" text-anchor="middle" fill="#000">J</text>
<text x="131.7" y="414" font-family='"Liberation Sans", sans-serif' font-size="9.9" font-weight="normal" text-anchor="middle" fill="#000">J</text>
<text x="131.7" y="525" font-family='"Liberation Sans", sans-serif' font-size="9.9" font-weight="normal" text-anchor="middle" fill="#000">J</text>
<text x="151.7" y="414" font-family='"Liberation Sans", sans-serif' font-size="9.9" font-weight="normal" text-anchor="middle" fill="#000">A</text>
<text x="151.7" y="525" font-family='"Liberation Sans", sans-serif' font-size="9.9" font-weight="normal" text-anchor="middle" fill="#000">A</text>
<text x="176.7" y="414" font-family='"Liberation Sans", sans-serif' font-size="9.9" font-weight="normal" text-anchor="middle" fill="#000">S</text>
<text x="176.7" y="525" font-family='"Liberation Sans", sans-serif' font-size="9.9" font-weight="normal" text-anchor="middle" fill="#000">S</text>
<text x="196.7" y="414" font-family='"Liberation Sans", sans-serif' font-size="9.9" font-weight="normal" text-anchor="middle" fill="#000">O</text>
<text x="196.7" y="525" font-family='"Liberation Sans", sans-serif' font-size="9.9" font-weight="normal" text-anchor="middle" fill="#000">O</text>
<text x="221.7" y="414" font-family='"Liberation Sans", sans-serif' font-size="9.9" font-weight="normal" text-anchor="middle" fill="#000">N</text>
<text x="221.7" y="525" font-family='"Liberation Sans", sans-serif' font-size="9.9" font-weight="normal" text-anchor="middle" fill="#000">N</text>
<text x="241.7" y="414" font-family='"Liberation Sans", sans-serif' font-size="9.9" font-weight="normal" text-anchor="middle" fill="#000">D</text>
<text x="241.7" y="525" font-family='"Liberation Sans", sans-serif' font-size="9.9" font-weight="normal" text-anchor="middle" fill="#000">D</text>
<text x="259.2" y="414" font-family='"Liberation Sans", sans-serif' font-size="11.5" font-weight="bold" text-anchor="middle" fill="#000">23</text>
<text x="259.2" y="525" font-family='"Liberation Sans", sans-serif' font-size="11.5" font-weight="bold" text-anchor="middle" fill="#000">23</text>
<text x="286.7" y="414" font-family='"Liberation Sans", sans-serif' font-size="9.9" font-weight="normal" text-anchor="middle" fill="#000">F</text>
<text x="286.7" y="525" font-family='"Liberation Sans", sans-serif' font-size="9.9" font-weight="normal" text-anchor="middle" fill="#000">F</text>
<text x="306.7" y="414" font-family='"Liberation Sans", sans-serif' font-size="9.9" font-weight="normal" text-anchor="middle" fill="#000">M</text>
<text x="306.7" y="525" font-family='"Liberation Sans", sans-serif' font-size="9.9" font-weight="normal" text-anchor="middle" fill="#000">M</text>
<text x="326.7" y="414" font-family='"Liberation Sans", sans-serif' font-size="9.9" font-weight="normal" text-anchor="middle" fill="#000">A</text>
<text x="326.7" y="525" font-family='"Liberation Sans", sans-serif' font-size="9.9" font-weight="normal" text-anchor="middle" fill="#000">A</text>
<text x="346.7" y="414" font-family='"Liberation Sans", sans-serif' font-size="9.9" font-weight="normal" text-anchor="middle" fill="#000">M</text>
<text x="346.7" y="525" font-family='"Liberation Sans", sans-serif' font-size="9.9" font-weight="normal" text-anchor="middle" fill="#000">M</text>
<text x="371.7" y="414" font-family='"Liberation Sans", sans-serif' font-size="9.9" font-weight="normal" text-anchor="middle" fill="#000">J</text>
<text x="371.7" y="525" font-family='"Liberation Sans", sans-serif' font-size="9.9" font-weight="normal" text-anchor="middle" fill="#000">J</text>
<text x="391.7" y="414" font-family='"Liberation Sans", sans-serif' font-size="9.9" font-weight="normal" text-anchor="middle" fill="#000">J</text>
<text x="391.7" y="525" font-family='"Liberation Sans", sans-serif' font-size="9.9" font-weight="normal" text-anchor="middle" fill="#000">J</text>
<text x="416.7" y="414" font-family='"Liberation Sans", sans-serif' font-size="9.9" font-weight="normal" text-anchor="middle" fill="#000">A</text>
<text x="416.7" y="525" font-family='"Liberation Sans", sans-serif' font-size="9.9" font-weight="normal" text-anchor="middle" fill="#000">A</text>
<text x="436.7" y="414" font-family='"Liberation Sans", sans-serif' font-size="9.9" font-weight="normal" text-anchor="middle" fill="#000">S</text>
<text x="436.7" y="525" font-family='"Liberation Sans", sans-serif' font-size="9.9" font-weight="normal" text-anchor="middle" fill="#000">S</text>
<text x="456.7" y="414" font-family='"Liberation Sans", sans-serif' font-size="9.9" font-weight="normal" text-anchor="middle" fill="#000">O</text>
<text x="456.7" y="525" font-family='"Liberation Sans", sans-serif' font-size="9.9" font-weight="normal" text-anchor="middle" fill="#000">O</text>
<text x="481.7" y="414" font-family='"Liberation Sans", sans-serif' font-size="9.9" font-weight="normal" text-anchor="middle" fill="#000">N</text>
<text x="481.7" y="525" font-family='"Liberation Sans", sans-serif' font-size="9.9" font-weight="normal" text-anchor="middle" fill="#000">N</text>
<text x="501.7" y="414" font-family='"Liberation Sans", sans-serif' font-size="9.9" font-weight="normal" text-anchor="middle" fill="#000">D</text>
<text x="501.7" y="525" font-family='"Liberation Sans", sans-serif' font-size="9.9" font-weight="normal" text-anchor="middle" fill="#000">D</text>
<text x="519.2" y="414" font-family='"Liberation Sans", sans-serif' font-size="11.5" font-weight="bold" text-anchor="middle" fill="#000">24</text>
<text x="519.2" y="525" font-family='"Liberation Sans", sans-serif' font-size="11.5" font-weight="bold" text-anchor="middle" fill="#000">24</text>
<text x="546.7" y="414" font-family='"Liberation Sans", sans-serif' font-size="9.9" font-weight="normal" text-anchor="middle" fill="#000">F</text>
<text x="546.7" y="525" font-family='"Liberation Sans", sans-serif' font-size="9.9" font-weight="normal" text-anchor="middle" fill="#000">F</text>
<text x="566.7" y="414" font-family='"Liberation Sans", sans-serif' font-size="9.9" font-weight="normal" text-anchor="middle" fill="#000">M</text>
<text x="566.7" y="525" font-family='"Liberation Sans", sans-serif' font-size="9.9" font-weight="normal" text-anchor="middle" fill="#000">M</text>
<text x="586.7" y="414" font-family='"Liberation Sans", sans-serif' font-size="9.9" font-weight="normal" text-anchor="middle" fill="#000">A</text>
<text x="586.7" y="525" font-family='"Liberation Sans", sans-serif' font-size="9.9" font-weight="normal" text-anchor="middle" fill="#000">A</text>
<text x="611.7" y="414" font-family='"Liberation Sans", sans-serif' font-size="9.9" font-weight="normal" text-anchor="middle" fill="#000">M</text>
<text x="611.7" y="525" font-family='"Liberation Sans", sans-serif' font-size="9.9" font-weight="normal" text-anchor="middle" fill="#000">M</text>
<text x="631.7" y="414" font-family='"Liberation Sans", sans-serif' font-size="9.9" font-weight="normal" text-anchor="middle" fill="#000">J</text>
<text x="631.7" y="525" font-family='"Liberation Sans", sans-serif' font-size="9.9" font-weight="normal" text-anchor="middle" fill="#000">J</text>
<text x="651.7" y="414" font-family='"Liberation Sans", sans-serif' font-size="9.9" font-weight="normal" text-anchor="middle" fill="#000">J</text>
<text x="651.7" y="525" font-family='"Liberation Sans", sans-serif' font-size="9.9" font-weight="normal" text-anchor="middle" fill="#000">J</text>
<text x="40.7" y="13.7" font-family='"Liberation Sans", sans-serif' font-size="14" font-weight="bold" fill="#000" text-anchor="start" textLength="53" lengthAdjust="spacingAndGlyphs" >$SILVER</text>
<text x="97.7" y="12.9" font-family='"Liberation Sans", sans-serif' font-size="11" font-weight="normal" fill="#000" text-anchor="start" textLength="167" lengthAdjust="spacingAndGlyphs" >Silver - Continuous Contract (EOD)</text>
<text x="268.8" y="12.9" font-family='"Liberation Sans", sans-serif' font-size="9" font-weight="normal" fill="#000" text-anchor="start" textLength="22" lengthAdjust="spacingAndGlyphs" >CME</text>
<text x="40.8" y="25.8" font-family='"Liberation Sans", sans-serif' font-size="9.8" font-weight="normal" fill="#000" text-anchor="start" textLength="54.6" lengthAdjust="spacingAndGlyphs" >12-Jul-2024</text>
<text x="225.7" y="25.8" font-family='"Liberation Sans", sans-serif' font-size="10.7" font-weight="bold" fill="#000" text-anchor="start" textLength="28.2" lengthAdjust="spacingAndGlyphs" >Open</text>
<text x="257.3" y="25.8" font-family='"Liberation Sans", sans-serif' font-size="9.8" font-weight="normal" fill="#000" text-anchor="start" textLength="27" lengthAdjust="spacingAndGlyphs" >31.48</text>
<text x="290.7" y="25.8" font-family='"Liberation Sans", sans-serif' font-size="10.7" font-weight="bold" fill="#000" text-anchor="start" textLength="23.9" lengthAdjust="spacingAndGlyphs" >High</text>
<text x="317.7" y="25.8" font-family='"Liberation Sans", sans-serif' font-size="9.8" font-weight="normal" fill="#000" text-anchor="start" textLength="26.2" lengthAdjust="spacingAndGlyphs" >32.01</text>
<text x="350.6" y="25.8" font-family='"Liberation Sans", sans-serif' font-size="10.7" font-weight="bold" fill="#000" text-anchor="start" textLength="23.1" lengthAdjust="spacingAndGlyphs" >Low</text>
<text x="377.7" y="25.8" font-family='"Liberation Sans", sans-serif' font-size="9.8" font-weight="normal" fill="#000" text-anchor="start" textLength="25.7" lengthAdjust="spacingAndGlyphs" >30.62</text>
<text x="411.1" y="25.8" font-family='"Liberation Sans", sans-serif' font-size="10.7" font-weight="bold" fill="#000" text-anchor="start" textLength="30.9" lengthAdjust="spacingAndGlyphs" >Close</text>
<text x="445.8" y="25.8" font-family='"Liberation Sans", sans-serif' font-size="9.8" font-weight="normal" fill="#000" text-anchor="start" textLength="25.7" lengthAdjust="spacingAndGlyphs" >31.16</text>
<text x="479.3" y="25.8" font-family='"Liberation Sans", sans-serif' font-size="10.7" font-weight="bold" fill="#000" text-anchor="start" textLength="41.1" lengthAdjust="spacingAndGlyphs" >Volume</text>
<text x="524.6" y="25.8" font-family='"Liberation Sans", sans-serif' font-size="9.8" font-weight="normal" fill="#000" text-anchor="start" textLength="29.3" lengthAdjust="spacingAndGlyphs" >31.8M</text>
<text x="561.1" y="25.8" font-family='"Liberation Sans", sans-serif' font-size="10.7" font-weight="bold" fill="#000" text-anchor="start" textLength="20.6" lengthAdjust="spacingAndGlyphs" >Chg</text>
<text x="585.6" y="25.8" font-family='"Liberation Sans", sans-serif' font-size="9.8" font-weight="normal" fill="#000" text-anchor="start" textLength="66.8" lengthAdjust="spacingAndGlyphs" >-0.53 (-1.66%)</text>
<polygon points="655.7,21 661.4,21 658.55,25.4" fill="#a0102a" shape-rendering="auto"/>
<text x="572.7" y="12.9" font-family='"Liberation Sans", sans-serif' font-size="10.5" font-weight="normal" fill="#555555" text-anchor="start" textLength="89.2" lengthAdjust="spacingAndGlyphs" >&#169; StockCharts.com</text>
<rect x="41" y="29" width="95" height="11" fill="#fff"/>
<rect x="41" y="126" width="152" height="12" fill="#fff"/>
<rect x="41" y="138" width="73" height="11" fill="#fff"/>
<rect x="41" y="149" width="78" height="11" fill="#fff"/>
<rect x="41" y="160" width="95" height="10" fill="#fff"/>
<rect x="41" y="418" width="216" height="11" fill="#fff"/>
<polygon points="43,39 43,36 47.5,30 50,36 52.5,32 52.5,39" fill="#80ae78" stroke="none" shape-rendering="auto"/>
<polyline points="43.5,39 43.5,36 44.5,34.5 45.5,32.5 46.5,31 47.5,30.5 48.5,32.5 49.5,34.5 50.5,36 51.5,35 52.5,32.5 52.5,39" fill="none" stroke="#000" stroke-width="1.1" shape-rendering="auto"/>
<text x="55.5" y="38.8" font-family='"Liberation Sans", sans-serif' font-size="10" font-weight="normal" fill="#000" text-anchor="start" textLength="78.2" lengthAdjust="spacing" >RSI(14) 65.78</text>
<rect x="43.5" y="129.5" width="2" height="4" fill="#fff" stroke="#000" stroke-width="1"/>
<rect x="44" y="128" width="1" height="1" fill="#000"/><rect x="44" y="134" width="1" height="1" fill="#000"/>
<rect x="46" y="131" width="3" height="4" fill="#000"/><rect x="47" y="135" width="1" height="1" fill="#000"/>
<rect x="49.5" y="129.5" width="2" height="5" fill="#fff" stroke="#000" stroke-width="1"/>
<rect x="50" y="128" width="1" height="1" fill="#000"/><rect x="50" y="135" width="1" height="1" fill="#000"/>
<text x="55.6" y="136.6" font-family='"Liberation Sans", sans-serif' font-size="9.7" font-weight="normal" fill="#000" text-anchor="start" textLength="135.1" lengthAdjust="spacing" >$SILVER (Weekly) 31.16</text>
<rect x="43" y="142" width="9" height="2" fill="#14148e"/>
<text x="53.8" y="146.8" font-family='"Liberation Sans", sans-serif' font-size="9.6" font-weight="normal" fill="#14148e" text-anchor="start" textLength="58.3" lengthAdjust="spacing" stroke="#14148e" stroke-width="0.2">MA(50) 25.29</text>
<rect x="43" y="153" width="9" height="2" fill="#d0103a"/>
<text x="53.8" y="157.8" font-family='"Liberation Sans", sans-serif' font-size="9.6" font-weight="normal" fill="#d0103a" text-anchor="start" textLength="64.1" lengthAdjust="spacing" stroke="#d0103a" stroke-width="0.2">MA(200) 24.04</text>
<rect x="43.5" y="163.5" width="2" height="4" fill="#9a9a9a" stroke="#444" stroke-width="1"/><rect x="46.5" y="160.5" width="2" height="7" fill="#9a9a9a" stroke="#444" stroke-width="1"/><rect x="49.5" y="162.5" width="2" height="5" fill="#9a9a9a" stroke="#444" stroke-width="1"/>
<text x="53.8" y="167.8" font-family='"Liberation Sans", sans-serif' font-size="9.6" font-weight="normal" fill="#555555" text-anchor="start" textLength="81.2" lengthAdjust="spacing" stroke="#555" stroke-width="0.2">Volume 31,774,700</text>
<rect x="43" y="423" width="9" height="2" fill="#000"/>
<text x="55.7" y="427.8" font-family='"Liberation Sans", sans-serif' font-size="9.8" font-weight="normal" fill="#000" text-anchor="start" textLength="118.9" lengthAdjust="spacing" >MACD(12,26,9) 1.720</text>
<text x="176.6" y="427.8" font-family='"Liberation Sans", sans-serif' font-size="9.8" font-weight="normal" fill="#ff1a1a" text-anchor="start" textLength="38.8" lengthAdjust="spacing" stroke="#ff1a1a" stroke-width="0.2">, 1.540</text>
<text x="216.6" y="427.8" font-family='"Liberation Sans", sans-serif' font-size="9.8" font-weight="normal" fill="#2b8fd0" text-anchor="start" textLength="37.8" lengthAdjust="spacing" stroke="#2b8fd0" stroke-width="0.2">, 0.180</text>
<text x="666" y="46.553999999999995" font-family='"Liberation Sans", sans-serif' font-size="9.8" font-weight="normal" fill="#000" text-anchor="start" >90</text>
<text x="666" y="63.162" font-family='"Liberation Sans", sans-serif' font-size="9.8" font-weight="normal" fill="#000" text-anchor="start" >70</text>
<text x="666" y="79.77000000000001" font-family='"Liberation Sans", sans-serif' font-size="9.8" font-weight="normal" fill="#000" text-anchor="start" >50</text>
<text x="666" y="96.37800000000001" font-family='"Liberation Sans", sans-serif' font-size="9.8" font-weight="normal" fill="#000" text-anchor="start" >30</text>
<text x="666" y="112.986" font-family='"Liberation Sans", sans-serif' font-size="9.8" font-weight="normal" fill="#000" text-anchor="start" >10</text>
<text x="666" y="385.04563665184554" font-family='"Liberation Sans", sans-serif' font-size="9.8" font-weight="normal" fill="#000" text-anchor="start" >18</text>
<text x="666" y="362.4588386973027" font-family='"Liberation Sans", sans-serif' font-size="9.8" font-weight="normal" fill="#000" text-anchor="start" >19</text>
<text x="666" y="341.03085979372594" font-family='"Liberation Sans", sans-serif' font-size="9.8" font-weight="normal" fill="#000" text-anchor="start" >20</text>
<text x="666" y="320.64857355128896" font-family='"Liberation Sans", sans-serif' font-size="9.8" font-weight="normal" fill="#000" text-anchor="start" >21</text>
<text x="666" y="301.21465093975" font-family='"Liberation Sans", sans-serif' font-size="9.8" font-weight="normal" fill="#000" text-anchor="start" >22</text>
<text x="666" y="282.6447493187338" font-family='"Liberation Sans", sans-serif' font-size="9.8" font-weight="normal" fill="#000" text-anchor="start" >23</text>
<text x="666" y="264.86530015682405" font-family='"Liberation Sans", sans-serif' font-size="9.8" font-weight="normal" fill="#000" text-anchor="start" >24</text>
<text x="666" y="247.81174865800966" font-family='"Liberation Sans", sans-serif' font-size="9.8" font-weight="normal" fill="#000" text-anchor="start" >25</text>
<text x="666" y="231.42713885537358" font-family='"Liberation Sans", sans-serif' font-size="9.8" font-weight="normal" fill="#000" text-anchor="start" >26</text>
<text x="666" y="215.66096587922738" font-family='"Liberation Sans", sans-serif' font-size="9.8" font-weight="normal" fill="#000" text-anchor="start" >27</text>
<text x="666" y="200.4682370562677" font-family='"Liberation Sans", sans-serif' font-size="9.8" font-weight="normal" fill="#000" text-anchor="start" >28</text>
<text x="666" y="185.80869783983024" font-family='"Liberation Sans", sans-serif' font-size="9.8" font-weight="normal" fill="#000" text-anchor="start" >29</text>
<text x="666" y="171.64618902110777" font-family='"Liberation Sans", sans-serif' font-size="9.8" font-weight="normal" fill="#000" text-anchor="start" >30</text>
<text x="666" y="157.94810937751203" font-family='"Liberation Sans", sans-serif' font-size="9.8" font-weight="normal" fill="#000" text-anchor="start" >31</text>
<text x="666" y="144.684963661803" font-family='"Liberation Sans", sans-serif' font-size="9.8" font-weight="normal" fill="#000" text-anchor="start" >32</text>
<text x="666" y="131.82998016713185" font-family='"Liberation Sans", sans-serif' font-size="9.8" font-weight="normal" fill="#000" text-anchor="start" >33</text>
<text x="683.4" y="447.3" font-family='"Liberation Sans", sans-serif' font-size="9.8" font-weight="normal" fill="#000" text-anchor="end" >1.0</text>
<text x="683.4" y="461.3" font-family='"Liberation Sans", sans-serif' font-size="9.8" font-weight="normal" fill="#000" text-anchor="end" >0.5</text>
<text x="683.4" y="475.3" font-family='"Liberation Sans", sans-serif' font-size="9.8" font-weight="normal" fill="#000" text-anchor="end" >0.0</text>
<text x="683.4" y="489.3" font-family='"Liberation Sans", sans-serif' font-size="9.8" font-weight="normal" fill="#000" text-anchor="end" >-0.5</text>
<text x="683.4" y="503.3" font-family='"Liberation Sans", sans-serif' font-size="9.8" font-weight="normal" fill="#000" text-anchor="end" >-1.0</text>
<text x="36.9" y="327.0" font-family='"Liberation Sans", sans-serif' font-size="9.8" font-weight="normal" fill="#000" text-anchor="end" textLength="20.2" lengthAdjust="spacingAndGlyphs" >80M</text>
<line x1="37.5" y1="323.5" x2="40" y2="323.5" stroke="#888" stroke-width="1" />
<text x="36.9" y="347.4" font-family='"Liberation Sans", sans-serif' font-size="9.8" font-weight="normal" fill="#000" text-anchor="end" textLength="20.2" lengthAdjust="spacingAndGlyphs" >60M</text>
<line x1="37.5" y1="344.5" x2="40" y2="344.5" stroke="#888" stroke-width="1" />
<text x="36.9" y="366.79999999999995" font-family='"Liberation Sans", sans-serif' font-size="9.8" font-weight="normal" fill="#000" text-anchor="end" textLength="20.2" lengthAdjust="spacingAndGlyphs" >40M</text>
<line x1="37.5" y1="363.5" x2="40" y2="363.5" stroke="#888" stroke-width="1" />
<text x="36.9" y="386.59999999999997" font-family='"Liberation Sans", sans-serif' font-size="9.8" font-weight="normal" fill="#000" text-anchor="end" textLength="20.2" lengthAdjust="spacingAndGlyphs" >20M</text>
<line x1="37.5" y1="383.5" x2="40" y2="383.5" stroke="#888" stroke-width="1" />
<polygon points="660.5,63.5 664.5,58.5 693.5,58.5 693.5,68.5 664.5,68.5" fill="#ffffff" stroke="#000" stroke-width="1" shape-rendering="auto"/>
<text x="664.8" y="67.1" font-family='"Liberation Sans", sans-serif' font-size="10" font-weight="normal" fill="#000" text-anchor="start" textLength="26.4" lengthAdjust="spacingAndGlyphs" >65.78</text>
<polygon points="660.5,153.0 664.5,147.5 693.5,147.5 693.5,158.5 664.5,158.5" fill="#ffffff" stroke="#000" stroke-width="1" shape-rendering="auto"/>
<text x="664.8" y="156.6" font-family='"Liberation Sans", sans-serif' font-size="10.5" font-weight="bold" fill="#000" text-anchor="start" textLength="26.4" lengthAdjust="spacingAndGlyphs" >31.16</text>
<polygon points="660.5,239.5 664.5,234.5 693.5,234.5 693.5,244.5 664.5,244.5" fill="#ffffff" stroke="#14148e" stroke-width="1" shape-rendering="auto"/>
<text x="664.8" y="243.1" font-family='"Liberation Sans", sans-serif' font-size="10" font-weight="normal" fill="#000" text-anchor="start" textLength="26.4" lengthAdjust="spacingAndGlyphs" >25.29</text>
<polygon points="660.5,261.5 664.5,256.5 693.5,256.5 693.5,266.5 664.5,266.5" fill="#ffffff" stroke="#d0103a" stroke-width="1" shape-rendering="auto"/>
<text x="664.8" y="265.1" font-family='"Liberation Sans", sans-serif' font-size="10" font-weight="normal" fill="#000" text-anchor="start" textLength="26.4" lengthAdjust="spacingAndGlyphs" >24.04</text>
<polygon points="660.5,370.5 664.5,365.5 705.5,365.5 705.5,375.5 664.5,375.5" fill="#ffffff" stroke="#000" stroke-width="1" shape-rendering="auto"/>
<text x="664.8" y="374.1" font-family='"Liberation Sans", sans-serif' font-size="10" font-weight="normal" fill="#000" text-anchor="start" textLength="31.5" lengthAdjust="spacingAndGlyphs" >317747</text>
<polygon points="660.5,430.5 664.5,425.5 693.5,425.5 693.5,435.5 664.5,435.5" fill="#ffffff" stroke="#ff1a1a" stroke-width="1" shape-rendering="auto"/>
<text x="664.8" y="434.1" font-family='"Liberation Sans", sans-serif' font-size="10" font-weight="normal" fill="#000" text-anchor="start" textLength="26.4" lengthAdjust="spacingAndGlyphs" >1.540</text>
<polygon points="660.5,424.5 664.5,419.5 693.5,419.5 693.5,429.5 664.5,429.5" fill="#ffffff" stroke="#000" stroke-width="1" shape-rendering="auto"/>
<text x="664.8" y="428.1" font-family='"Liberation Sans", sans-serif' font-size="10" font-weight="normal" fill="#000" text-anchor="start" textLength="26.4" lengthAdjust="spacingAndGlyphs" >1.720</text>
<polygon points="660.5,466.5 664.5,461.5 693.5,461.5 693.5,471.5 664.5,471.5" fill="#ffffff" stroke="#2b6ea0" stroke-width="1" shape-rendering="auto"/>
<text x="664.8" y="470.1" font-family='"Liberation Sans", sans-serif' font-size="10" font-weight="normal" fill="#000" text-anchor="start" textLength="26.4" lengthAdjust="spacingAndGlyphs" >0.180</text>
</svg></body></html>
